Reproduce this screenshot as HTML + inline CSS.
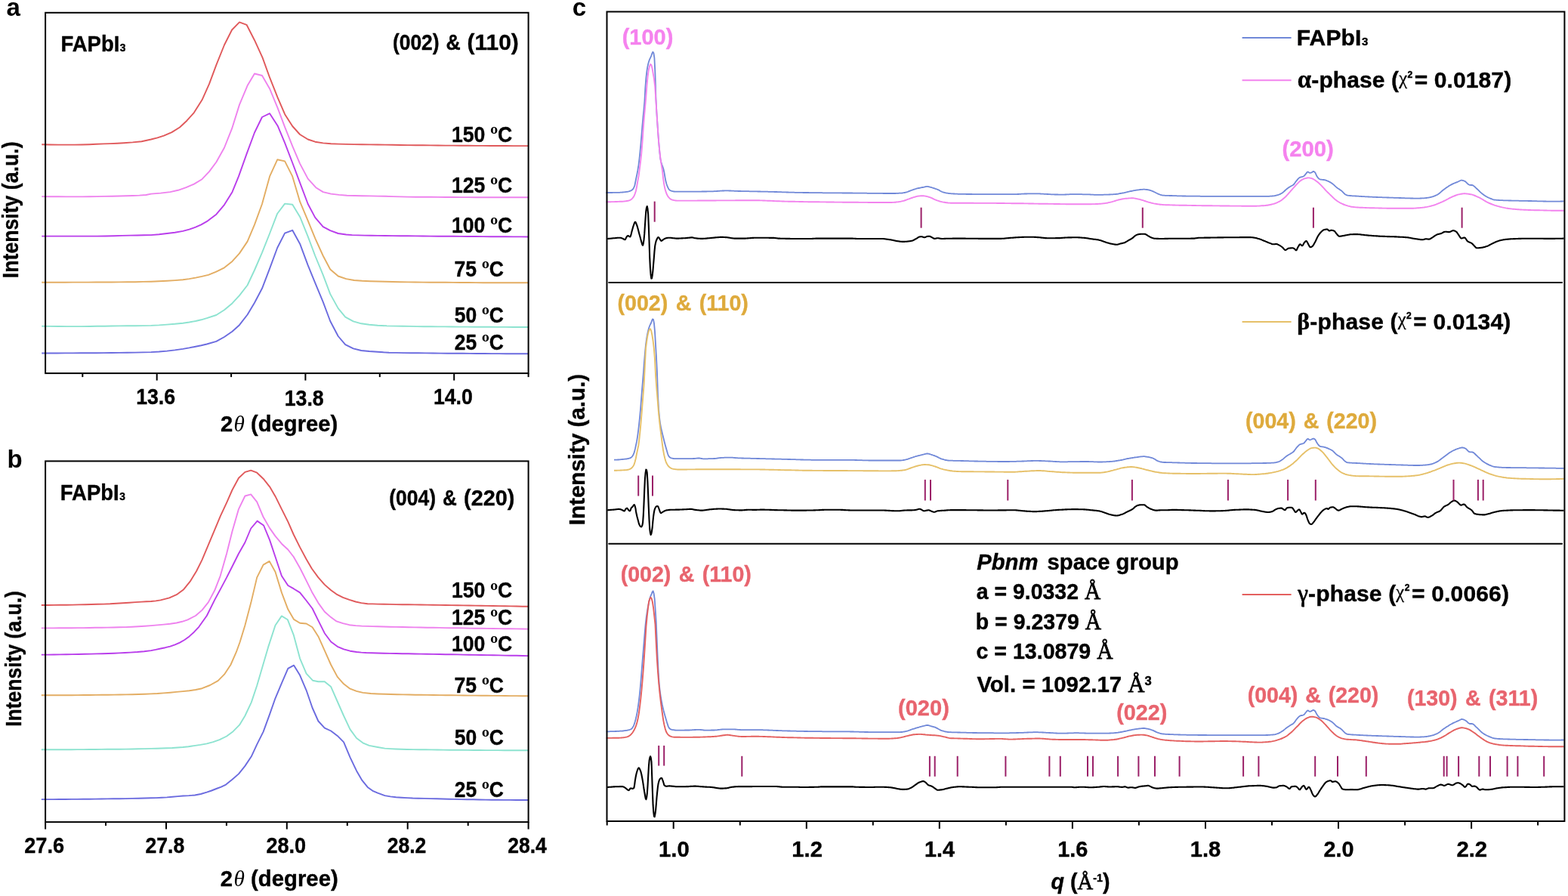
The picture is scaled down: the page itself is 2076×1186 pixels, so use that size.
<!DOCTYPE html>
<html lang="en">
<head>
<meta charset="utf-8">
<title>FAPbI3 temperature-dependent XRD and Le Bail fits</title>
<style>
html,body{margin:0;padding:0;background:#fff;}
body{width:2076px;height:1186px;overflow:hidden;}
svg{display:block;}
text{font-family:"Liberation Sans",Arial,Helvetica,sans-serif;font-weight:bold;}
</style>
</head>
<body>
<svg width="2076" height="1186" viewBox="0 0 2076 1186">
<rect x="0" y="0" width="2076" height="1186" fill="#fff"/>
<g id="panel-a">
<polyline points="55.3,191.3 66.2,191.5 77.2,191.6 88.1,191.6 99,191.6 108.6,191.5 118.2,191.2 127.8,190.8 137.4,190.4 146.2,190.1 155.1,189.7 163.9,189.2 175.7,188.4 187.5,187.2 200,184.5 208.4,182.3 216.9,179.7 227.4,175.1 238,168.5 247.4,159.7 256.9,149.1 267.5,132.3 277,111.2 286.4,85.9 297,59.5 307.1,39.5 317,29.4 326.5,32.8 337,53.2 347.6,76.4 357.1,102.7 367.6,129.1 377.1,151.2 387.2,167 397.1,178 407.7,184.5 417.2,187.7 427.7,189.4 438.2,190.2 448.2,190.6 458.3,190.9 468.7,191.1 479.1,191.2 489.6,191.4 500,191.5 510,191.6 520,191.8 530,192 540,192.1 550,192.2 560,192.3 569.9,192.4 579.9,192.5 589.9,192.6 599.9,192.6 609.8,192.7 619.8,192.8 629.8,192.9 639.8,192.9 649.7,193 659.7,193 669.7,193 679.7,193.1 689.6,193.1 699.6,193.1" fill="none" stroke="#E0595B" stroke-width="1.9" stroke-linejoin="round" stroke-linecap="butt" />
<polyline points="55.3,260.1 66.2,260.2 77.2,260.3 88.1,260.4 99,260.4 108.8,260.4 118.7,260.3 128.5,260.1 138.3,259.9 148.2,259.7 158,259.5 166.8,259.3 175.7,259 184.6,258.6 193.4,258 200,256.6 212.7,255.6 225.3,254.1 235.8,251.8 246.4,248.2 256.9,243.6 267.5,237.2 277,227.1 286.4,214.5 297,195.5 307.1,170.2 317,138.6 327.6,113.3 337,97.5 347,100 357.1,117.5 367.6,142.8 377.1,168.1 387.2,193.4 397.1,216.6 407.7,236.6 418.2,248.2 427.7,254.1 438.2,256.6 448.8,257.9 459.3,258.7 469.5,259 479.6,259.2 489.8,259.4 500,259.6 510,259.8 520,260.1 530,260.4 540,260.6 550,260.7 560,260.8 569.9,260.8 579.9,260.9 589.9,261 599.9,261 609.8,261.1 619.8,261.1 629.8,261.2 639.8,261.2 649.7,261.2 659.7,261.3 669.7,261.3 679.7,261.3 689.6,261.3 699.6,261.3" fill="none" stroke="#EE82EE" stroke-width="1.9" stroke-linejoin="round" stroke-linecap="butt" />
<polyline points="55.3,312.6 65.8,312.6 76.2,312.6 86.7,312.6 97.1,312.6 107.6,312.6 118,312.6 128.5,312.6 139.6,312.5 150.7,312.2 161.7,311.9 172.8,311.6 181.9,311.5 190.9,311.3 200,311.1 210.6,310.3 221.1,309 231.6,307.7 242.2,305.9 250.6,303.6 259,300.6 266.4,297.3 273.8,293.2 286.4,283.7 297,271.1 307.5,254.2 316,233.4 326.5,203.9 337,175.5 347,155 357.1,150.2 367.6,166.4 377.1,189.2 387.2,215.5 397.1,241.9 407.7,270 417.2,287.9 427.7,300.2 437.2,305.2 447.7,309 458.3,310.5 466.2,311.1 474.1,311.4 482.7,311.6 491.4,311.8 500,311.9 510,312 520,312.1 530,312.2 540,312.3 550,312.4 560,312.5 569.9,312.6 579.9,312.7 589.9,312.7 599.9,312.8 609.8,312.9 619.8,313 629.8,313 639.8,313.1 649.7,313.2 659.7,313.3 669.7,313.3 679.7,313.4 689.6,313.4 699.6,313.5" fill="none" stroke="#B93DEB" stroke-width="1.9" stroke-linejoin="round" stroke-linecap="butt" />
<polyline points="55.3,373.7 65.6,373.7 75.8,373.7 86.1,373.7 96.4,373.6 106.7,373.6 116.9,373.6 127.2,373.5 137.5,373.5 147.7,373.5 158,373.4 168.5,373.3 179,373.2 189.5,372.9 200,372.7 210.6,372.3 221.1,371.8 231.6,371.1 242.2,370.2 250.6,369.1 259,367.6 267.4,365.9 275.9,363.8 286.4,359.6 297,354.3 307.5,345.9 317,335.4 327.6,319.6 337,297.4 347,270 357.1,233.4 367.2,211.3 377.1,213.4 387.2,233.4 397.1,266.9 407.7,292.2 417.2,315.3 427.7,338.5 437.2,356.5 447.7,365.5 458.3,369.1 468.8,371 479.4,371.8 489.7,372.2 500,372.5 510,372.8 520,373 530,373.2 540,373.4 550,373.5 560,373.6 569.9,373.7 579.9,373.8 589.9,373.8 599.9,373.9 609.8,374 619.8,374 629.8,374.1 639.8,374.2 649.7,374.2 659.7,374.2 669.7,374.3 679.7,374.3 689.6,374.3 699.6,374.3" fill="none" stroke="#E3AD63" stroke-width="1.9" stroke-linejoin="round" stroke-linecap="butt" />
<polyline points="55.3,431.8 66.2,431.9 77.2,432 88.1,432.1 99,432.1 108.8,432.1 118.7,432 128.5,431.8 138.3,431.7 148.2,431.5 158,431.4 168.5,431.3 179,431.2 189.5,431.1 200,430.9 210.6,430.4 221.1,429.6 231.6,428.8 242.2,427.7 250.6,426.5 259,425 266.4,423.3 273.8,421.2 286.4,417 297,410.2 307.5,401.4 317,391.2 327.6,377.5 337,357.5 347,334.3 357.1,309 367.2,282.7 377.1,269.6 387.2,270.7 397.1,286.9 407.7,313.2 417.2,338.5 427.7,363.8 437.2,389.1 447.7,408.1 457.2,419.7 467.8,425.4 478.3,428.3 488.8,429.8 500,430.7 512,431.3 524,431.6 533.2,431.8 542.5,431.9 551.8,432.1 561,432.2 570.2,432.3 579.5,432.4 588.8,432.4 598,432.5 608.2,432.6 618.3,432.6 628.5,432.7 638.6,432.8 648.8,432.8 659,432.9 669.1,432.9 679.3,433 689.4,433 699.6,433" fill="none" stroke="#8DE3D0" stroke-width="1.9" stroke-linejoin="round" stroke-linecap="butt" />
<polyline points="55.3,467.5 65.6,467.5 75.8,467.5 86.1,467.4 96.4,467.4 106.7,467.3 116.9,467.3 127.2,467.2 137.5,467.1 147.7,467 158,466.9 168.5,466.8 179,466.6 189.5,466.4 200,466.1 210.6,465.5 221.1,464.6 231.6,463.4 242.2,461.9 250.6,460.4 259,458.7 266.4,457.2 273.8,455.5 286.4,451.9 297,446 307.5,438.7 317,430.2 327.6,416.5 337,400.7 347,381.8 357.1,355.4 367.2,328 377.1,308.6 387.2,304.8 397.1,322.7 407.7,351.2 417.2,374.4 427.7,399.7 437.2,425 447.7,445 457.2,456.2 467.8,461.4 478.3,464 488.8,465 500,465.7 507.5,466.3 515,466.7 524.8,466.9 534.5,467.1 544.2,467.2 554,467.3 563.7,467.4 573.4,467.5 583.1,467.6 592.8,467.7 602.5,467.7 612.2,467.8 621.9,467.9 631.7,468 641.4,468 651.1,468.1 660.8,468.1 670.5,468.2 680.2,468.2 689.9,468.2 699.6,468.2" fill="none" stroke="#6B6BDF" stroke-width="1.9" stroke-linejoin="round" stroke-linecap="butt" />
<rect x="60.1" y="16.8" width="639.5" height="477.3" fill="none" stroke="#000" stroke-width="2"/>
<line x1="207.7" y1="494.1" x2="207.7" y2="503.6" stroke="#000" stroke-width="2"/>
<line x1="404.4" y1="494.1" x2="404.4" y2="503.6" stroke="#000" stroke-width="2"/>
<line x1="601.2" y1="494.1" x2="601.2" y2="503.6" stroke="#000" stroke-width="2"/>
<line x1="109.3" y1="494.1" x2="109.3" y2="499.1" stroke="#000" stroke-width="2"/>
<line x1="306.1" y1="494.1" x2="306.1" y2="499.1" stroke="#000" stroke-width="2"/>
<line x1="502.8" y1="494.1" x2="502.8" y2="499.1" stroke="#000" stroke-width="2"/>
<line x1="699.6" y1="494.1" x2="699.6" y2="499.1" stroke="#000" stroke-width="2"/>
</g>
<g id="panel-b">
<polyline points="54.8,801 63.1,801 71.3,800.9 79.6,800.8 87.8,800.7 96.1,800.6 104.4,800.4 112.6,800.2 120.9,800 129.1,799.8 137.4,799.6 145.8,799.3 154.1,798.8 162.4,798.3 170.8,797.7 179.2,797.1 187.5,796.6 193.8,796.3 200,796 206.3,795.4 212.6,794.4 224.2,791.4 233.7,787.2 243.2,780.2 251.7,769.7 260.1,756 267.5,741.2 275.9,721.2 284.3,701.2 291.7,683.3 300.1,665.3 307.5,648.5 316,632.7 324.4,624.9 332.2,622.6 340.2,625.7 348.6,633.7 357.1,644.3 364.5,656.9 372.9,673.8 381.3,690.6 388.7,707.5 397.1,724.4 405.6,740.2 412.9,752.8 421.4,764.4 429.8,773.9 438.2,781.3 445.6,786.6 454.1,790.8 462.5,793.9 470.9,796.5 478.3,798.1 486.7,799.2 493.4,799.4 500,799.6 508.2,799.8 516.3,799.9 524.5,800.1 532.7,800.2 540.8,800.3 549,800.4 557.2,800.5 565.3,800.6 573.5,800.7 581.7,800.9 589.8,801 598,801.1 605.8,801.2 613.6,801.4 621.4,801.5 629.3,801.6 637.1,801.7 644.9,801.9 652.7,802 660.5,802.1 668.3,802.3 676.2,802.4 684,802.5 691.8,802.7 699.6,802.8" fill="none" stroke="#E0595B" stroke-width="1.9" stroke-linejoin="round" stroke-linecap="butt" />
<polyline points="54.8,831.4 62.7,831.4 70.7,831.4 78.6,831.3 86.6,831.3 94.5,831.2 102.4,831.1 110.4,831.1 118.3,831 126.2,830.8 134.2,830.7 142.1,830.6 150.1,830.5 158,830.3 166.4,830.1 174.8,829.7 183.2,829.2 191.6,828.7 200,828.1 208.4,827.4 216.9,826.6 225.3,825.7 233.7,824.5 241.1,822.8 248.5,820.3 259,815 267.5,807.6 275.9,797.1 284.3,781.3 291.7,762.3 300.1,732.8 307.5,703.3 316,673.8 324.4,656.5 332.2,654.4 340.2,664.3 348.6,684.3 357.1,699.1 364.5,709.6 372.9,719.7 381.3,727.5 388.7,737 397.1,751.8 405.6,768.6 412.9,783.4 421.4,798.1 429.8,809.7 438.2,817.1 445.6,822.4 454.1,825.1 462.5,827.2 470.9,828.1 478.8,828.6 486.7,828.9 493.4,829.1 500,829.3 508.2,829.5 516.3,829.7 524.5,829.9 532.7,830 540.8,830.2 549,830.4 557.2,830.5 565.3,830.7 573.5,830.8 581.7,830.9 589.8,831.1 598,831.2 605.8,831.3 613.6,831.4 621.4,831.6 629.3,831.7 637.1,831.8 644.9,831.9 652.7,832 660.5,832.1 668.3,832.2 676.2,832.3 684,832.4 691.8,832.5 699.6,832.6" fill="none" stroke="#EE82EE" stroke-width="1.9" stroke-linejoin="round" stroke-linecap="butt" />
<polyline points="54.8,866.6 63,866.6 71.2,866.5 79.4,866.4 87.6,866.3 95.7,866.1 103.9,866 112.1,865.8 120.3,865.6 128.5,865.4 135.9,865.2 143.3,865 150.7,864.7 158,864.4 165.4,864 172.8,863.6 181.9,863 190.9,862.2 200,861.1 206.3,859.9 212.6,858.5 218.9,857.2 225.3,855.6 231.7,853.4 238,850.6 244.3,847 250.6,842.4 256.9,836.7 263.3,829.8 273.8,815 284.3,793.9 292.8,778.1 300.1,764.4 307.5,749.7 316,732.8 324.4,718 332.2,699.5 340.6,689.6 349.1,695.5 357.1,714.9 364.5,737 372.9,762.3 381.3,775 388.7,779.2 397.1,784.4 405.6,795 413.6,805.5 421.4,821.3 429.8,838.2 438.2,849.5 446.7,855.8 455.1,859.4 463.5,861.7 472,863 478.3,863.6 484.6,864 492.3,864.3 500,864.5 508.2,864.7 516.3,864.9 524.5,865 532.7,865.2 540.8,865.3 549,865.5 557.2,865.6 565.3,865.8 573.5,865.9 581.7,866 589.8,866.2 598,866.3 605.8,866.4 613.6,866.6 621.4,866.7 629.3,866.9 637.1,867 644.9,867.1 652.7,867.3 660.5,867.4 668.3,867.6 676.2,867.7 684,867.8 691.8,868 699.6,868.1" fill="none" stroke="#B93DEB" stroke-width="1.9" stroke-linejoin="round" stroke-linecap="butt" />
<polyline points="54.8,920.3 62.8,920.3 70.8,920.3 78.8,920.3 86.9,920.2 94.9,920.2 102.9,920.1 110.9,920 118.9,920 126.9,919.9 134.9,919.8 143,919.7 151,919.6 159,919.5 167,919.4 175.2,919.2 183.5,919 191.8,918.7 200,918.4 208.4,918 216.9,917.4 225.3,916.7 233.7,915.9 242.1,915.1 250.6,914.2 259.1,913 267.5,911.2 278,907 288.6,901.1 297,892.7 305.4,880 312.8,863.2 317.6,850 324.4,827.7 332.2,798.1 340.2,764.4 348.6,747.6 356.7,742.9 364.5,757 372.9,784.4 381.3,806.6 389.1,819.9 397.1,824.7 405.6,825.5 413.6,830.2 421.4,842.4 429.8,861.1 438.2,880 446.7,895.9 455.1,905.3 463.5,911.7 472,914.8 480.4,916.9 491,918 500.2,918.5 509.5,918.8 517.5,919 525.6,919.2 533.6,919.4 541.7,919.5 549.7,919.7 557.8,919.8 565.8,919.9 573.9,920 581.9,920.1 590,920.2 598,920.3 605.8,920.4 613.6,920.5 621.4,920.6 629.3,920.6 637.1,920.7 644.9,920.8 652.7,920.9 660.5,920.9 668.3,921 676.2,921.1 684,921.1 691.8,921.2 699.6,921.2" fill="none" stroke="#E3AD63" stroke-width="1.9" stroke-linejoin="round" stroke-linecap="butt" />
<polyline points="54.8,992.3 62.7,992.3 70.7,992.3 78.6,992.3 86.6,992.2 94.5,992.2 102.4,992.1 110.4,992.1 118.3,992 126.2,992 134.2,991.9 142.1,991.8 150.1,991.8 158,991.7 166.4,991.6 174.8,991.5 183.2,991.3 191.6,991.1 200,990.9 207,990.7 214.1,990.5 221.1,990.3 228.1,990 235.2,989.5 242.2,989 249.5,988.2 256.9,987.1 265.4,985.9 273.8,984.4 282.2,982.1 290.7,979.1 300.1,974.5 308.6,968.2 317,959.7 324.4,947.5 332.8,929.6 340.2,907.5 347.6,882.2 355,856.9 364.5,827.7 372.9,815.4 380.9,820.3 388.7,840.3 397.1,871.6 405.6,891.6 414,900.7 421.4,902.2 429.8,902.2 438.2,909.1 446.7,928.5 455.1,947.5 463.5,965.4 472,977 480.4,983.3 488.8,986.9 500,989 509.5,990.6 516.9,991.1 524.2,991.5 531.6,991.8 539,992 547,992.1 555.1,992.2 563.1,992.3 571.1,992.4 579.1,992.5 587.2,992.6 595.2,992.7 603.2,992.8 611.3,992.8 619.3,992.9 627.3,993 635.4,993 643.4,993.1 651.4,993.1 659.5,993.1 667.5,993.2 675.5,993.2 683.5,993.2 691.6,993.2 699.6,993.2" fill="none" stroke="#8DE3D0" stroke-width="1.9" stroke-linejoin="round" stroke-linecap="butt" />
<polyline points="54.8,1058.1 62.7,1058.1 70.7,1058.1 78.6,1058 86.6,1058 94.5,1057.9 102.4,1057.9 110.4,1057.8 118.3,1057.7 126.2,1057.6 134.2,1057.5 142.1,1057.4 150.1,1057.3 158,1057.2 166.4,1057.1 174.8,1056.9 183.2,1056.7 191.6,1056.5 200,1056.3 207,1056.1 214.1,1055.8 221.1,1055.4 228.1,1054.8 235.2,1054.1 242.2,1053.5 250.1,1053.1 258,1052.5 265.9,1051 273.8,1048.7 280.1,1046.5 286.4,1044 292.8,1041.6 299.1,1038.6 307.5,1031.8 316,1024.4 324.4,1013.9 332.8,1001.3 340.2,985.4 348.6,968.6 357.1,945.4 364.5,924.3 372.9,904.3 381.3,884.9 389.1,880.7 397.1,893.8 405.6,913.8 413.6,937 421.4,954.5 429.8,963.7 438.2,967.5 446.7,973.9 455.1,982.3 463.5,1002.3 472,1020.2 479.4,1032.9 486.7,1041.9 494.1,1047.2 500,1049.7 509.5,1053.1 516.9,1054.4 524.3,1055.2 531.7,1055.7 539,1056.1 546.4,1056.5 553.8,1056.7 561.9,1056.9 570,1057.1 578.1,1057.3 586.2,1057.5 594.3,1057.7 602.4,1057.9 610.5,1058.1 618.6,1058.2 626.7,1058.3 634.8,1058.5 642.9,1058.6 651,1058.7 659.1,1058.8 667.2,1058.9 675.3,1058.9 683.4,1059 691.5,1059 699.6,1059" fill="none" stroke="#6B6BDF" stroke-width="1.9" stroke-linejoin="round" stroke-linecap="butt" />
<rect x="60.1" y="610.4" width="639.5" height="477.69999999999993" fill="none" stroke="#000" stroke-width="2"/>
<line x1="60.1" y1="1088.1" x2="60.1" y2="1097.6" stroke="#000" stroke-width="2"/>
<line x1="220" y1="1088.1" x2="220" y2="1097.6" stroke="#000" stroke-width="2"/>
<line x1="379.8" y1="1088.1" x2="379.8" y2="1097.6" stroke="#000" stroke-width="2"/>
<line x1="539.7" y1="1088.1" x2="539.7" y2="1097.6" stroke="#000" stroke-width="2"/>
<line x1="699.6" y1="1088.1" x2="699.6" y2="1097.6" stroke="#000" stroke-width="2"/>
<line x1="140" y1="1088.1" x2="140" y2="1093.1" stroke="#000" stroke-width="2"/>
<line x1="299.9" y1="1088.1" x2="299.9" y2="1093.1" stroke="#000" stroke-width="2"/>
<line x1="459.8" y1="1088.1" x2="459.8" y2="1093.1" stroke="#000" stroke-width="2"/>
<line x1="619.7" y1="1088.1" x2="619.7" y2="1093.1" stroke="#000" stroke-width="2"/>
</g>
<g id="panel-c">
<polyline points="802.4,255 803.4,255 804.4,255 805.4,255 806.4,255 807.4,255 808.4,255 809.4,255 810.4,255 811.4,254.9 812.4,254.9 813.4,254.9 814.4,254.9 815.4,254.9 816.4,254.9 817.4,254.8 818.4,254.8 819.4,254.8 820.4,254.8 821.4,254.7 822.4,254.7 823.4,254.6 824.4,254.5 825.4,254.4 826.4,254.3 827.4,254.2 828.4,254.1 829.4,253.9 830.4,253.8 831.4,253.6 832.4,253.4 833.4,253.1 834.4,252.7 835.4,252.3 836.4,251.7 837.4,251 838.4,249.8 839.4,247.9 840.4,245.2 841.4,240.2 842.4,235.3 843.4,230.5 844.4,225.2 845.4,218.9 846.4,211 847.4,201.7 848.4,191.2 849.4,179.2 850.4,166.9 851.4,155.9 852.4,145.8 853.4,134.1 854.4,115.9 855.4,103.1 856.4,94.4 857.4,88.2 858.4,83.7 859.4,80.4 860.4,77.9 861.4,75.8 862.4,73.5 863.4,70.6 864.4,68.7 865.4,70.2 866.4,76.6 867.4,97 868.4,130.1 869.4,148.8 870.4,163.5 871.4,178.1 872.4,190.8 873.4,201.9 874.4,210.4 875.4,214.9 876.4,218.1 877.4,220.8 878.4,223.8 879.4,228.1 880.4,234.1 881.4,239.6 882.4,243.3 883.4,246.2 884.4,248.4 885.4,250.2 886.4,251.5 887.4,252.1 888.4,252.5 889.4,252.9 890.4,253.1 891.4,253.4 892.4,253.5 893.4,253.6 894.4,253.6 895.4,253.6 896.4,253.6 897.4,253.6 898.4,253.6 899.4,253.6 900.4,253.6 901.4,253.6 902.4,253.6 903.4,253.6 904.4,253.6 905.4,253.6 906.4,253.6 907.4,253.6 908.4,253.6 909.4,253.6 910.4,253.6 911.4,253.6 912.4,253.6 913.4,253.6 914.4,253.6 915.4,253.6 916.4,253.6 917.4,253.6 918.4,253.6 919.4,253.6 920.4,253.6 921.4,253.6 922.4,253.6 923.4,253.6 924.4,253.6 925.4,253.6 926.4,253.6 927.4,253.6 928.4,253.6 929.4,253.5 930.4,253.5 931.4,253.5 932.4,253.5 933.4,253.5 934.4,253.5 935.4,253.5 936.4,253.4 937.4,253.4 938.4,253.4 939.4,253.4 940.4,253.4 941.4,253.3 942.4,253.3 943.4,253.3 944.4,253.3 945.4,253.2 946.4,253.2 947.4,253.1 948.4,253.1 949.4,253 950.4,252.9 951.4,252.9 952.4,252.8 953.4,252.7 954.4,252.7 955.4,252.6 956.4,252.5 957.4,252.5 958.4,252.5 959.4,252.4 960.4,252.4 961.4,252.4 962.4,252.4 963.4,252.4 964.4,252.4 965.4,252.5 966.4,252.5 967.4,252.5 968.4,252.6 969.4,252.6 970.4,252.7 971.4,252.7 972.4,252.8 973.4,252.8 974.4,252.8 975.4,252.9 976.4,252.9 977.4,253 978.4,253 979.4,253 980.4,253 981.4,253.1 982.4,253.1 983.4,253.1 984.4,253.1 985.4,253.1 986.4,253.2 987.4,253.2 988.4,253.2 989.4,253.2 990.4,253.2 991.4,253.2 992.4,253.3 993.4,253.3 994.4,253.3 995.4,253.3 996.4,253.3 997.4,253.3 998.4,253.4 999.4,253.4 1000.4,253.4 1001.4,253.4 1002.4,253.4 1003.4,253.5 1004.4,253.5 1005.4,253.5 1006.4,253.5 1007.4,253.6 1008.4,253.6 1009.4,253.6 1010.4,253.6 1011.4,253.6 1012.4,253.7 1013.4,253.7 1014.4,253.7 1015.4,253.7 1016.4,253.7 1017.4,253.8 1018.4,253.8 1019.4,253.8 1020.4,253.8 1021.4,253.9 1022.4,253.9 1023.4,253.9 1024.4,253.9 1025.4,254 1026.4,254 1027.4,254 1028.4,254 1029.4,254.1 1030.4,254.1 1031.4,254.1 1032.4,254.2 1033.4,254.2 1034.4,254.2 1035.4,254.3 1036.4,254.3 1037.4,254.3 1038.4,254.4 1039.4,254.4 1040.4,254.4 1041.4,254.5 1042.4,254.5 1043.4,254.5 1044.4,254.6 1045.4,254.6 1046.4,254.6 1047.4,254.6 1048.4,254.7 1049.4,254.7 1050.4,254.7 1051.4,254.7 1052.4,254.8 1053.4,254.8 1054.4,254.8 1055.4,254.8 1056.4,254.8 1057.4,254.9 1058.4,254.9 1059.4,254.9 1060.4,254.9 1061.4,254.9 1062.4,254.9 1063.4,255 1064.4,255 1065.4,255 1066.4,255 1067.4,255 1068.4,255 1069.4,255 1070.4,255 1071.4,255.1 1072.4,255.1 1073.4,255.1 1074.4,255.1 1075.4,255.1 1076.4,255.1 1077.4,255.1 1078.4,255.1 1079.4,255.2 1080.4,255.2 1081.4,255.2 1082.4,255.2 1083.4,255.2 1084.4,255.2 1085.4,255.2 1086.4,255.2 1087.4,255.2 1088.4,255.2 1089.4,255.3 1090.4,255.3 1091.4,255.3 1092.4,255.3 1093.4,255.3 1094.4,255.3 1095.4,255.3 1096.4,255.3 1097.4,255.3 1098.4,255.3 1099.4,255.3 1100.4,255.4 1101.4,255.4 1102.4,255.4 1103.4,255.4 1104.4,255.4 1105.4,255.4 1106.4,255.4 1107.4,255.4 1108.4,255.4 1109.4,255.4 1110.4,255.4 1111.4,255.4 1112.4,255.4 1113.4,255.4 1114.4,255.4 1115.4,255.5 1116.4,255.5 1117.4,255.5 1118.4,255.5 1119.4,255.5 1120.4,255.5 1121.4,255.5 1122.4,255.5 1123.4,255.5 1124.4,255.5 1125.4,255.5 1126.4,255.5 1127.4,255.5 1128.4,255.5 1129.4,255.6 1130.4,255.6 1131.4,255.6 1132.4,255.6 1133.4,255.6 1134.4,255.6 1135.4,255.6 1136.4,255.6 1137.4,255.6 1138.4,255.6 1139.4,255.6 1140.4,255.7 1141.4,255.7 1142.4,255.7 1143.4,255.7 1144.4,255.7 1145.4,255.7 1146.4,255.7 1147.4,255.7 1148.4,255.8 1149.4,255.8 1150.4,255.8 1151.4,255.8 1152.4,255.8 1153.4,255.8 1154.4,255.8 1155.4,255.8 1156.4,255.9 1157.4,255.9 1158.4,255.9 1159.4,255.9 1160.4,255.9 1161.4,255.9 1162.4,255.9 1163.4,255.9 1164.4,255.9 1165.4,255.9 1166.4,255.9 1167.4,255.9 1168.4,255.9 1169.4,256 1170.4,256 1171.4,256 1172.4,256 1173.4,256 1174.4,256 1175.4,256 1176.4,256 1177.4,256 1178.4,256 1179.4,256 1180.4,256 1181.4,256 1182.4,256 1183.4,256 1184.4,256 1185.4,256 1186.4,255.9 1187.4,255.9 1188.4,255.8 1189.4,255.8 1190.4,255.7 1191.4,255.7 1192.4,255.6 1193.4,255.6 1194.4,255.5 1195.4,255.3 1196.4,255.2 1197.4,255 1198.4,254.8 1199.4,254.5 1200.4,254.3 1201.4,254 1202.4,253.6 1203.4,253.2 1204.4,252.8 1205.4,252.4 1206.4,252 1207.4,251.6 1208.4,251.3 1209.4,250.9 1210.4,250.6 1211.4,250.3 1212.4,250 1213.4,249.7 1214.4,249.4 1215.4,249.2 1216.4,249 1217.4,248.8 1218.4,248.6 1219.4,248.4 1220.4,248.2 1221.4,248 1222.4,247.8 1223.4,247.6 1224.4,247.3 1225.4,247.1 1226.4,246.9 1227.4,246.8 1228.4,246.9 1229.4,247.1 1230.4,247.4 1231.4,247.7 1232.4,247.9 1233.4,248.2 1234.4,248.5 1235.4,248.8 1236.4,249.1 1237.4,249.4 1238.4,249.8 1239.4,250.1 1240.4,250.5 1241.4,250.9 1242.4,251.3 1243.4,251.8 1244.4,252.4 1245.4,253 1246.4,253.5 1247.4,254 1248.4,254.3 1249.4,254.6 1250.4,254.9 1251.4,255.2 1252.4,255.4 1253.4,255.6 1254.4,255.7 1255.4,255.8 1256.4,256 1257.4,256.1 1258.4,256.2 1259.4,256.3 1260.4,256.3 1261.4,256.4 1262.4,256.5 1263.4,256.5 1264.4,256.6 1265.4,256.6 1266.4,256.7 1267.4,256.7 1268.4,256.8 1269.4,256.8 1270.4,256.8 1271.4,256.8 1272.4,256.8 1273.4,256.9 1274.4,256.9 1275.4,256.9 1276.4,256.9 1277.4,256.9 1278.4,256.9 1279.4,257 1280.4,257 1281.4,257 1282.4,257 1283.4,257 1284.4,257 1285.4,257 1286.4,257 1287.4,257.1 1288.4,257.1 1289.4,257.1 1290.4,257.1 1291.4,257.1 1292.4,257.1 1293.4,257.1 1294.4,257.1 1295.4,257.1 1296.4,257.1 1297.4,257.1 1298.4,257.1 1299.4,257.1 1300.4,257.1 1301.4,257.1 1302.4,257.1 1303.4,257.1 1304.4,257.1 1305.4,257.1 1306.4,257.1 1307.4,257.1 1308.4,257.1 1309.4,257.1 1310.4,257.1 1311.4,257.1 1312.4,257.1 1313.4,257.1 1314.4,257.1 1315.4,257.1 1316.4,257.1 1317.4,257.1 1318.4,257.1 1319.4,257.1 1320.4,257.1 1321.4,257.1 1322.4,257.1 1323.4,257.1 1324.4,257.1 1325.4,257.1 1326.4,257.1 1327.4,257.1 1328.4,257.1 1329.4,257.1 1330.4,257.1 1331.4,257.1 1332.4,257.1 1333.4,257.1 1334.4,257.1 1335.4,257.1 1336.4,257.1 1337.4,257.1 1338.4,257.1 1339.4,257.1 1340.4,257.1 1341.4,257.1 1342.4,257.1 1343.4,257.1 1344.4,257.1 1345.4,257.1 1346.4,257.1 1347.4,257 1348.4,257 1349.4,256.9 1350.4,256.9 1351.4,256.8 1352.4,256.7 1353.4,256.7 1354.4,256.6 1355.4,256.6 1356.4,256.5 1357.4,256.5 1358.4,256.5 1359.4,256.5 1360.4,256.4 1361.4,256.4 1362.4,256.4 1363.4,256.4 1364.4,256.4 1365.4,256.3 1366.4,256.3 1367.4,256.3 1368.4,256.3 1369.4,256.3 1370.4,256.3 1371.4,256.3 1372.4,256.3 1373.4,256.3 1374.4,256.4 1375.4,256.4 1376.4,256.4 1377.4,256.5 1378.4,256.6 1379.4,256.6 1380.4,256.7 1381.4,256.7 1382.4,256.8 1383.4,256.8 1384.4,256.9 1385.4,256.9 1386.4,257 1387.4,257 1388.4,257.1 1389.4,257.1 1390.4,257.2 1391.4,257.3 1392.4,257.3 1393.4,257.3 1394.4,257.4 1395.4,257.4 1396.4,257.5 1397.4,257.5 1398.4,257.5 1399.4,257.5 1400.4,257.5 1401.4,257.6 1402.4,257.6 1403.4,257.6 1404.4,257.6 1405.4,257.6 1406.4,257.6 1407.4,257.6 1408.4,257.6 1409.4,257.6 1410.4,257.5 1411.4,257.5 1412.4,257.4 1413.4,257.4 1414.4,257.3 1415.4,257.3 1416.4,257.2 1417.4,257.2 1418.4,257.2 1419.4,257.2 1420.4,257.2 1421.4,257.2 1422.4,257.2 1423.4,257.2 1424.4,257.2 1425.4,257.2 1426.4,257.2 1427.4,257.2 1428.4,257.2 1429.4,257.2 1430.4,257.2 1431.4,257.2 1432.4,257.2 1433.4,257.3 1434.4,257.3 1435.4,257.3 1436.4,257.3 1437.5,257.3 1438.5,257.3 1439.5,257.3 1440.5,257.3 1441.5,257.4 1442.5,257.4 1443.5,257.5 1444.5,257.6 1445.5,257.6 1446.5,257.7 1447.5,257.7 1448.5,257.8 1449.5,257.8 1450.5,257.9 1451.5,257.9 1452.5,257.9 1453.5,257.9 1454.5,257.9 1455.5,257.9 1456.5,257.9 1457.5,257.8 1458.5,257.8 1459.5,257.8 1460.5,257.8 1461.5,257.7 1462.5,257.7 1463.5,257.7 1464.5,257.7 1465.5,257.6 1466.5,257.6 1467.5,257.6 1468.5,257.5 1469.5,257.5 1470.5,257.4 1471.5,257.4 1472.5,257.3 1473.5,257.3 1474.5,257.2 1475.5,257.2 1476.5,257.1 1477.5,257 1478.5,256.9 1479.5,256.8 1480.5,256.6 1481.5,256.4 1482.5,256.2 1483.5,256 1484.5,255.9 1485.5,255.7 1486.5,255.5 1487.5,255.3 1488.5,255.1 1489.5,254.8 1490.5,254.6 1491.5,254.4 1492.5,254.1 1493.5,253.9 1494.5,253.7 1495.5,253.4 1496.5,253.2 1497.5,253 1498.5,252.8 1499.5,252.6 1500.5,252.4 1501.5,252.2 1502.5,252.1 1503.5,251.9 1504.5,251.7 1505.5,251.6 1506.5,251.4 1507.5,251.3 1508.5,251.2 1509.5,251 1510.5,250.9 1511.5,250.8 1512.5,250.8 1513.5,250.7 1514.5,250.7 1515.5,250.7 1516.5,250.8 1517.5,250.9 1518.5,251 1519.5,251.1 1520.5,251.3 1521.5,251.5 1522.5,251.8 1523.5,252.1 1524.5,252.5 1525.5,252.9 1526.5,253.3 1527.5,253.7 1528.5,254.2 1529.5,254.7 1530.5,255.3 1531.5,255.8 1532.5,256.3 1533.5,256.7 1534.5,257.1 1535.5,257.5 1536.5,257.8 1537.5,258.2 1538.5,258.4 1539.5,258.6 1540.5,258.6 1541.5,258.7 1542.5,258.8 1543.5,258.8 1544.5,258.8 1545.5,258.9 1546.5,258.9 1547.5,258.9 1548.5,259 1549.5,259 1550.5,259 1551.5,259 1552.5,259.1 1553.5,259.1 1554.5,259.1 1555.5,259.2 1556.5,259.2 1557.5,259.2 1558.5,259.3 1559.5,259.3 1560.5,259.3 1561.5,259.4 1562.5,259.4 1563.5,259.4 1564.5,259.4 1565.5,259.5 1566.5,259.5 1567.5,259.5 1568.5,259.5 1569.5,259.5 1570.5,259.6 1571.5,259.6 1572.5,259.6 1573.5,259.6 1574.5,259.6 1575.5,259.6 1576.5,259.6 1577.5,259.6 1578.5,259.7 1579.5,259.7 1580.5,259.7 1581.5,259.7 1582.5,259.7 1583.5,259.7 1584.5,259.7 1585.5,259.7 1586.5,259.7 1587.5,259.7 1588.5,259.7 1589.5,259.8 1590.5,259.8 1591.5,259.8 1592.5,259.8 1593.5,259.8 1594.5,259.8 1595.5,259.8 1596.5,259.8 1597.5,259.8 1598.5,259.8 1599.5,259.8 1600.5,259.8 1601.5,259.8 1602.5,259.8 1603.5,259.9 1604.5,259.9 1605.5,259.9 1606.5,259.9 1607.5,259.9 1608.5,259.9 1609.5,259.9 1610.5,259.9 1611.5,259.9 1612.5,259.9 1613.5,259.9 1614.5,259.9 1615.5,259.9 1616.5,259.9 1617.5,259.9 1618.5,259.9 1619.5,259.9 1620.5,259.9 1621.5,259.9 1622.5,259.9 1623.5,259.9 1624.5,259.9 1625.5,259.9 1626.5,259.9 1627.5,259.9 1628.5,259.9 1629.5,259.9 1630.5,259.9 1631.5,259.9 1632.5,259.9 1633.5,259.9 1634.5,259.9 1635.5,259.9 1636.5,259.9 1637.5,259.9 1638.5,259.9 1639.5,259.9 1640.5,259.9 1641.5,259.9 1642.5,259.9 1643.5,259.9 1644.5,259.9 1645.5,259.9 1646.5,259.9 1647.5,259.9 1648.5,259.9 1649.5,259.9 1650.5,259.9 1651.5,259.9 1652.5,259.9 1653.5,259.9 1654.5,259.9 1655.5,259.9 1656.5,259.9 1657.5,259.9 1658.5,259.9 1659.5,259.9 1660.5,259.9 1661.5,259.9 1662.5,259.9 1663.5,259.9 1664.5,259.9 1665.5,259.9 1666.5,259.9 1667.5,259.9 1668.5,259.9 1669.5,259.9 1670.5,259.9 1671.5,259.9 1672.5,259.9 1673.5,259.9 1674.5,259.9 1675.5,259.9 1676.5,259.9 1677.5,259.9 1678.5,259.8 1679.5,259.8 1680.5,259.8 1681.5,259.7 1682.5,259.6 1683.5,259.6 1684.5,259.5 1685.5,259.4 1686.5,259.3 1687.5,259.2 1688.5,259 1689.5,258.7 1690.5,258.5 1691.5,258.2 1692.5,257.9 1693.5,257.5 1694.5,257.1 1695.5,256.6 1696.5,256 1697.5,255.4 1698.5,254.7 1699.5,253.9 1700.5,253 1701.5,252 1702.5,251.1 1703.5,250.3 1704.5,249.5 1705.5,248.8 1706.5,248.1 1707.5,247.4 1708.5,246.8 1709.5,246.2 1710.5,245.7 1711.5,245.2 1712.5,244.5 1713.5,243.5 1714.5,242.1 1715.5,240.6 1716.5,239.3 1717.5,238.1 1718.5,236.9 1719.5,235.9 1720.5,235.1 1721.5,234.7 1722.5,234.3 1723.5,234.1 1724.5,233.8 1725.5,233.5 1726.5,232.9 1727.5,231.8 1728.5,230.6 1729.5,229.4 1730.5,228.1 1731.5,227.5 1732.5,227.9 1733.5,228.7 1734.5,228.9 1735.5,228.7 1736.5,228.4 1737.5,227.8 1738.5,227 1739.5,227 1740.5,227.7 1741.5,228.8 1742.5,231.1 1743.5,233.3 1744.5,234.6 1745.5,235.8 1746.5,236.8 1747.5,237.3 1748.5,237.6 1749.5,237.7 1750.5,237.8 1751.5,237.9 1752.5,238 1753.5,238.2 1754.5,238.4 1755.5,238.7 1756.5,239.1 1757.5,239.5 1758.5,239.9 1759.5,240.3 1760.5,240.9 1761.5,241.4 1762.5,242 1763.5,242.7 1764.5,243.4 1765.5,244.3 1766.5,245.2 1767.5,246.2 1768.5,247.1 1769.5,247.9 1770.5,248.7 1771.5,249.4 1772.5,250 1773.5,250.7 1774.5,251.4 1775.5,252.1 1776.5,252.9 1777.5,253.9 1778.5,254.9 1779.5,256 1780.5,256.9 1781.5,257.5 1782.5,258.1 1783.5,258.5 1784.5,258.7 1785.5,258.8 1786.5,258.9 1787.5,259 1788.5,259.1 1789.5,259.2 1790.5,259.3 1791.5,259.3 1792.5,259.4 1793.5,259.4 1794.5,259.5 1795.5,259.5 1796.5,259.6 1797.5,259.7 1798.5,259.7 1799.5,259.8 1800.5,259.9 1801.5,259.9 1802.5,260 1803.5,260.1 1804.5,260.1 1805.5,260.2 1806.5,260.2 1807.5,260.3 1808.5,260.3 1809.5,260.4 1810.5,260.4 1811.5,260.5 1812.5,260.5 1813.5,260.6 1814.5,260.6 1815.5,260.7 1816.5,260.7 1817.5,260.8 1818.5,260.8 1819.5,260.9 1820.5,260.9 1821.5,260.9 1822.5,261 1823.5,261 1824.5,261.1 1825.5,261.1 1826.5,261.1 1827.5,261.2 1828.5,261.2 1829.5,261.2 1830.5,261.3 1831.5,261.3 1832.5,261.3 1833.5,261.4 1834.5,261.4 1835.5,261.4 1836.5,261.5 1837.5,261.5 1838.5,261.5 1839.5,261.6 1840.5,261.6 1841.5,261.6 1842.5,261.7 1843.5,261.7 1844.5,261.7 1845.5,261.8 1846.5,261.8 1847.5,261.8 1848.5,261.9 1849.5,261.9 1850.5,261.9 1851.5,261.9 1852.5,262 1853.5,262 1854.5,262 1855.5,262.1 1856.5,262.1 1857.5,262.1 1858.5,262.2 1859.5,262.2 1860.5,262.3 1861.5,262.3 1862.5,262.3 1863.5,262.3 1864.5,262.4 1865.5,262.4 1866.5,262.4 1867.5,262.5 1868.5,262.5 1869.5,262.5 1870.5,262.5 1871.5,262.6 1872.5,262.6 1873.5,262.6 1874.5,262.6 1875.5,262.6 1876.5,262.6 1877.5,262.6 1878.5,262.6 1879.5,262.6 1880.5,262.5 1881.5,262.5 1882.5,262.4 1883.5,262.4 1884.5,262.3 1885.5,262.3 1886.5,262.2 1887.5,262.1 1888.5,262 1889.5,261.9 1890.5,261.7 1891.5,261.6 1892.5,261.4 1893.5,261.2 1894.5,261 1895.5,260.7 1896.5,260.4 1897.5,260.1 1898.5,259.7 1899.5,259.3 1900.5,258.9 1901.5,258.4 1902.5,258 1903.5,257.4 1904.5,256.7 1905.5,256 1906.5,255.2 1907.5,254.3 1908.5,253.4 1909.5,252.5 1910.5,251.7 1911.5,250.9 1912.5,250.2 1913.5,249.5 1914.5,248.8 1915.5,248.1 1916.5,247.4 1917.5,246.8 1918.5,246.1 1919.5,245.5 1920.5,244.9 1921.5,244.4 1922.5,243.9 1923.5,243.4 1924.5,242.9 1925.5,242.5 1926.5,242.1 1927.5,241.7 1928.5,241.3 1929.5,240.9 1930.5,240.5 1931.5,240 1932.5,239.5 1933.5,239 1934.5,238.7 1935.5,238.7 1936.5,238.9 1937.5,239.2 1938.5,239.5 1939.5,239.9 1940.5,240.6 1941.5,241.6 1942.5,242.6 1943.5,243.5 1944.5,244.3 1945.5,244.8 1946.5,244.9 1947.5,245 1948.5,245 1949.5,245.2 1950.5,245.6 1951.5,246.4 1952.5,247.2 1953.5,248.2 1954.5,249.2 1955.5,250 1956.5,250.9 1957.5,251.9 1958.5,252.9 1959.5,253.9 1960.5,254.8 1961.5,255.7 1962.5,256.6 1963.5,257.3 1964.5,258 1965.5,258.7 1966.5,259.3 1967.5,260 1968.5,260.5 1969.5,261.1 1970.5,261.5 1971.5,262 1972.5,262.4 1973.5,262.8 1974.5,263.2 1975.5,263.6 1976.5,264 1977.5,264.3 1978.5,264.5 1979.5,264.6 1980.5,264.7 1981.5,264.8 1982.5,264.9 1983.5,264.9 1984.5,265 1985.5,265.1 1986.5,265.1 1987.5,265.2 1988.5,265.2 1989.5,265.2 1990.5,265.3 1991.5,265.3 1992.5,265.3 1993.5,265.4 1994.5,265.4 1995.5,265.4 1996.5,265.4 1997.5,265.5 1998.5,265.5 1999.5,265.5 2000.5,265.5 2001.5,265.6 2002.5,265.6 2003.5,265.6 2004.5,265.6 2005.5,265.6 2006.5,265.7 2007.5,265.7 2008.5,265.7 2009.5,265.7 2010.5,265.7 2011.5,265.8 2012.5,265.8 2013.5,265.8 2014.5,265.8 2015.5,265.8 2016.5,265.8 2017.5,265.9 2018.5,265.9 2019.5,265.9 2020.5,265.9 2021.5,265.9 2022.5,265.9 2023.5,266 2024.5,266 2025.5,266 2026.5,266 2027.5,266 2028.5,266.1 2029.5,266.1 2030.5,266.1 2031.5,266.1 2032.5,266.2 2033.5,266.2 2034.5,266.2 2035.5,266.3 2036.5,266.3 2037.5,266.3 2038.5,266.3 2039.5,266.4 2040.5,266.4 2041.5,266.4 2042.5,266.4 2043.5,266.5 2044.5,266.5 2045.5,266.5 2046.5,266.5 2047.5,266.6 2048.5,266.6 2049.5,266.6 2050.5,266.6 2051.5,266.6 2052.5,266.7 2053.5,266.7 2054.5,266.7 2055.5,266.7 2056.5,266.7 2057.5,266.7 2058.5,266.7 2059.5,266.7 2060.5,266.7 2061.5,266.7 2062.5,266.7 2063.5,266.6 2064.5,266.6 2065.5,266.6 2066.5,266.5 2067.5,266.5 2068.5,266.5 2069.5,266.4 2070.5,266.4" fill="none" stroke="#7088D8" stroke-width="1.8" stroke-linejoin="round" stroke-linecap="butt" />
<polyline points="802.4,267.2 803.6,267.2 804.8,267.2 806,267.2 807.2,267.2 808.4,267.2 809.6,267.1 810.8,267.1 812,267.1 813.2,267.1 814.4,267 815.6,267 816.8,267 818,266.9 819.2,266.9 820.4,266.8 821.6,266.8 822.8,266.7 824,266.7 825.2,266.6 826.4,266.5 827.6,266.4 828.8,266.2 830,266 831.2,265.8 832.4,265.5 833.6,265.1 834.8,264.6 836,263.7 837.2,262.6 838.4,261.2 839.6,259.2 840.8,256.3 842,252.5 843.2,246.2 844.4,239.4 845.6,232.9 846.8,223.9 848,214.3 849.2,203.6 850.4,189.3 851.6,171.2 852.8,155.9 854,143 855.2,129.5 856.4,113.2 857.6,101 858.8,92.6 860,87.7 861.2,85 862.4,85.9 863.6,90.7 864.8,97.9 866,104.6 867.2,114.6 868.4,132.8 869.6,151.7 870.8,170 872,186.5 873.3,199.8 874.5,210.5 875.7,218 876.9,225 878.1,236.3 879.3,244.6 880.5,250.2 881.7,254.2 882.9,257.3 884.1,259.6 885.3,261.1 886.5,262.4 887.7,263.4 888.9,264.1 890.1,264.5 891.3,264.8 892.5,265.1 893.7,265.4 894.9,265.5 896.1,265.6 897.3,265.6 898.5,265.6 899.7,265.6 900.9,265.6 902.1,265.6 903.3,265.6 904.5,265.6 905.7,265.6 906.9,265.6 908.1,265.6 909.3,265.6 910.5,265.6 911.7,265.6 912.9,265.6 914.1,265.6 915.3,265.6 916.5,265.6 917.7,265.6 918.9,265.6 920.1,265.6 921.3,265.6 922.5,265.6 923.7,265.5 924.9,265.5 926.1,265.5 927.3,265.5 928.5,265.5 929.7,265.5 930.9,265.5 932.1,265.5 933.3,265.5 934.5,265.5 935.7,265.5 936.9,265.5 938.1,265.5 939.3,265.5 940.5,265.5 941.7,265.5 942.9,265.5 944.1,265.5 945.3,265.5 946.5,265.5 947.7,265.5 948.9,265.4 950.1,265.4 951.3,265.4 952.5,265.4 953.7,265.4 954.9,265.4 956.1,265.4 957.3,265.4 958.5,265.4 959.7,265.4 960.9,265.4 962.1,265.4 963.3,265.4 964.5,265.4 965.7,265.4 966.9,265.4 968.1,265.4 969.3,265.4 970.5,265.4 971.7,265.4 972.9,265.4 974.1,265.3 975.3,265.3 976.5,265.3 977.7,265.3 978.9,265.3 980.1,265.3 981.3,265.3 982.5,265.3 983.7,265.3 984.9,265.3 986.1,265.3 987.3,265.3 988.5,265.3 989.7,265.3 990.9,265.3 992.1,265.3 993.3,265.3 994.5,265.3 995.7,265.3 996.9,265.3 998.1,265.3 999.3,265.3 1000.5,265.3 1001.7,265.3 1002.9,265.3 1004.1,265.3 1005.3,265.3 1006.5,265.4 1007.7,265.4 1008.9,265.4 1010.1,265.5 1011.3,265.5 1012.5,265.5 1013.8,265.6 1015,265.6 1016.2,265.7 1017.4,265.7 1018.6,265.8 1019.8,265.8 1021,265.9 1022.2,265.9 1023.4,266 1024.6,266 1025.8,266.1 1027,266.1 1028.2,266.2 1029.4,266.2 1030.6,266.3 1031.8,266.3 1033,266.4 1034.2,266.4 1035.4,266.5 1036.6,266.5 1037.8,266.5 1039,266.6 1040.2,266.6 1041.4,266.6 1042.6,266.6 1043.8,266.7 1045,266.7 1046.2,266.7 1047.4,266.7 1048.6,266.8 1049.8,266.8 1051,266.8 1052.2,266.8 1053.4,266.9 1054.6,266.9 1055.8,266.9 1057,266.9 1058.2,267 1059.4,267 1060.6,267 1061.8,267 1063,267 1064.2,267.1 1065.4,267.1 1066.6,267.1 1067.8,267.1 1069,267.1 1070.2,267.2 1071.4,267.2 1072.6,267.2 1073.8,267.2 1075,267.2 1076.2,267.2 1077.4,267.3 1078.6,267.3 1079.8,267.3 1081,267.3 1082.2,267.3 1083.4,267.3 1084.6,267.3 1085.8,267.4 1087,267.4 1088.2,267.4 1089.4,267.4 1090.6,267.4 1091.8,267.4 1093,267.4 1094.2,267.5 1095.4,267.5 1096.6,267.5 1097.8,267.5 1099,267.5 1100.2,267.5 1101.4,267.5 1102.6,267.5 1103.8,267.5 1105,267.6 1106.2,267.6 1107.4,267.6 1108.6,267.6 1109.8,267.6 1111,267.6 1112.2,267.6 1113.4,267.6 1114.6,267.6 1115.8,267.7 1117,267.7 1118.2,267.7 1119.4,267.7 1120.6,267.7 1121.8,267.7 1123,267.7 1124.2,267.7 1125.4,267.7 1126.6,267.7 1127.8,267.8 1129,267.8 1130.2,267.8 1131.4,267.8 1132.6,267.8 1133.8,267.8 1135,267.8 1136.2,267.8 1137.4,267.9 1138.6,267.9 1139.8,267.9 1141,267.9 1142.2,267.9 1143.4,267.9 1144.6,267.9 1145.8,267.9 1147,267.9 1148.2,267.9 1149.4,268 1150.6,268 1151.8,268 1153,268 1154.2,268 1155.5,268 1156.7,268 1157.9,268 1159.1,268 1160.3,268 1161.5,268 1162.7,268 1163.9,268 1165.1,268 1166.3,268 1167.5,268 1168.7,268 1169.9,268 1171.1,268 1172.3,268 1173.5,268 1174.7,268 1175.9,268 1177.1,268 1178.3,268 1179.5,268 1180.7,268 1181.9,267.9 1183.1,267.9 1184.3,267.8 1185.5,267.7 1186.7,267.5 1187.9,267.4 1189.1,267.3 1190.3,267.1 1191.5,266.9 1192.7,266.7 1193.9,266.4 1195.1,266.1 1196.3,265.8 1197.5,265.5 1198.7,265 1199.9,264.6 1201.1,264.1 1202.3,263.7 1203.5,263.3 1204.7,262.8 1205.9,262.4 1207.1,262 1208.3,261.6 1209.5,261.2 1210.7,260.8 1211.9,260.5 1213.1,260.1 1214.3,259.8 1215.5,259.6 1216.7,259.5 1217.9,259.4 1219.1,259.3 1220.3,259.2 1221.5,259.2 1222.7,259.3 1223.9,259.4 1225.1,259.6 1226.3,259.8 1227.5,260.1 1228.7,260.4 1229.9,260.8 1231.1,261.2 1232.3,261.6 1233.5,262.1 1234.7,262.7 1235.9,263.3 1237.1,263.9 1238.3,264.4 1239.5,264.8 1240.7,265.3 1241.9,265.7 1243.1,266.1 1244.3,266.5 1245.5,266.8 1246.7,267.1 1247.9,267.4 1249.1,267.6 1250.3,267.8 1251.5,268 1252.7,268.2 1253.9,268.3 1255.1,268.5 1256.3,268.6 1257.5,268.6 1258.7,268.7 1259.9,268.7 1261.1,268.7 1262.3,268.7 1263.5,268.8 1264.7,268.8 1265.9,268.8 1267.1,268.8 1268.3,268.8 1269.5,268.8 1270.7,268.8 1271.9,268.8 1273.1,268.8 1274.3,268.8 1275.5,268.8 1276.7,268.8 1277.9,268.8 1279.1,268.8 1280.3,268.8 1281.5,268.8 1282.7,268.8 1283.9,268.8 1285.1,268.8 1286.3,268.8 1287.5,268.8 1288.7,268.8 1289.9,268.9 1291.1,268.9 1292.3,268.9 1293.5,268.9 1294.7,268.9 1296,268.9 1297.2,268.9 1298.4,268.9 1299.6,268.9 1300.8,268.9 1302,268.9 1303.2,268.9 1304.4,268.9 1305.6,268.9 1306.8,268.9 1308,268.9 1309.2,268.9 1310.4,268.9 1311.6,268.9 1312.8,268.9 1314,268.9 1315.2,268.9 1316.4,268.9 1317.6,268.9 1318.8,268.9 1320,269 1321.2,269 1322.4,269 1323.6,269 1324.8,269 1326,269 1327.2,269 1328.4,269 1329.6,269 1330.8,269.1 1332,269.1 1333.2,269.1 1334.4,269.1 1335.6,269.1 1336.8,269.1 1338,269.1 1339.2,269.2 1340.4,269.2 1341.6,269.2 1342.8,269.2 1344,269.2 1345.2,269.2 1346.4,269.2 1347.6,269.3 1348.8,269.3 1350,269.3 1351.2,269.3 1352.4,269.3 1353.6,269.3 1354.8,269.3 1356,269.4 1357.2,269.4 1358.4,269.4 1359.6,269.4 1360.8,269.4 1362,269.5 1363.2,269.5 1364.4,269.5 1365.6,269.5 1366.8,269.5 1368,269.5 1369.2,269.6 1370.4,269.6 1371.6,269.6 1372.8,269.6 1374,269.6 1375.2,269.7 1376.4,269.7 1377.6,269.7 1378.8,269.7 1380,269.7 1381.2,269.8 1382.4,269.8 1383.6,269.8 1384.8,269.8 1386,269.8 1387.2,269.8 1388.4,269.9 1389.6,269.9 1390.8,269.9 1392,269.9 1393.2,269.9 1394.4,269.9 1395.6,270 1396.8,270 1398,270 1399.2,270 1400.4,270 1401.6,270 1402.8,270 1404,270.1 1405.2,270.1 1406.4,270.1 1407.6,270.1 1408.8,270.1 1410,270.1 1411.2,270.2 1412.4,270.2 1413.6,270.2 1414.8,270.2 1416,270.2 1417.2,270.2 1418.4,270.2 1419.6,270.2 1420.8,270.3 1422,270.3 1423.2,270.3 1424.4,270.3 1425.6,270.3 1426.8,270.3 1428,270.3 1429.2,270.3 1430.4,270.3 1431.6,270.3 1432.8,270.3 1434,270.3 1435.2,270.3 1436.4,270.3 1437.7,270.3 1438.9,270.3 1440.1,270.2 1441.3,270.2 1442.5,270.2 1443.7,270.2 1444.9,270.2 1446.1,270.1 1447.3,270.1 1448.5,270.1 1449.7,270.1 1450.9,270 1452.1,270 1453.3,270 1454.5,269.9 1455.7,269.8 1456.9,269.7 1458.1,269.6 1459.3,269.5 1460.5,269.4 1461.7,269.2 1462.9,269.1 1464.1,268.9 1465.3,268.7 1466.5,268.5 1467.7,268.2 1468.9,267.9 1470.1,267.7 1471.3,267.4 1472.5,267.1 1473.7,266.7 1474.9,266.4 1476.1,266 1477.3,265.6 1478.5,265.2 1479.7,264.9 1480.9,264.5 1482.1,264.2 1483.3,264 1484.5,263.7 1485.7,263.5 1486.9,263.3 1488.1,263.1 1489.3,262.9 1490.5,262.8 1491.7,262.7 1492.9,262.6 1494.1,262.5 1495.3,262.4 1496.5,262.4 1497.7,262.3 1498.9,262.3 1500.1,262.3 1501.3,262.4 1502.5,262.6 1503.7,262.8 1504.9,263.1 1506.1,263.3 1507.3,263.6 1508.5,263.8 1509.7,264.1 1510.9,264.5 1512.1,264.8 1513.3,265.2 1514.5,265.6 1515.7,266 1516.9,266.4 1518.1,266.9 1519.3,267.2 1520.5,267.6 1521.7,267.9 1522.9,268.2 1524.1,268.6 1525.3,268.8 1526.5,269.1 1527.7,269.4 1528.9,269.6 1530.1,269.8 1531.3,270 1532.5,270.2 1533.7,270.4 1534.9,270.5 1536.1,270.7 1537.3,270.8 1538.5,270.9 1539.7,271 1540.9,271.1 1542.1,271.1 1543.3,271.2 1544.5,271.2 1545.7,271.3 1546.9,271.3 1548.1,271.3 1549.3,271.4 1550.5,271.4 1551.7,271.4 1552.9,271.5 1554.1,271.5 1555.3,271.5 1556.5,271.6 1557.7,271.6 1558.9,271.6 1560.1,271.6 1561.3,271.7 1562.5,271.7 1563.7,271.7 1564.9,271.7 1566.1,271.8 1567.3,271.8 1568.5,271.8 1569.7,271.8 1570.9,271.8 1572.1,271.9 1573.3,271.9 1574.5,271.9 1575.7,271.9 1576.9,271.9 1578.2,272 1579.4,272 1580.6,272 1581.8,272 1583,272 1584.2,272.1 1585.4,272.1 1586.6,272.1 1587.8,272.1 1589,272.1 1590.2,272.1 1591.4,272.2 1592.6,272.2 1593.8,272.2 1595,272.2 1596.2,272.2 1597.4,272.2 1598.6,272.3 1599.8,272.3 1601,272.3 1602.2,272.3 1603.4,272.3 1604.6,272.3 1605.8,272.4 1607,272.4 1608.2,272.4 1609.4,272.4 1610.6,272.4 1611.8,272.4 1613,272.4 1614.2,272.4 1615.4,272.5 1616.6,272.5 1617.8,272.5 1619,272.5 1620.2,272.5 1621.4,272.5 1622.6,272.5 1623.8,272.5 1625,272.5 1626.2,272.5 1627.4,272.5 1628.6,272.6 1629.8,272.6 1631,272.6 1632.2,272.6 1633.4,272.6 1634.6,272.6 1635.8,272.6 1637,272.6 1638.2,272.6 1639.4,272.6 1640.6,272.6 1641.8,272.6 1643,272.6 1644.2,272.7 1645.4,272.7 1646.6,272.7 1647.8,272.7 1649,272.7 1650.2,272.7 1651.4,272.7 1652.6,272.7 1653.8,272.7 1655,272.7 1656.2,272.7 1657.4,272.7 1658.6,272.7 1659.8,272.7 1661,272.7 1662.2,272.7 1663.4,272.7 1664.6,272.6 1665.8,272.6 1667,272.6 1668.2,272.5 1669.4,272.4 1670.6,272.3 1671.8,272.2 1673,272.2 1674.2,272.1 1675.4,272 1676.6,271.8 1677.8,271.7 1679,271.5 1680.2,271.3 1681.4,271 1682.6,270.8 1683.8,270.5 1685,270.2 1686.2,269.9 1687.4,269.5 1688.6,269.1 1689.8,268.6 1691,268.1 1692.2,267.5 1693.4,266.9 1694.6,266.3 1695.8,265.6 1697,264.7 1698.2,263.8 1699.4,262.8 1700.6,261.8 1701.8,260.7 1703,259.5 1704.2,258.2 1705.4,256.8 1706.6,255.4 1707.8,254.1 1709,252.7 1710.2,251.3 1711.4,250 1712.6,248.6 1713.8,247.3 1715,246 1716.2,244.7 1717.4,243.4 1718.7,242.1 1719.9,240.9 1721.1,239.8 1722.3,238.9 1723.5,238.1 1724.7,237.5 1725.9,236.9 1727.1,236.4 1728.3,236.1 1729.5,235.8 1730.7,235.5 1731.9,235.4 1733.1,235.4 1734.3,235.6 1735.5,235.9 1736.7,236.2 1737.9,236.6 1739.1,237.3 1740.3,238 1741.5,238.8 1742.7,239.7 1743.9,240.6 1745.1,241.6 1746.3,242.6 1747.5,243.7 1748.7,244.9 1749.9,246.1 1751.1,247.3 1752.3,248.6 1753.5,250 1754.7,251.3 1755.9,252.6 1757.1,253.8 1758.3,255 1759.5,256.2 1760.7,257.4 1761.9,258.5 1763.1,259.7 1764.3,260.8 1765.5,262 1766.7,263.1 1767.9,264.2 1769.1,265.1 1770.3,266 1771.5,266.8 1772.7,267.5 1773.9,268.2 1775.1,268.9 1776.3,269.4 1777.5,270 1778.7,270.5 1779.9,271 1781.1,271.4 1782.3,271.8 1783.5,272.2 1784.7,272.6 1785.9,272.9 1787.1,273.2 1788.3,273.5 1789.5,273.7 1790.7,273.9 1791.9,274 1793.1,274.1 1794.3,274.3 1795.5,274.4 1796.7,274.5 1797.9,274.5 1799.1,274.6 1800.3,274.7 1801.5,274.7 1802.7,274.8 1803.9,274.8 1805.1,274.9 1806.3,274.9 1807.5,275 1808.7,275 1809.9,275.1 1811.1,275.1 1812.3,275.1 1813.5,275.2 1814.7,275.2 1815.9,275.2 1817.1,275.3 1818.3,275.3 1819.5,275.3 1820.7,275.4 1821.9,275.4 1823.1,275.4 1824.3,275.4 1825.5,275.5 1826.7,275.5 1827.9,275.5 1829.1,275.5 1830.3,275.6 1831.5,275.6 1832.7,275.6 1833.9,275.6 1835.1,275.6 1836.3,275.7 1837.5,275.7 1838.7,275.7 1839.9,275.7 1841.1,275.7 1842.3,275.8 1843.5,275.8 1844.7,275.8 1845.9,275.8 1847.1,275.8 1848.3,275.8 1849.5,275.8 1850.7,275.8 1851.9,275.8 1853.1,275.8 1854.3,275.8 1855.5,275.8 1856.7,275.8 1857.9,275.8 1859.1,275.8 1860.4,275.8 1861.6,275.8 1862.8,275.8 1864,275.8 1865.2,275.7 1866.4,275.7 1867.6,275.7 1868.8,275.7 1870,275.7 1871.2,275.7 1872.4,275.6 1873.6,275.6 1874.8,275.5 1876,275.4 1877.2,275.3 1878.4,275.2 1879.6,275.1 1880.8,275 1882,274.9 1883.2,274.8 1884.4,274.6 1885.6,274.5 1886.8,274.3 1888,274.1 1889.2,273.9 1890.4,273.6 1891.6,273.4 1892.8,273.1 1894,272.8 1895.2,272.5 1896.4,272.2 1897.6,271.9 1898.8,271.5 1900,271.1 1901.2,270.7 1902.4,270.2 1903.6,269.7 1904.8,269.2 1906,268.7 1907.2,268.1 1908.4,267.6 1909.6,267.1 1910.8,266.5 1912,266 1913.2,265.4 1914.4,264.8 1915.6,264.1 1916.8,263.5 1918,262.8 1919.2,262.2 1920.4,261.6 1921.6,261 1922.8,260.5 1924,259.9 1925.2,259.5 1926.4,259 1927.6,258.5 1928.8,258.1 1930,257.7 1931.2,257.4 1932.4,257.2 1933.6,256.9 1934.8,256.7 1936,256.5 1937.2,256.4 1938.4,256.3 1939.6,256.3 1940.8,256.4 1942,256.5 1943.2,256.6 1944.4,256.8 1945.6,257 1946.8,257.2 1948,257.4 1949.2,257.7 1950.4,258.1 1951.6,258.5 1952.8,259 1954,259.5 1955.2,260.1 1956.4,260.6 1957.6,261.2 1958.8,261.7 1960,262.3 1961.2,263 1962.4,263.7 1963.6,264.4 1964.8,265.2 1966,265.9 1967.2,266.6 1968.4,267.3 1969.6,267.9 1970.8,268.5 1972,269 1973.2,269.5 1974.4,270 1975.6,270.5 1976.8,270.9 1978,271.3 1979.2,271.8 1980.4,272.1 1981.6,272.5 1982.8,272.9 1984,273.2 1985.2,273.5 1986.4,273.8 1987.6,274.1 1988.8,274.4 1990,274.6 1991.2,274.9 1992.4,275.1 1993.6,275.4 1994.8,275.6 1996,275.8 1997.2,276 1998.4,276.1 1999.6,276.3 2000.9,276.4 2002.1,276.6 2003.3,276.7 2004.5,276.8 2005.7,276.9 2006.9,277 2008.1,277.1 2009.3,277.2 2010.5,277.3 2011.7,277.4 2012.9,277.5 2014.1,277.5 2015.3,277.6 2016.5,277.6 2017.7,277.7 2018.9,277.8 2020.1,277.8 2021.3,277.9 2022.5,277.9 2023.7,278 2024.9,278 2026.1,278 2027.3,278.1 2028.5,278.1 2029.7,278.1 2030.9,278.2 2032.1,278.2 2033.3,278.2 2034.5,278.3 2035.7,278.3 2036.9,278.3 2038.1,278.3 2039.3,278.4 2040.5,278.4 2041.7,278.4 2042.9,278.4 2044.1,278.5 2045.3,278.5 2046.5,278.5 2047.7,278.5 2048.9,278.6 2050.1,278.6 2051.3,278.6 2052.5,278.6 2053.7,278.7 2054.9,278.7 2056.1,278.7 2057.3,278.7 2058.5,278.7 2059.7,278.7 2060.9,278.7 2062.1,278.8 2063.3,278.8 2064.5,278.8 2065.7,278.8 2066.9,278.8 2068.1,278.8 2069.3,278.8 2070.5,278.8" fill="none" stroke="#F283EE" stroke-width="1.9" stroke-linejoin="round" stroke-linecap="butt" />
<polyline points="804.2,316.1 804.9,316 805.6,315.9 806.3,315.9 807,315.8 807.7,315.7 808.4,315.7 809.1,315.6 809.8,315.5 810.5,315.5 811.2,315.4 811.9,315.3 812.6,315.3 813.3,315.2 814,315.2 814.7,315.1 815.4,315 816.1,315 816.8,314.9 817.5,314.8 818.2,314.8 818.9,314.8 819.6,314.7 820.3,314.7 821,314.7 821.7,314.8 822.4,315 823.1,315.2 823.8,315.5 824.5,315.7 825.2,316.1 825.9,316.6 826.6,317.1 827.3,317.3 828,316.9 828.7,315.4 829.4,313.9 830.1,313 830.8,312.2 831.5,312 832.2,312.3 832.9,312.8 833.6,313.2 834.3,313.4 835,312.3 835.7,309.7 836.4,306.8 837.1,304.3 837.8,301.7 838.5,299.3 839.2,297.3 839.9,295.4 840.6,294 841.3,293.8 842,295 842.7,296.8 843.4,298.6 844.1,300.9 844.8,303.5 845.5,306.2 846.2,308.9 846.9,311.5 847.6,314.1 848.3,316.7 849,319.1 849.7,321.6 850.4,324 851.1,324.8 851.8,322.2 852.5,317.4 853.2,309.9 853.9,299 854.6,288.8 855.3,279.4 856,275 856.7,273.1 857.4,275.9 858.1,282.6 858.8,298.2 859.5,318.4 860.2,340.3 860.9,354.7 861.6,363.5 862.3,368.6 863,368.5 863.7,364.6 864.4,358.6 865.1,350 865.8,341.6 866.5,332.7 867.2,325.6 867.9,321.9 868.6,319.2 869.3,317.5 870,316 870.7,314.8 871.4,314.1 872.1,314.2 872.8,315.1 873.5,316.3 874.2,317.3 874.9,318.4 875.6,318.9 876.3,318.6 877,318.1 877.7,317.4 878.4,317 879.1,316.5 879.8,316.1 880.5,315.7 881.2,315.5 881.9,315.3 882.6,315.1 883.3,315 884,314.8 884.7,314.7 885.4,314.7 886.1,314.7 886.8,314.7 887.5,314.8 888.2,314.8 888.9,314.9 889.6,315 890.3,315.1 891,315.2 891.7,315.3 892.4,315.3 893.1,315.4 893.8,315.5 894.5,315.5 895.2,315.6 895.9,315.6 896.6,315.6 897.3,315.6 898,315.6 898.7,315.6 899.4,315.5 900.1,315.5 900.8,315.5 901.5,315.5 902.2,315.4 902.9,315.4 903.6,315.4 904.3,315.3 905,315.3 905.7,315.2 906.4,315.2 907.1,315.2 907.8,315.1 908.5,315.1 909.2,315 909.9,314.9 910.6,314.9 911.3,314.8 912,314.7 912.7,314.6 913.4,314.6 914.1,314.5 914.8,314.4 915.5,314.4 916.2,314.4 916.9,314.4 917.6,314.6 918.3,314.8 919,315 919.7,315.2 920.4,315.3 921.1,315.3 921.8,315.4 922.5,315.5 923.2,315.6 923.9,315.6 924.6,315.7 925.3,315.7 926,315.8 926.7,315.8 927.4,315.9 928.1,315.9 928.8,315.9 929.5,315.9 930.2,315.9 930.9,315.9 931.6,315.8 932.3,315.8 933,315.8 933.7,315.7 934.4,315.6 935.1,315.6 935.8,315.5 936.5,315.4 937.2,315.4 937.9,315.3 938.6,315.2 939.3,315.2 940,315.1 940.7,315 941.4,315 942.1,314.9 942.8,314.9 943.5,314.8 944.2,314.7 944.9,314.6 945.6,314.6 946.3,314.5 947,314.4 947.7,314.4 948.4,314.3 949.1,314.2 949.8,314.2 950.5,314.1 951.2,314.1 951.9,314 952.6,314 953.3,313.9 954,313.9 954.7,313.9 955.4,313.9 956.1,313.9 956.8,313.9 957.5,313.9 958.2,314 958.9,314 959.6,314 960.3,314.1 961,314.1 961.7,314.1 962.4,314.2 963.1,314.3 963.8,314.4 964.5,314.5 965.2,314.6 965.9,314.7 966.6,314.8 967.3,315 968,315.1 968.7,315.2 969.4,315.3 970.1,315.4 970.8,315.5 971.5,315.5 972.2,315.6 972.9,315.6 973.6,315.6 974.3,315.6 975,315.6 975.7,315.6 976.4,315.6 977.1,315.6 977.8,315.6 978.5,315.6 979.2,315.6 979.9,315.6 980.6,315.6 981.3,315.6 982,315.6 982.7,315.6 983.4,315.6 984.1,315.6 984.8,315.6 985.5,315.6 986.2,315.6 986.9,315.6 987.6,315.5 988.3,315.5 989,315.5 989.7,315.4 990.4,315.4 991.1,315.3 991.8,315.2 992.5,315.2 993.2,315.1 993.9,315.1 994.6,315 995.3,315 996,314.9 996.7,314.9 997.4,314.9 998.1,314.8 998.8,314.8 999.5,314.8 1000.2,314.8 1000.9,314.8 1001.6,314.8 1002.3,314.8 1003,314.8 1003.7,314.8 1004.4,314.8 1005.1,314.8 1005.8,314.8 1006.5,314.8 1007.2,314.8 1007.9,314.8 1008.6,314.8 1009.3,314.8 1010,314.8 1010.7,314.8 1011.4,314.8 1012.1,314.8 1012.8,314.8 1013.5,314.8 1014.2,314.8 1014.9,314.8 1015.6,314.8 1016.3,314.8 1017,314.8 1017.7,314.8 1018.4,314.9 1019.1,314.9 1019.8,314.9 1020.5,314.9 1021.2,314.9 1021.9,314.9 1022.6,314.9 1023.3,314.9 1024,314.9 1024.7,314.9 1025.4,315 1026.1,315 1026.8,315.1 1027.5,315.2 1028.2,315.3 1028.9,315.4 1029.6,315.5 1030.3,315.6 1031,315.6 1031.7,315.6 1032.4,315.6 1033.1,315.7 1033.8,315.7 1034.5,315.7 1035.2,315.7 1035.9,315.8 1036.6,315.8 1037.3,315.8 1038,315.8 1038.7,315.8 1039.4,315.8 1040.1,315.9 1040.8,315.9 1041.5,315.9 1042.2,315.9 1042.9,315.9 1043.6,315.9 1044.3,315.9 1045,315.9 1045.7,315.9 1046.4,316 1047.1,316 1047.8,316 1048.5,316 1049.2,316 1049.9,316 1050.6,316 1051.3,316 1052,316 1052.7,316 1053.4,316 1054.1,316 1054.8,316 1055.5,316 1056.2,316 1056.9,316 1057.6,316 1058.3,316 1059,316 1059.7,316 1060.4,316 1061.1,316 1061.8,316 1062.5,316 1063.2,316 1063.9,316 1064.6,316 1065.3,316 1066,316 1066.7,316 1067.4,316 1068.1,316 1068.8,316 1069.5,316 1070.2,316 1070.9,316 1071.6,316 1072.3,316 1073,316 1073.7,316 1074.4,316 1075.1,316 1075.8,315.9 1076.5,315.9 1077.2,315.8 1077.9,315.8 1078.6,315.7 1079.3,315.7 1080,315.6 1080.7,315.6 1081.4,315.6 1082.1,315.6 1082.8,315.6 1083.5,315.6 1084.2,315.6 1084.9,315.6 1085.6,315.6 1086.3,315.6 1087,315.6 1087.7,315.6 1088.4,315.6 1089.1,315.6 1089.8,315.6 1090.5,315.6 1091.2,315.6 1091.9,315.6 1092.6,315.6 1093.3,315.6 1094,315.6 1094.7,315.6 1095.4,315.6 1096.1,315.6 1096.8,315.6 1097.5,315.6 1098.2,315.6 1098.9,315.6 1099.6,315.6 1100.3,315.6 1101,315.6 1101.7,315.6 1102.4,315.6 1103.1,315.6 1103.8,315.6 1104.5,315.6 1105.2,315.6 1105.9,315.6 1106.6,315.6 1107.3,315.6 1108,315.6 1108.7,315.6 1109.4,315.6 1110.1,315.6 1110.8,315.6 1111.5,315.6 1112.2,315.6 1112.9,315.6 1113.6,315.6 1114.3,315.6 1115,315.6 1115.7,315.6 1116.4,315.6 1117.1,315.6 1117.8,315.6 1118.5,315.6 1119.2,315.6 1119.9,315.6 1120.6,315.6 1121.3,315.6 1122,315.6 1122.7,315.6 1123.4,315.6 1124.1,315.6 1124.8,315.6 1125.5,315.6 1126.2,315.6 1126.9,315.6 1127.6,315.6 1128.3,315.6 1129,315.6 1129.7,315.7 1130.4,315.7 1131.1,315.8 1131.8,315.8 1132.5,315.9 1133.2,315.9 1133.9,316 1134.6,316 1135.3,316 1136,316 1136.7,316 1137.4,316 1138.1,316 1138.8,316 1139.5,316 1140.2,316 1140.9,316 1141.6,316 1142.3,316 1143,316 1143.7,316 1144.4,316 1145.1,316 1145.8,316 1146.5,316 1147.2,316 1147.9,316 1148.6,316 1149.3,316 1150,316 1150.7,316 1151.4,316 1152.1,316 1152.8,316 1153.5,316 1154.2,316 1154.9,316 1155.6,316 1156.3,316 1157,316 1157.7,316 1158.4,316 1159.1,316 1159.8,316 1160.5,316 1161.2,316 1161.9,316 1162.6,316 1163.3,316 1164,316 1164.7,316 1165.4,316 1166.1,316 1166.8,316 1167.5,316 1168.2,316 1168.9,316 1169.6,316 1170.3,316.1 1171,316.2 1171.7,316.2 1172.4,316.4 1173.1,316.5 1173.8,316.6 1174.5,316.7 1175.2,316.8 1175.9,316.9 1176.6,317 1177.3,317.1 1178,317.2 1178.7,317.3 1179.4,317.4 1180.1,317.5 1180.8,317.7 1181.5,317.8 1182.2,317.9 1182.9,318.1 1183.6,318.2 1184.3,318.4 1185,318.5 1185.7,318.7 1186.4,318.9 1187.1,319 1187.8,319.1 1188.5,319.3 1189.2,319.3 1189.9,319.4 1190.6,319.5 1191.3,319.6 1192,319.7 1192.7,319.8 1193.4,319.8 1194.1,319.9 1194.8,319.9 1195.5,319.9 1196.2,319.9 1196.9,319.9 1197.6,319.9 1198.3,319.8 1199,319.8 1199.7,319.7 1200.4,319.7 1201.1,319.6 1201.8,319.5 1202.5,319.5 1203.2,319.4 1203.9,319.3 1204.6,319.2 1205.3,319.1 1206,319 1206.7,318.8 1207.4,318.7 1208.1,318.5 1208.8,318.2 1209.5,317.9 1210.2,317.5 1210.9,317.2 1211.6,316.7 1212.3,316.3 1213,316 1213.7,315.6 1214.4,315.1 1215.1,314.6 1215.8,314.2 1216.5,313.8 1217.2,313.6 1217.9,313.4 1218.6,313.3 1219.3,313.2 1220,313.2 1220.7,313.3 1221.4,313.5 1222.1,313.8 1222.8,314.1 1223.5,314.3 1224.2,314.3 1224.9,314.1 1225.6,313.8 1226.3,313.4 1227,313.1 1227.7,312.9 1228.4,312.9 1229.1,312.8 1229.8,312.8 1230.5,312.8 1231.2,312.9 1231.9,313.2 1232.6,313.5 1233.3,313.9 1234,314.3 1234.7,314.7 1235.4,315.2 1236.1,315.5 1236.8,315.8 1237.5,315.9 1238.2,315.8 1238.9,315.7 1239.6,315.5 1240.3,315.3 1241,315.2 1241.7,315.2 1242.4,315.3 1243.1,315.4 1243.8,315.5 1244.5,315.7 1245.2,315.8 1245.9,315.9 1246.6,316 1247.3,316 1248,316 1248.7,316 1249.4,316 1250.1,315.9 1250.8,315.9 1251.5,315.9 1252.2,315.8 1252.9,315.8 1253.6,315.8 1254.3,315.7 1255,315.7 1255.7,315.7 1256.4,315.7 1257.1,315.7 1257.8,315.7 1258.5,315.7 1259.2,315.7 1259.9,315.7 1260.6,315.7 1261.3,315.6 1262,315.6 1262.7,315.6 1263.4,315.6 1264.1,315.6 1264.8,315.6 1265.5,315.6 1266.2,315.6 1266.9,315.6 1267.6,315.6 1268.3,315.6 1269,315.6 1269.7,315.6 1270.4,315.6 1271.1,315.6 1271.8,315.6 1272.5,315.6 1273.2,315.6 1273.9,315.6 1274.6,315.6 1275.3,315.6 1276,315.6 1276.7,315.6 1277.4,315.6 1278.1,315.6 1278.8,315.7 1279.5,315.7 1280.2,315.7 1280.9,315.7 1281.6,315.7 1282.3,315.7 1283,315.7 1283.7,315.7 1284.4,315.7 1285.1,315.7 1285.8,315.7 1286.5,315.7 1287.2,315.8 1287.9,315.8 1288.6,315.8 1289.3,315.8 1290,315.8 1290.7,315.8 1291.4,315.8 1292.1,315.8 1292.8,315.8 1293.5,315.8 1294.2,315.8 1294.9,315.8 1295.6,315.9 1296.3,315.9 1297,315.9 1297.7,315.9 1298.4,315.9 1299.1,315.9 1299.8,315.9 1300.5,315.9 1301.2,315.9 1301.9,315.9 1302.6,315.9 1303.3,315.9 1304,315.9 1304.7,315.9 1305.4,315.9 1306.1,315.9 1306.8,315.9 1307.5,315.9 1308.2,315.9 1308.9,315.9 1309.6,315.9 1310.3,315.9 1311,315.9 1311.7,315.9 1312.4,315.9 1313.1,315.9 1313.8,315.9 1314.5,315.9 1315.2,315.9 1315.9,315.9 1316.6,315.9 1317.3,315.9 1318,315.9 1318.7,315.9 1319.4,315.9 1320.1,315.9 1320.8,315.9 1321.5,315.9 1322.2,315.9 1322.9,315.9 1323.6,315.9 1324.3,315.9 1325,315.9 1325.7,315.9 1326.4,315.8 1327.1,315.8 1327.8,315.8 1328.5,315.7 1329.2,315.7 1329.9,315.6 1330.6,315.5 1331.3,315.5 1332,315.4 1332.7,315.3 1333.4,315.3 1334.1,315.2 1334.8,315.1 1335.5,315.1 1336.2,315 1336.9,314.9 1337.6,314.9 1338.3,314.8 1339,314.8 1339.7,314.7 1340.4,314.7 1341.1,314.6 1341.8,314.6 1342.5,314.5 1343.2,314.5 1343.9,314.4 1344.6,314.4 1345.3,314.3 1346,314.3 1346.7,314.2 1347.4,314.2 1348.1,314.1 1348.8,314.1 1349.5,314.1 1350.2,314 1350.9,314 1351.6,314 1352.3,314 1353,313.9 1353.7,313.9 1354.4,313.9 1355.1,313.9 1355.8,313.8 1356.5,313.8 1357.2,313.8 1357.9,313.8 1358.6,313.8 1359.3,313.8 1360,313.7 1360.7,313.7 1361.4,313.7 1362.1,313.7 1362.8,313.7 1363.5,313.7 1364.2,313.7 1364.9,313.7 1365.6,313.7 1366.3,313.7 1367,313.7 1367.7,313.8 1368.4,313.8 1369.1,313.8 1369.8,313.9 1370.5,313.9 1371.2,313.9 1371.9,314 1372.6,314 1373.3,314.1 1374,314.1 1374.7,314.1 1375.4,314.2 1376.1,314.3 1376.8,314.3 1377.5,314.4 1378.2,314.5 1378.9,314.6 1379.6,314.6 1380.3,314.7 1381,314.8 1381.7,314.9 1382.4,314.9 1383.1,315 1383.8,315.1 1384.5,315.1 1385.2,315.1 1385.9,315.2 1386.6,315.2 1387.3,315.2 1388,315.2 1388.7,315.2 1389.4,315.2 1390.1,315.2 1390.8,315.2 1391.5,315.2 1392.2,315.2 1392.9,315.2 1393.6,315.2 1394.3,315.2 1395,315.2 1395.7,315.2 1396.4,315.2 1397.1,315.2 1397.8,315.1 1398.5,315.1 1399.2,315.1 1399.9,315.1 1400.6,315.1 1401.3,315.1 1402,315.1 1402.7,315.1 1403.4,315.1 1404.1,315 1404.8,315 1405.5,314.9 1406.2,314.9 1406.9,314.8 1407.6,314.8 1408.3,314.7 1409,314.6 1409.7,314.6 1410.4,314.5 1411.1,314.5 1411.8,314.5 1412.5,314.5 1413.2,314.5 1413.9,314.4 1414.6,314.4 1415.3,314.4 1416,314.4 1416.7,314.4 1417.4,314.4 1418.1,314.4 1418.8,314.4 1419.5,314.3 1420.2,314.3 1420.9,314.3 1421.6,314.3 1422.3,314.3 1423,314.3 1423.7,314.3 1424.4,314.3 1425.1,314.3 1425.8,314.3 1426.5,314.3 1427.2,314.3 1427.9,314.4 1428.6,314.4 1429.3,314.4 1430,314.5 1430.7,314.5 1431.4,314.5 1432.1,314.6 1432.8,314.7 1433.5,314.7 1434.2,314.8 1434.9,314.8 1435.6,314.9 1436.3,314.9 1437,315 1437.7,315.1 1438.4,315.2 1439.1,315.3 1439.8,315.4 1440.5,315.5 1441.2,315.6 1441.9,315.7 1442.6,315.9 1443.3,316 1444,316.1 1444.7,316.2 1445.4,316.3 1446.1,316.4 1446.8,316.5 1447.5,316.6 1448.2,316.7 1448.9,316.8 1449.6,316.8 1450.3,316.9 1451,317 1451.7,317.1 1452.4,317.2 1453.1,317.3 1453.8,317.4 1454.5,317.5 1455.2,317.7 1455.9,317.9 1456.6,318.1 1457.3,318.3 1458,318.5 1458.7,318.8 1459.4,319 1460.1,319.3 1460.8,319.6 1461.5,319.8 1462.2,320.1 1462.9,320.3 1463.6,320.5 1464.3,320.7 1465,321 1465.7,321.2 1466.4,321.4 1467.1,321.6 1467.8,321.8 1468.5,322 1469.2,322.2 1469.9,322.4 1470.6,322.5 1471.3,322.7 1472,322.8 1472.7,322.9 1473.4,323.1 1474.1,323.2 1474.8,323.3 1475.5,323.5 1476.2,323.6 1476.9,323.6 1477.6,323.7 1478.3,323.7 1479,323.7 1479.7,323.6 1480.4,323.4 1481.1,323.2 1481.8,323 1482.5,322.8 1483.2,322.6 1483.9,322.4 1484.6,322.3 1485.3,322.1 1486,322 1486.7,321.8 1487.4,321.6 1488.1,321.4 1488.8,321.2 1489.5,320.9 1490.2,320.5 1490.9,320.1 1491.6,319.7 1492.3,319.3 1493,318.8 1493.7,318.4 1494.4,318 1495.1,317.6 1495.8,317.3 1496.5,316.9 1497.2,316.5 1497.9,316.1 1498.6,315.7 1499.3,315.2 1500,314.7 1500.7,314 1501.4,313.3 1502.1,312.7 1502.8,312.1 1503.5,311.7 1504.2,311.3 1504.9,310.9 1505.6,310.6 1506.3,310.4 1507,310.2 1507.7,310.1 1508.4,310 1509.1,309.9 1509.8,309.9 1510.5,309.8 1511.2,309.8 1511.9,309.8 1512.6,309.8 1513.3,309.8 1514,309.8 1514.7,309.8 1515.4,309.8 1516.1,309.9 1516.8,310.1 1517.5,310.5 1518.2,311 1518.9,311.4 1519.6,311.9 1520.3,312.3 1521,312.7 1521.7,313.1 1522.4,313.5 1523.1,313.9 1523.8,314.2 1524.5,314.5 1525.2,314.7 1525.9,315 1526.6,315.2 1527.3,315.4 1528,315.6 1528.7,315.7 1529.4,315.7 1530.1,315.8 1530.8,315.8 1531.5,315.9 1532.2,315.9 1532.9,315.9 1533.6,315.9 1534.3,316 1535,316 1535.7,316 1536.4,316 1537.1,316 1537.8,316 1538.5,316 1539.2,316 1539.9,316 1540.6,316 1541.3,316 1542,315.9 1542.7,315.9 1543.4,315.9 1544.1,315.9 1544.8,315.9 1545.5,315.9 1546.2,315.9 1546.9,315.8 1547.6,315.8 1548.3,315.8 1549,315.8 1549.7,315.8 1550.4,315.8 1551.1,315.8 1551.8,315.8 1552.5,315.8 1553.2,315.8 1553.9,315.8 1554.6,315.8 1555.3,315.8 1556,315.8 1556.7,315.8 1557.4,315.7 1558.1,315.7 1558.8,315.7 1559.5,315.7 1560.2,315.7 1560.9,315.7 1561.6,315.7 1562.3,315.7 1563,315.7 1563.7,315.7 1564.4,315.7 1565.1,315.7 1565.8,315.7 1566.5,315.7 1567.2,315.7 1567.9,315.7 1568.6,315.7 1569.3,315.7 1570,315.7 1570.7,315.7 1571.4,315.7 1572.1,315.7 1572.8,315.7 1573.5,315.7 1574.2,315.7 1574.9,315.7 1575.6,315.7 1576.3,315.7 1577,315.6 1577.7,315.6 1578.4,315.6 1579.1,315.6 1579.8,315.6 1580.5,315.6 1581.2,315.6 1581.9,315.5 1582.6,315.4 1583.3,315.3 1584,315.2 1584.7,315.1 1585.4,315 1586.1,314.9 1586.8,314.8 1587.5,314.8 1588.2,314.8 1588.9,314.8 1589.6,314.7 1590.3,314.7 1591,314.7 1591.7,314.7 1592.4,314.7 1593.1,314.7 1593.8,314.7 1594.5,314.6 1595.2,314.6 1595.9,314.6 1596.6,314.6 1597.3,314.6 1598,314.6 1598.7,314.6 1599.4,314.6 1600.1,314.6 1600.8,314.6 1601.5,314.6 1602.2,314.6 1602.9,314.5 1603.6,314.5 1604.3,314.5 1605,314.5 1605.7,314.5 1606.4,314.5 1607.1,314.5 1607.8,314.5 1608.5,314.5 1609.2,314.5 1609.9,314.5 1610.6,314.5 1611.3,314.5 1612,314.4 1612.7,314.4 1613.4,314.4 1614.1,314.4 1614.8,314.4 1615.5,314.4 1616.2,314.4 1616.9,314.4 1617.6,314.4 1618.3,314.4 1619,314.4 1619.7,314.4 1620.4,314.3 1621.1,314.3 1621.8,314.3 1622.5,314.3 1623.2,314.3 1623.9,314.3 1624.6,314.3 1625.3,314.3 1626,314.3 1626.7,314.3 1627.4,314.3 1628.1,314.3 1628.8,314.3 1629.5,314.2 1630.2,314.2 1630.9,314.2 1631.6,314.2 1632.3,314.2 1633,314.2 1633.7,314.2 1634.4,314.2 1635.1,314.2 1635.8,314.2 1636.5,314.2 1637.2,314.2 1637.9,314.2 1638.6,314.2 1639.3,314.2 1640,314.2 1640.7,314.2 1641.4,314.1 1642.1,314.1 1642.8,314.1 1643.5,314.1 1644.2,314.1 1644.9,314.1 1645.6,314.1 1646.3,314.1 1647,314.1 1647.7,314.1 1648.4,314.1 1649.1,314.1 1649.8,314.1 1650.5,314.1 1651.2,314.1 1651.9,314.1 1652.6,314.1 1653.3,314.1 1654,314.1 1654.7,314.1 1655.4,314.1 1656.1,314.1 1656.8,314.2 1657.5,314.3 1658.2,314.3 1658.9,314.4 1659.6,314.5 1660.3,314.6 1661,314.7 1661.7,314.8 1662.4,315 1663.1,315.1 1663.8,315.3 1664.5,315.5 1665.2,315.7 1665.9,315.9 1666.6,316.1 1667.3,316.3 1668,316.6 1668.7,316.8 1669.4,317.1 1670.1,317.3 1670.8,317.6 1671.5,317.9 1672.2,318.2 1672.9,318.5 1673.6,318.8 1674.3,319.1 1675,319.3 1675.7,319.6 1676.4,319.9 1677.1,320.2 1677.8,320.5 1678.5,320.8 1679.2,321.1 1679.9,321.4 1680.6,321.6 1681.3,321.9 1682,322.1 1682.7,322.4 1683.4,322.7 1684.1,323 1684.8,323.2 1685.5,323.3 1686.2,323.3 1686.9,323.2 1687.6,323.2 1688.3,323.1 1689,323 1689.7,323 1690.4,323.1 1691.1,323.3 1691.8,323.6 1692.5,323.9 1693.2,324.3 1693.9,324.7 1694.6,325 1695.3,325.5 1696,326 1696.7,326.5 1697.4,327 1698.1,327.6 1698.8,328.3 1699.5,329.1 1700.2,329.9 1700.9,330.6 1701.6,331 1702.3,330.9 1703,330.6 1703.7,330.1 1704.4,329.5 1705.1,329 1705.8,328.7 1706.5,328.6 1707.2,328.5 1707.9,328.5 1708.6,328.4 1709.3,328.4 1710,328.3 1710.7,328.3 1711.4,328.3 1712.1,328.4 1712.8,328.7 1713.5,329.1 1714.2,329.6 1714.9,330.4 1715.6,331.2 1716.3,331.3 1717,330.3 1717.7,328.7 1718.4,327.2 1719.1,326.1 1719.8,324.9 1720.5,323.9 1721.2,323.3 1721.9,323.5 1722.6,324.1 1723.3,324.9 1724,325.3 1724.7,324.9 1725.4,323.8 1726.1,322.4 1726.8,321.3 1727.5,320.5 1728.2,319.7 1728.9,319.2 1729.6,319 1730.3,319.7 1731,320.9 1731.7,322.4 1732.4,323.6 1733.1,325 1733.8,326.3 1734.5,327.1 1735.2,327.3 1735.9,327.1 1736.6,326.7 1737.3,326.2 1738,325.6 1738.7,324.7 1739.4,323.6 1740.1,322.3 1740.8,321 1741.5,319.7 1742.2,318.2 1742.9,316.7 1743.6,315.2 1744.3,313.7 1745,312.5 1745.7,311.4 1746.4,310.4 1747.1,309.4 1747.8,308.5 1748.5,307.7 1749.2,307 1749.9,306.3 1750.6,305.7 1751.3,305.1 1752,304.6 1752.7,304.2 1753.4,304 1754.1,303.9 1754.8,303.7 1755.5,303.6 1756.2,303.5 1756.9,303.5 1757.6,303.6 1758.3,304.2 1759,305 1759.7,305.5 1760.4,305.4 1761.1,305.2 1761.8,304.9 1762.5,304.8 1763.2,304.8 1763.9,304.9 1764.6,305.1 1765.3,305.3 1766,305.6 1766.7,305.8 1767.4,306.5 1768.1,307.5 1768.8,308.5 1769.5,309.3 1770.2,310.2 1770.9,311 1771.6,311.8 1772.3,312.4 1773,312.8 1773.7,312.8 1774.4,312.7 1775.1,312.6 1775.8,312.5 1776.5,312.4 1777.2,312.2 1777.9,312.1 1778.6,312 1779.3,311.9 1780,311.7 1780.7,311.6 1781.4,311.5 1782.1,311.3 1782.8,311.2 1783.5,311.1 1784.2,310.9 1784.9,310.8 1785.6,310.7 1786.3,310.6 1787,310.4 1787.7,310.3 1788.4,310.3 1789.1,310.2 1789.8,310.2 1790.5,310.2 1791.2,310.2 1791.9,310.1 1792.6,310.1 1793.3,310.1 1794,310.1 1794.7,310.1 1795.4,310.1 1796.1,310.1 1796.8,310.1 1797.5,310.1 1798.2,310.2 1798.9,310.2 1799.6,310.3 1800.3,310.3 1801,310.4 1801.7,310.5 1802.4,310.6 1803.1,310.7 1803.8,310.7 1804.5,310.8 1805.2,310.9 1805.9,311 1806.6,311.1 1807.3,311.2 1808,311.3 1808.7,311.3 1809.4,311.4 1810.1,311.4 1810.8,311.5 1811.5,311.6 1812.2,311.6 1812.9,311.7 1813.6,311.7 1814.3,311.8 1815,311.8 1815.7,311.9 1816.4,312 1817.1,312 1817.8,312.1 1818.5,312.1 1819.2,312.2 1819.9,312.2 1820.6,312.3 1821.3,312.3 1822,312.4 1822.7,312.4 1823.4,312.4 1824.1,312.5 1824.8,312.5 1825.5,312.6 1826.2,312.6 1826.9,312.7 1827.6,312.7 1828.3,312.7 1829,312.8 1829.7,312.8 1830.4,312.8 1831.1,312.9 1831.8,312.9 1832.5,312.9 1833.2,312.9 1833.9,313 1834.6,313 1835.3,313 1836,313 1836.7,313.1 1837.4,313.1 1838.1,313.1 1838.8,313.1 1839.5,313.1 1840.2,313.2 1840.9,313.2 1841.6,313.2 1842.3,313.2 1843,313.2 1843.7,313.3 1844.4,313.3 1845.1,313.3 1845.8,313.3 1846.5,313.4 1847.2,313.4 1847.9,313.4 1848.6,313.4 1849.3,313.5 1850,313.5 1850.7,313.5 1851.4,313.6 1852.1,313.6 1852.8,313.6 1853.5,313.7 1854.2,313.7 1854.9,313.7 1855.6,313.8 1856.3,313.8 1857,313.8 1857.7,313.9 1858.4,313.9 1859.1,314 1859.8,314 1860.5,314.1 1861.2,314.1 1861.9,314.2 1862.6,314.2 1863.3,314.3 1864,314.4 1864.7,314.4 1865.4,314.6 1866.1,314.7 1866.8,314.8 1867.5,314.9 1868.2,315.1 1868.9,315.2 1869.6,315.4 1870.3,315.5 1871,315.7 1871.7,315.8 1872.4,315.9 1873.1,316 1873.8,316.1 1874.5,316.2 1875.2,316.3 1875.9,316.4 1876.6,316.5 1877.3,316.6 1878,316.7 1878.7,316.8 1879.4,316.9 1880.1,317 1880.8,317.1 1881.5,317.1 1882.2,317.2 1882.9,317.2 1883.6,317.2 1884.3,317.1 1885,317 1885.7,316.8 1886.4,316.5 1887.1,316.4 1887.8,316.3 1888.5,316.3 1889.2,316.4 1889.9,316.5 1890.6,316.5 1891.3,316.6 1892,316.6 1892.7,316.5 1893.4,316.2 1894.1,315.9 1894.8,315.4 1895.5,315 1896.2,314.5 1896.9,314.1 1897.6,313.7 1898.3,313.2 1899,312.7 1899.7,312.2 1900.4,311.7 1901.1,311.3 1901.8,310.9 1902.5,310.5 1903.2,310.3 1903.9,310.1 1904.6,309.9 1905.3,309.8 1906,309.6 1906.7,309.4 1907.4,309.3 1908.1,309 1908.8,308.7 1909.5,308.3 1910.2,307.9 1910.9,307.5 1911.6,307.1 1912.3,306.9 1913,306.7 1913.7,306.7 1914.4,306.7 1915.1,306.8 1915.8,306.9 1916.5,307 1917.2,307 1917.9,307.1 1918.6,307.1 1919.3,307 1920,306.8 1920.7,306.5 1921.4,306.1 1922.1,305.7 1922.8,305.4 1923.5,305.2 1924.2,305.1 1924.9,305.2 1925.6,305.4 1926.3,305.7 1927,306.1 1927.7,306.5 1928.4,307 1929.1,307.8 1929.8,308.8 1930.5,309.9 1931.2,310.9 1931.9,312 1932.6,313.2 1933.3,314.2 1934,315.1 1934.7,315.5 1935.4,315.5 1936.1,315.3 1936.8,315.1 1937.5,314.8 1938.2,314.6 1938.9,314.5 1939.6,314.7 1940.3,315.5 1941,316.5 1941.7,317.7 1942.4,318.7 1943.1,319.4 1943.8,319.8 1944.5,320.2 1945.2,320.5 1945.9,320.8 1946.6,321.1 1947.3,321.4 1948,321.7 1948.7,322.2 1949.4,322.8 1950.1,323.5 1950.8,324.3 1951.5,325 1952.2,325.7 1952.9,326.4 1953.6,327.2 1954.3,327.9 1955,328.3 1955.7,328.3 1956.4,328.3 1957.1,328.2 1957.8,328.2 1958.5,328.1 1959.2,328 1959.9,328 1960.6,327.9 1961.3,327.8 1962,327.7 1962.7,327.6 1963.4,327.5 1964.1,327.3 1964.8,327.1 1965.5,327 1966.2,326.8 1966.9,326.5 1967.6,326.3 1968.3,326.1 1969,325.9 1969.7,325.6 1970.4,325.2 1971.1,324.9 1971.8,324.5 1972.5,324.1 1973.2,323.7 1973.9,323.4 1974.6,323 1975.3,322.6 1976,322.3 1976.7,322 1977.4,321.6 1978.1,321.3 1978.8,321 1979.5,320.6 1980.2,320.3 1980.9,320 1981.6,319.7 1982.3,319.4 1983,319.2 1983.7,318.9 1984.4,318.7 1985.1,318.5 1985.8,318.3 1986.5,318.2 1987.2,318 1987.9,317.8 1988.6,317.7 1989.3,317.6 1990,317.4 1990.7,317.3 1991.4,317.2 1992.1,317.1 1992.8,317 1993.5,316.9 1994.2,316.8 1994.9,316.7 1995.6,316.7 1996.3,316.6 1997,316.6 1997.7,316.5 1998.4,316.5 1999.1,316.4 1999.8,316.4 2000.5,316.3 2001.2,316.3 2001.9,316.2 2002.6,316.2 2003.3,316.2 2004,316.1 2004.7,316.1 2005.4,316.1 2006.1,316.1 2006.8,316 2007.5,316 2008.2,316 2008.9,316 2009.6,316 2010.3,315.9 2011,315.9 2011.7,315.9 2012.4,315.9 2013.1,315.9 2013.8,315.9 2014.5,315.8 2015.2,315.8 2015.9,315.8 2016.6,315.8 2017.3,315.8 2018,315.8 2018.7,315.8 2019.4,315.7 2020.1,315.7 2020.8,315.7 2021.5,315.7 2022.2,315.7 2022.9,315.7 2023.6,315.7 2024.3,315.7 2025,315.7 2025.7,315.7 2026.4,315.7 2027.1,315.7 2027.8,315.7 2028.5,315.7 2029.2,315.7 2029.9,315.7 2030.6,315.7 2031.3,315.7 2032,315.7 2032.7,315.7 2033.4,315.7 2034.1,315.7 2034.8,315.8 2035.5,315.8 2036.2,315.8 2036.9,315.8 2037.6,315.8 2038.3,315.8 2039,315.8 2039.7,315.8 2040.4,315.8 2041.1,315.8 2041.8,315.8 2042.5,315.8 2043.2,315.8 2043.9,315.9 2044.6,315.9 2045.3,315.9 2046,315.9 2046.7,315.9 2047.4,315.9 2048.1,315.9 2048.8,315.9 2049.5,315.9 2050.2,315.9 2050.9,315.9 2051.6,315.9 2052.3,315.9 2053,315.9 2053.7,315.9 2054.4,315.9 2055.1,315.9 2055.8,315.9 2056.5,315.9 2057.2,315.9 2057.9,315.9 2058.6,315.9 2059.3,315.8 2060,315.8 2060.7,315.8 2061.4,315.8 2062.1,315.8 2062.8,315.8 2063.5,315.8 2064.2,315.8 2064.9,315.7 2065.6,315.7 2066.3,315.7 2067,315.7 2067.7,315.7 2068.4,315.7 2069.1,315.6 2069.8,315.6 2070.5,315.6" fill="none" stroke="#000" stroke-width="2.1" stroke-linejoin="round" stroke-linecap="butt" />
<line x1="866.7" y1="266.6" x2="866.7" y2="293.7" stroke="#9B2068" stroke-width="2"/>
<line x1="1219.6" y1="274.7" x2="1219.6" y2="301.7" stroke="#9B2068" stroke-width="2"/>
<line x1="1512.8" y1="274.7" x2="1512.8" y2="301.7" stroke="#9B2068" stroke-width="2"/>
<line x1="1738.9" y1="274.7" x2="1738.9" y2="301.7" stroke="#9B2068" stroke-width="2"/>
<line x1="1935.6" y1="274.7" x2="1935.6" y2="301.7" stroke="#9B2068" stroke-width="2"/>
<polyline points="813,608.7 814,608.7 815,608.7 816,608.6 817,608.6 818,608.5 819,608.5 820,608.4 821,608.3 822,608.2 823,608.1 824,608 825,607.9 826,607.8 827,607.7 828,607.6 829,607.5 830,607.4 831,607.2 832,607 833,606.7 834,606.4 835,605.9 836,605.2 837,604.3 838,602.8 839,600.7 840,597.9 841,593.9 842,589.3 843,584.4 844,578.3 845,570.8 846,562.3 847,552.8 848,542 849,529.2 850,516.5 851,504.6 852,492.4 853,478.4 854,466.5 855,456.2 856,448.8 857,443 858,438.2 859,434.5 860,431.7 861,429.5 862,427.5 863,424.7 864,422.4 865,422.8 866,427.9 867,438.8 868,456 869,473.2 870,493.2 871,523 872,540.8 873,552 874,559.8 875,565.6 876,570 877,574.1 878,578.3 879,582.3 880,586.2 881,589.9 882,593.6 883,597 884,600.5 885,603.2 886,604.5 887,605.5 888,606.1 889,606.4 890,606.6 891,606.8 892,607 893,607.1 894,607.1 895,607.1 896,607.1 897,607.1 898,607.1 899,607.1 900,607.1 901,607.1 902,607.1 903,607.1 904,607.1 905,607.1 906,607.1 907,607.1 908,607.1 909,607.1 910,607.1 911,607.1 912,607.1 913,607.1 914,607.1 915,607.1 916,607.1 917,607.1 918,607 919,607 920,606.9 921,606.8 922,606.7 923,606.6 924,606.5 925,606.5 926,606.5 927,606.6 928,606.8 929,607 930,607.2 931,607.3 932,607.3 933,607.3 934,607.3 935,607.3 936,607.3 937,607.3 938,607.2 939.1,607.2 940.1,607.2 941.1,607.2 942.1,607.1 943.1,607.1 944.1,607.1 945.1,607 946.1,607 947.1,606.9 948.1,606.8 949.1,606.6 950.1,606.5 951.1,606.4 952.1,606.2 953.1,606.1 954.1,606 955.1,605.9 956.1,605.8 957.1,605.8 958.1,605.8 959.1,605.7 960.1,605.7 961.1,605.7 962.1,605.7 963.1,605.6 964.1,605.6 965.1,605.6 966.1,605.6 967.1,605.6 968.1,605.6 969.1,605.7 970.1,605.7 971.1,605.8 972.1,605.9 973.1,606 974.1,606.1 975.1,606.2 976.1,606.2 977.1,606.3 978.1,606.3 979.1,606.4 980.1,606.4 981.1,606.4 982.1,606.5 983.1,606.5 984.1,606.5 985.1,606.6 986.1,606.6 987.1,606.6 988.1,606.6 989.1,606.7 990.1,606.7 991.1,606.7 992.1,606.7 993.1,606.7 994.1,606.8 995.1,606.8 996.1,606.8 997.1,606.8 998.1,606.9 999.1,606.9 1000.1,606.9 1001.1,606.9 1002.1,607 1003.1,607 1004.1,607 1005.1,607 1006.1,607.1 1007.1,607.1 1008.1,607.1 1009.1,607.1 1010.1,607.2 1011.1,607.2 1012.1,607.2 1013.1,607.2 1014.1,607.3 1015.1,607.3 1016.1,607.3 1017.1,607.3 1018.1,607.4 1019.1,607.4 1020.1,607.4 1021.1,607.4 1022.1,607.5 1023.1,607.5 1024.1,607.5 1025.1,607.5 1026.1,607.6 1027.1,607.6 1028.1,607.6 1029.1,607.6 1030.1,607.7 1031.1,607.7 1032.1,607.7 1033.1,607.7 1034.1,607.7 1035.1,607.8 1036.1,607.8 1037.1,607.8 1038.1,607.8 1039.1,607.9 1040.1,607.9 1041.1,607.9 1042.1,607.9 1043.1,608 1044.1,608 1045.1,608 1046.1,608 1047.1,608.1 1048.1,608.1 1049.1,608.1 1050.1,608.2 1051.1,608.2 1052.1,608.2 1053.1,608.2 1054.1,608.3 1055.1,608.3 1056.1,608.3 1057.1,608.4 1058.1,608.4 1059.1,608.4 1060.1,608.5 1061.1,608.5 1062.1,608.5 1063.1,608.5 1064.1,608.6 1065.1,608.6 1066.1,608.6 1067.1,608.6 1068.1,608.7 1069.1,608.7 1070.1,608.7 1071.1,608.7 1072.1,608.7 1073.1,608.7 1074.1,608.8 1075.1,608.8 1076.1,608.8 1077.1,608.8 1078.1,608.8 1079.1,608.8 1080.1,608.8 1081.1,608.8 1082.1,608.8 1083.1,608.8 1084.1,608.8 1085.1,608.8 1086.1,608.8 1087.1,608.8 1088.1,608.8 1089.1,608.8 1090.1,608.8 1091.1,608.8 1092.1,608.8 1093.1,608.8 1094.1,608.8 1095.1,608.8 1096.1,608.8 1097.1,608.8 1098.1,608.8 1099.1,608.8 1100.1,608.8 1101.1,608.8 1102.1,608.8 1103.1,608.8 1104.1,608.8 1105.1,608.8 1106.1,608.8 1107.1,608.8 1108.1,608.8 1109.1,608.8 1110.1,608.8 1111.1,608.8 1112.1,608.8 1113.1,608.8 1114.1,608.8 1115.1,608.8 1116.1,608.8 1117.1,608.8 1118.1,608.8 1119.1,608.8 1120.1,608.8 1121.1,608.8 1122.1,608.8 1123.1,608.8 1124.1,608.8 1125.1,608.8 1126.1,608.8 1127.1,608.9 1128.1,608.9 1129.1,608.9 1130.1,608.9 1131.1,608.9 1132.1,609 1133.1,609 1134.1,609 1135.1,609.1 1136.1,609.1 1137.1,609.1 1138.1,609.1 1139.1,609.2 1140.1,609.2 1141.1,609.2 1142.1,609.3 1143.1,609.3 1144.1,609.3 1145.1,609.4 1146.1,609.4 1147.1,609.4 1148.1,609.4 1149.1,609.4 1150.1,609.5 1151.1,609.5 1152.1,609.5 1153.1,609.5 1154.1,609.5 1155.1,609.5 1156.1,609.5 1157.1,609.5 1158.1,609.5 1159.1,609.5 1160.1,609.5 1161.1,609.5 1162.1,609.5 1163.1,609.5 1164.1,609.5 1165.1,609.5 1166.1,609.5 1167.1,609.5 1168.1,609.5 1169.1,609.5 1170.1,609.5 1171.1,609.5 1172.1,609.5 1173.1,609.5 1174.1,609.5 1175.1,609.5 1176.1,609.5 1177.1,609.5 1178.1,609.5 1179.1,609.5 1180.1,609.5 1181.1,609.5 1182.1,609.5 1183.1,609.5 1184.1,609.5 1185.1,609.5 1186.1,609.5 1187.1,609.5 1188.1,609.5 1189.1,609.5 1190.1,609.5 1191.2,609.5 1192.2,609.5 1193.2,609.4 1194.2,609.3 1195.2,609.2 1196.2,609 1197.2,608.8 1198.2,608.6 1199.2,608.4 1200.2,608.2 1201.2,607.9 1202.2,607.6 1203.2,607.2 1204.2,606.9 1205.2,606.5 1206.2,606.1 1207.2,605.8 1208.2,605.5 1209.2,605.1 1210.2,604.8 1211.2,604.5 1212.2,604.2 1213.2,603.9 1214.2,603.7 1215.2,603.4 1216.2,603.1 1217.2,602.8 1218.2,602.6 1219.2,602.3 1220.2,602.1 1221.2,601.8 1222.2,601.6 1223.2,601.4 1224.2,601.1 1225.2,600.9 1226.2,600.7 1227.2,600.5 1228.2,600.5 1229.2,600.7 1230.2,600.9 1231.2,601.2 1232.2,601.5 1233.2,601.8 1234.2,602.2 1235.2,602.5 1236.2,602.8 1237.2,603.2 1238.2,603.6 1239.2,604 1240.2,604.4 1241.2,604.9 1242.2,605.4 1243.2,606 1244.2,606.4 1245.2,606.9 1246.2,607.3 1247.2,607.6 1248.2,607.9 1249.2,608.2 1250.2,608.5 1251.2,608.8 1252.2,609 1253.2,609.2 1254.2,609.4 1255.2,609.5 1256.2,609.6 1257.2,609.6 1258.2,609.7 1259.2,609.7 1260.2,609.7 1261.2,609.7 1262.2,609.8 1263.2,609.8 1264.2,609.8 1265.2,609.8 1266.2,609.8 1267.2,609.8 1268.2,609.9 1269.2,609.9 1270.2,609.9 1271.2,609.9 1272.2,610 1273.2,610 1274.2,610 1275.2,610 1276.2,610.1 1277.2,610.1 1278.2,610.1 1279.2,610.1 1280.2,610.2 1281.2,610.2 1282.2,610.2 1283.2,610.3 1284.2,610.3 1285.2,610.3 1286.2,610.4 1287.2,610.4 1288.2,610.4 1289.2,610.4 1290.2,610.5 1291.2,610.5 1292.2,610.5 1293.2,610.5 1294.2,610.5 1295.2,610.6 1296.2,610.6 1297.2,610.6 1298.2,610.6 1299.2,610.6 1300.2,610.7 1301.2,610.7 1302.2,610.7 1303.2,610.7 1304.2,610.7 1305.2,610.7 1306.2,610.8 1307.2,610.8 1308.2,610.8 1309.2,610.8 1310.2,610.8 1311.2,610.8 1312.2,610.8 1313.2,610.9 1314.2,610.9 1315.2,610.9 1316.2,610.9 1317.2,610.9 1318.2,610.9 1319.2,610.9 1320.2,610.9 1321.2,611 1322.2,611 1323.2,611 1324.2,611 1325.2,611 1326.2,611 1327.2,611 1328.2,611 1329.2,611 1330.2,611 1331.2,611 1332.2,611 1333.2,611 1334.2,611 1335.2,611 1336.2,611 1337.2,610.9 1338.2,610.9 1339.2,610.9 1340.2,610.9 1341.2,610.9 1342.2,610.8 1343.2,610.8 1344.2,610.8 1345.2,610.8 1346.2,610.7 1347.2,610.7 1348.2,610.7 1349.2,610.6 1350.2,610.6 1351.2,610.6 1352.2,610.6 1353.2,610.5 1354.2,610.5 1355.2,610.5 1356.2,610.4 1357.2,610.4 1358.2,610.3 1359.2,610.3 1360.2,610.2 1361.2,610.2 1362.2,610.1 1363.2,610.1 1364.2,610.1 1365.2,610 1366.2,610 1367.2,610 1368.2,609.9 1369.2,609.9 1370.2,609.9 1371.2,609.9 1372.2,609.9 1373.2,609.9 1374.2,609.9 1375.2,609.9 1376.2,610 1377.2,610 1378.2,610 1379.2,610.1 1380.2,610.1 1381.2,610.1 1382.2,610.2 1383.2,610.2 1384.2,610.3 1385.2,610.3 1386.2,610.4 1387.2,610.4 1388.2,610.5 1389.2,610.5 1390.2,610.5 1391.2,610.6 1392.2,610.6 1393.2,610.7 1394.2,610.8 1395.2,610.8 1396.2,610.9 1397.2,611 1398.2,611 1399.2,611.1 1400.2,611.2 1401.2,611.2 1402.2,611.2 1403.2,611.3 1404.2,611.3 1405.2,611.3 1406.2,611.3 1407.2,611.3 1408.2,611.3 1409.2,611.3 1410.2,611.3 1411.2,611.3 1412.2,611.3 1413.2,611.3 1414.2,611.2 1415.2,611.2 1416.2,611.2 1417.2,611.2 1418.2,611.2 1419.2,611.2 1420.2,611.2 1421.2,611.2 1422.2,611.1 1423.2,611.1 1424.2,611.1 1425.2,611.1 1426.2,611.1 1427.2,611.1 1428.2,611.1 1429.2,611.1 1430.2,611 1431.2,611 1432.2,611 1433.2,611 1434.2,611 1435.2,611 1436.2,611 1437.2,611 1438.2,611 1439.2,611 1440.2,611 1441.2,611 1442.3,611.1 1443.3,611.1 1444.3,611.1 1445.3,611.2 1446.3,611.2 1447.3,611.2 1448.3,611.3 1449.3,611.3 1450.3,611.4 1451.3,611.4 1452.3,611.4 1453.3,611.5 1454.3,611.5 1455.3,611.5 1456.3,611.5 1457.3,611.5 1458.3,611.5 1459.3,611.5 1460.3,611.4 1461.3,611.4 1462.3,611.4 1463.3,611.3 1464.3,611.3 1465.3,611.2 1466.3,611.2 1467.3,611.1 1468.3,611.1 1469.3,611 1470.3,610.9 1471.3,610.9 1472.3,610.8 1473.3,610.7 1474.3,610.6 1475.3,610.5 1476.3,610.4 1477.3,610.2 1478.3,610 1479.3,609.9 1480.3,609.7 1481.3,609.5 1482.3,609.3 1483.3,609.2 1484.3,609 1485.3,608.8 1486.3,608.6 1487.3,608.3 1488.3,608.1 1489.3,607.9 1490.3,607.7 1491.3,607.4 1492.3,607.2 1493.3,607 1494.3,606.8 1495.3,606.7 1496.3,606.5 1497.3,606.3 1498.3,606.1 1499.3,606 1500.3,605.8 1501.3,605.7 1502.3,605.5 1503.3,605.4 1504.3,605.3 1505.3,605.1 1506.3,605 1507.3,604.8 1508.3,604.7 1509.3,604.6 1510.3,604.4 1511.3,604.3 1512.3,604.3 1513.3,604.2 1514.3,604.2 1515.3,604.2 1516.3,604.3 1517.3,604.5 1518.3,604.6 1519.3,604.8 1520.3,604.9 1521.3,605.1 1522.3,605.3 1523.3,605.6 1524.3,605.9 1525.3,606.2 1526.3,606.5 1527.3,606.9 1528.3,607.5 1529.3,608.1 1530.3,608.8 1531.3,609.4 1532.3,609.9 1533.3,610.3 1534.3,610.6 1535.3,611 1536.3,611.3 1537.3,611.5 1538.3,611.7 1539.3,611.9 1540.3,611.9 1541.3,612 1542.3,612 1543.3,612 1544.3,612.1 1545.3,612.1 1546.3,612.1 1547.3,612.1 1548.3,612.2 1549.3,612.2 1550.3,612.2 1551.3,612.2 1552.3,612.3 1553.3,612.3 1554.3,612.3 1555.3,612.4 1556.3,612.4 1557.3,612.4 1558.3,612.4 1559.3,612.5 1560.3,612.5 1561.3,612.5 1562.3,612.6 1563.3,612.6 1564.3,612.6 1565.3,612.7 1566.3,612.7 1567.3,612.7 1568.3,612.7 1569.3,612.8 1570.3,612.8 1571.3,612.8 1572.3,612.8 1573.3,612.9 1574.3,612.9 1575.3,612.9 1576.3,612.9 1577.3,613 1578.3,613 1579.3,613 1580.3,613 1581.3,613 1582.3,613 1583.3,613 1584.3,613 1585.3,613.1 1586.3,613.1 1587.3,613.1 1588.3,613.1 1589.3,613.1 1590.3,613.1 1591.3,613.1 1592.3,613.1 1593.3,613.1 1594.3,613.2 1595.3,613.2 1596.3,613.2 1597.3,613.2 1598.3,613.2 1599.3,613.2 1600.3,613.2 1601.3,613.2 1602.3,613.2 1603.3,613.2 1604.3,613.3 1605.3,613.3 1606.3,613.3 1607.3,613.3 1608.3,613.3 1609.3,613.3 1610.3,613.3 1611.3,613.3 1612.3,613.3 1613.3,613.3 1614.3,613.3 1615.3,613.3 1616.3,613.3 1617.3,613.4 1618.3,613.4 1619.3,613.4 1620.3,613.4 1621.3,613.4 1622.3,613.4 1623.3,613.4 1624.3,613.4 1625.3,613.4 1626.3,613.4 1627.3,613.4 1628.3,613.4 1629.3,613.4 1630.3,613.4 1631.3,613.4 1632.3,613.4 1633.3,613.4 1634.3,613.4 1635.3,613.4 1636.3,613.4 1637.3,613.4 1638.3,613.4 1639.3,613.4 1640.3,613.4 1641.3,613.4 1642.3,613.4 1643.3,613.4 1644.3,613.4 1645.3,613.4 1646.3,613.4 1647.3,613.3 1648.3,613.3 1649.3,613.3 1650.3,613.3 1651.3,613.3 1652.3,613.3 1653.3,613.3 1654.3,613.3 1655.3,613.3 1656.3,613.3 1657.3,613.2 1658.3,613.2 1659.3,613.2 1660.3,613.2 1661.3,613.2 1662.3,613.2 1663.3,613.2 1664.3,613.2 1665.3,613.1 1666.3,613.1 1667.3,613.1 1668.3,613.1 1669.3,613.1 1670.3,613.1 1671.3,613.1 1672.3,613 1673.3,613 1674.3,613 1675.3,613 1676.3,613 1677.3,612.9 1678.3,612.9 1679.3,612.9 1680.3,612.8 1681.3,612.8 1682.3,612.8 1683.3,612.7 1684.3,612.7 1685.3,612.6 1686.3,612.6 1687.3,612.4 1688.3,612.3 1689.3,612.1 1690.3,611.9 1691.3,611.6 1692.3,611.3 1693.4,611 1694.4,610.5 1695.4,609.9 1696.4,609.3 1697.4,608.6 1698.4,607.9 1699.4,607.1 1700.4,606.2 1701.4,605.3 1702.4,604.4 1703.4,603.7 1704.4,603 1705.4,602.4 1706.4,601.8 1707.4,601.3 1708.4,600.7 1709.4,600 1710.4,599.4 1711.4,598.8 1712.4,598 1713.4,597 1714.4,595.6 1715.4,594.2 1716.4,592.8 1717.4,591.7 1718.4,590.6 1719.4,589.6 1720.4,588.7 1721.4,588.1 1722.4,587.8 1723.4,587.5 1724.4,587.3 1725.4,587 1726.4,586.5 1727.4,585.5 1728.4,584.1 1729.4,582.9 1730.4,581.6 1731.4,580.9 1732.4,581.2 1733.4,582 1734.4,582.3 1735.4,582 1736.4,581.5 1737.4,581.1 1738.4,580.6 1739.4,580.6 1740.4,581.1 1741.4,582 1742.4,583.8 1743.4,585.8 1744.4,587.3 1745.4,588.7 1746.4,589.9 1747.4,590.7 1748.4,591 1749.4,591.2 1750.4,591.3 1751.4,591.4 1752.4,591.6 1753.4,591.8 1754.4,592.1 1755.4,592.4 1756.4,592.8 1757.4,593.2 1758.4,593.6 1759.4,594.1 1760.4,594.5 1761.4,595 1762.4,595.5 1763.4,596.1 1764.4,596.7 1765.4,597.6 1766.4,598.6 1767.4,599.7 1768.4,600.7 1769.4,601.6 1770.4,602.3 1771.4,602.9 1772.4,603.5 1773.4,604.1 1774.4,604.8 1775.4,605.4 1776.4,606.2 1777.4,607.2 1778.4,608.2 1779.4,609.3 1780.4,610.2 1781.4,611 1782.4,611.6 1783.4,612.1 1784.4,612.3 1785.4,612.4 1786.4,612.5 1787.4,612.6 1788.4,612.7 1789.4,612.7 1790.4,612.8 1791.4,612.8 1792.4,612.8 1793.4,612.9 1794.4,612.9 1795.4,613 1796.4,613 1797.4,613.1 1798.4,613.1 1799.4,613.2 1800.4,613.2 1801.4,613.3 1802.4,613.4 1803.4,613.4 1804.4,613.5 1805.4,613.6 1806.4,613.6 1807.4,613.7 1808.4,613.7 1809.4,613.8 1810.4,613.8 1811.4,613.9 1812.4,613.9 1813.4,614 1814.4,614 1815.4,614.1 1816.4,614.1 1817.4,614.2 1818.4,614.2 1819.4,614.3 1820.4,614.3 1821.4,614.3 1822.4,614.4 1823.4,614.4 1824.4,614.5 1825.4,614.5 1826.4,614.5 1827.4,614.6 1828.4,614.6 1829.4,614.6 1830.4,614.7 1831.4,614.7 1832.4,614.7 1833.4,614.8 1834.4,614.8 1835.4,614.8 1836.4,614.9 1837.4,614.9 1838.4,614.9 1839.4,615 1840.4,615 1841.4,615 1842.4,615.1 1843.4,615.1 1844.4,615.1 1845.4,615.2 1846.4,615.2 1847.4,615.2 1848.4,615.3 1849.4,615.3 1850.4,615.3 1851.4,615.3 1852.4,615.4 1853.4,615.4 1854.4,615.4 1855.4,615.5 1856.4,615.5 1857.4,615.5 1858.4,615.6 1859.4,615.6 1860.4,615.6 1861.4,615.7 1862.4,615.7 1863.4,615.7 1864.4,615.8 1865.4,615.8 1866.4,615.8 1867.4,615.9 1868.4,615.9 1869.4,615.9 1870.4,615.9 1871.4,616 1872.4,616 1873.4,616 1874.4,616 1875.4,616 1876.4,616 1877.4,616 1878.4,616 1879.4,616 1880.4,615.9 1881.4,615.9 1882.4,615.8 1883.4,615.8 1884.4,615.7 1885.4,615.7 1886.4,615.6 1887.4,615.5 1888.4,615.4 1889.4,615.3 1890.4,615.2 1891.4,615.1 1892.4,614.9 1893.4,614.7 1894.4,614.5 1895.4,614.3 1896.4,613.9 1897.4,613.6 1898.4,613.2 1899.4,612.8 1900.4,612.3 1901.4,611.9 1902.4,611.4 1903.4,610.9 1904.4,610.2 1905.4,609.6 1906.4,608.8 1907.4,608 1908.4,607.2 1909.4,606.4 1910.4,605.7 1911.4,604.9 1912.4,604.2 1913.4,603.5 1914.4,602.7 1915.4,602 1916.4,601.2 1917.4,600.5 1918.4,599.8 1919.4,599.1 1920.4,598.5 1921.4,597.9 1922.4,597.3 1923.4,596.8 1924.4,596.3 1925.4,595.8 1926.4,595.4 1927.4,594.9 1928.4,594.5 1929.4,594.2 1930.4,593.8 1931.4,593.5 1932.4,593.2 1933.4,592.9 1934.4,592.6 1935.4,592.5 1936.4,592.4 1937.4,592.6 1938.4,592.9 1939.4,593.3 1940.4,593.8 1941.4,594.5 1942.4,595.6 1943.4,596.7 1944.4,597.6 1945.5,598.2 1946.5,598.3 1947.5,598.3 1948.5,598.3 1949.5,598.5 1950.5,598.9 1951.5,599.6 1952.5,600.5 1953.5,601.5 1954.5,602.5 1955.5,603.4 1956.5,604.3 1957.5,605.3 1958.5,606.2 1959.5,607.2 1960.5,608.2 1961.5,609.1 1962.5,610 1963.5,610.7 1964.5,611.4 1965.5,612.1 1966.5,612.7 1967.5,613.3 1968.5,613.9 1969.5,614.4 1970.5,614.9 1971.5,615.4 1972.5,615.8 1973.5,616.2 1974.5,616.6 1975.5,617 1976.5,617.3 1977.5,617.6 1978.5,617.8 1979.5,618 1980.5,618.1 1981.5,618.2 1982.5,618.3 1983.5,618.4 1984.5,618.5 1985.5,618.6 1986.5,618.7 1987.5,618.7 1988.5,618.8 1989.5,618.8 1990.5,618.9 1991.5,618.9 1992.5,618.9 1993.5,618.9 1994.5,619 1995.5,619 1996.5,619 1997.5,619 1998.5,619 1999.5,619 2000.5,619.1 2001.5,619.1 2002.5,619.1 2003.5,619.1 2004.5,619.1 2005.5,619.1 2006.5,619.1 2007.5,619.1 2008.5,619.1 2009.5,619.2 2010.5,619.2 2011.5,619.2 2012.5,619.2 2013.5,619.2 2014.5,619.2 2015.5,619.2 2016.5,619.2 2017.5,619.2 2018.5,619.2 2019.5,619.2 2020.5,619.2 2021.5,619.3 2022.5,619.3 2023.5,619.3 2024.5,619.3 2025.5,619.3 2026.5,619.3 2027.5,619.3 2028.5,619.3 2029.5,619.4 2030.5,619.4 2031.5,619.4 2032.5,619.4 2033.5,619.4 2034.5,619.4 2035.5,619.4 2036.5,619.4 2037.5,619.5 2038.5,619.5 2039.5,619.5 2040.5,619.5 2041.5,619.5 2042.5,619.5 2043.5,619.5 2044.5,619.5 2045.5,619.6 2046.5,619.6 2047.5,619.6 2048.5,619.6 2049.5,619.6 2050.5,619.6 2051.5,619.6 2052.5,619.7 2053.5,619.7 2054.5,619.7 2055.5,619.7 2056.5,619.7 2057.5,619.7 2058.5,619.7 2059.5,619.7 2060.5,619.8 2061.5,619.8 2062.5,619.8 2063.5,619.8 2064.5,619.8 2065.5,619.8 2066.5,619.8 2067.5,619.9 2068.5,619.9 2069.5,619.9 2070.5,619.9" fill="none" stroke="#7088D8" stroke-width="1.8" stroke-linejoin="round" stroke-linecap="butt" />
<polyline points="813,622.7 814.2,622.7 815.4,622.7 816.6,622.7 817.8,622.6 819,622.6 820.2,622.6 821.4,622.5 822.6,622.5 823.8,622.4 825,622.4 826.2,622.3 827.4,622.2 828.6,622.1 829.8,622 831,621.8 832.2,621.5 833.4,621.1 834.6,620.6 835.8,619.9 837,618.8 838.2,617.2 839.4,615.1 840.6,611.5 841.8,606.8 843,600.6 844.2,594.9 845.4,589.2 846.6,579.4 847.8,567.6 849,553.8 850.2,539.1 851.4,523.9 852.6,508.5 853.8,485.3 855,460.9 856.2,451.9 857.4,444.4 858.6,439.2 859.8,436.2 861,435.2 862.2,437.9 863.4,443.5 864.6,451 865.8,460.9 867,475.3 868.2,499 869.4,514.6 870.7,530.2 871.9,545.1 873.1,557.4 874.3,568 875.5,576.9 876.7,586.5 877.9,595 879.1,601.6 880.3,606.7 881.5,610.8 882.7,613.5 883.9,615.6 885.1,617.2 886.3,618.3 887.5,619.2 888.7,619.9 889.9,620.4 891.1,620.7 892.3,620.9 893.5,621.1 894.7,621.2 895.9,621.4 897.1,621.5 898.3,621.5 899.5,621.5 900.7,621.5 901.9,621.5 903.1,621.5 904.3,621.5 905.5,621.5 906.7,621.5 907.9,621.5 909.1,621.5 910.3,621.4 911.5,621.4 912.7,621.4 913.9,621.4 915.1,621.4 916.3,621.4 917.5,621.4 918.7,621.4 919.9,621.4 921.1,621.3 922.3,621.3 923.5,621.3 924.7,621.3 925.9,621.3 927.1,621.3 928.3,621.3 929.5,621.3 930.7,621.3 931.9,621.3 933.1,621.3 934.3,621.3 935.5,621.3 936.7,621.3 937.9,621.3 939.1,621.3 940.3,621.3 941.5,621.3 942.7,621.3 943.9,621.3 945.1,621.3 946.3,621.3 947.5,621.3 948.7,621.3 949.9,621.3 951.1,621.3 952.3,621.3 953.5,621.3 954.7,621.3 955.9,621.3 957.1,621.3 958.3,621.3 959.5,621.3 960.7,621.3 961.9,621.3 963.1,621.3 964.3,621.3 965.5,621.3 966.7,621.3 967.9,621.3 969.1,621.3 970.3,621.3 971.5,621.3 972.7,621.3 973.9,621.3 975.1,621.3 976.3,621.3 977.5,621.3 978.7,621.3 979.9,621.3 981.1,621.4 982.3,621.4 983.5,621.4 984.8,621.4 986,621.4 987.2,621.4 988.4,621.4 989.6,621.4 990.8,621.4 992,621.4 993.2,621.4 994.4,621.4 995.6,621.4 996.8,621.4 998,621.4 999.2,621.4 1000.4,621.4 1001.6,621.4 1002.8,621.4 1004,621.4 1005.2,621.4 1006.4,621.5 1007.6,621.5 1008.8,621.5 1010,621.5 1011.2,621.5 1012.4,621.5 1013.6,621.6 1014.8,621.6 1016,621.6 1017.2,621.6 1018.4,621.7 1019.6,621.7 1020.8,621.7 1022,621.8 1023.2,621.8 1024.4,621.8 1025.6,621.9 1026.8,621.9 1028,621.9 1029.2,621.9 1030.4,622 1031.6,622 1032.8,622 1034,622.1 1035.2,622.1 1036.4,622.1 1037.6,622.1 1038.8,622.2 1040,622.2 1041.2,622.2 1042.4,622.2 1043.6,622.3 1044.8,622.3 1046,622.3 1047.2,622.3 1048.4,622.4 1049.6,622.4 1050.8,622.4 1052,622.4 1053.2,622.5 1054.4,622.5 1055.6,622.5 1056.8,622.5 1058,622.6 1059.2,622.6 1060.4,622.6 1061.6,622.6 1062.8,622.7 1064,622.7 1065.2,622.7 1066.4,622.7 1067.6,622.7 1068.8,622.8 1070,622.8 1071.2,622.8 1072.4,622.8 1073.6,622.8 1074.8,622.8 1076,622.9 1077.2,622.9 1078.4,622.9 1079.6,622.9 1080.8,622.9 1082,622.9 1083.2,622.9 1084.4,622.9 1085.6,622.9 1086.8,622.9 1088,622.9 1089.2,622.9 1090.4,623 1091.6,623 1092.8,623 1094,623 1095.2,623 1096.4,623 1097.6,623 1098.9,623 1100.1,623 1101.3,623 1102.5,623 1103.7,623 1104.9,623 1106.1,623 1107.3,623 1108.5,623 1109.7,623 1110.9,623 1112.1,623 1113.3,623 1114.5,623 1115.7,623 1116.9,623 1118.1,623 1119.3,623 1120.5,623 1121.7,623 1122.9,623.1 1124.1,623.1 1125.3,623.1 1126.5,623.1 1127.7,623.1 1128.9,623.1 1130.1,623.1 1131.3,623.1 1132.5,623.1 1133.7,623.1 1134.9,623.1 1136.1,623.1 1137.3,623.1 1138.5,623.1 1139.7,623.1 1140.9,623.1 1142.1,623.1 1143.3,623.2 1144.5,623.2 1145.7,623.2 1146.9,623.2 1148.1,623.2 1149.3,623.2 1150.5,623.2 1151.7,623.2 1152.9,623.3 1154.1,623.3 1155.3,623.3 1156.5,623.3 1157.7,623.3 1158.9,623.3 1160.1,623.3 1161.3,623.3 1162.5,623.3 1163.7,623.4 1164.9,623.4 1166.1,623.4 1167.3,623.4 1168.5,623.4 1169.7,623.4 1170.9,623.4 1172.1,623.4 1173.3,623.4 1174.5,623.4 1175.7,623.4 1176.9,623.4 1178.1,623.4 1179.3,623.4 1180.5,623.3 1181.7,623.3 1182.9,623.3 1184.1,623.3 1185.3,623.2 1186.5,623.2 1187.7,623.1 1188.9,623.1 1190.1,623 1191.3,622.9 1192.5,622.8 1193.7,622.7 1194.9,622.5 1196.1,622.4 1197.3,622.2 1198.5,622 1199.7,621.7 1200.9,621.3 1202.1,620.9 1203.3,620.4 1204.5,620 1205.7,619.5 1206.9,619.1 1208.1,618.7 1209.3,618.3 1210.5,617.9 1211.7,617.5 1212.9,617.1 1214.2,616.8 1215.4,616.5 1216.6,616.2 1217.8,615.9 1219,615.7 1220.2,615.4 1221.4,615.2 1222.6,615.1 1223.8,615 1225,615 1226.2,615.1 1227.4,615.1 1228.6,615.2 1229.8,615.3 1231,615.5 1232.2,615.8 1233.4,616.1 1234.6,616.4 1235.8,616.8 1237,617.2 1238.2,617.5 1239.4,618 1240.6,618.4 1241.8,618.9 1243,619.4 1244.2,619.9 1245.4,620.3 1246.6,620.6 1247.8,620.9 1249,621.3 1250.2,621.6 1251.4,621.8 1252.6,622.1 1253.8,622.3 1255,622.6 1256.2,622.8 1257.4,623 1258.6,623.2 1259.8,623.3 1261,623.5 1262.2,623.6 1263.4,623.7 1264.6,623.8 1265.8,623.9 1267,624 1268.2,624 1269.4,624.1 1270.6,624.1 1271.8,624.1 1273,624.2 1274.2,624.2 1275.4,624.2 1276.6,624.2 1277.8,624.2 1279,624.2 1280.2,624.3 1281.4,624.3 1282.6,624.3 1283.8,624.3 1285,624.3 1286.2,624.3 1287.4,624.3 1288.6,624.3 1289.8,624.4 1291,624.4 1292.2,624.4 1293.4,624.4 1294.6,624.4 1295.8,624.4 1297,624.4 1298.2,624.4 1299.4,624.4 1300.6,624.4 1301.8,624.4 1303,624.4 1304.2,624.5 1305.4,624.5 1306.6,624.5 1307.8,624.5 1309,624.5 1310.2,624.5 1311.4,624.5 1312.6,624.5 1313.8,624.5 1315,624.5 1316.2,624.5 1317.4,624.6 1318.6,624.6 1319.8,624.6 1321,624.6 1322.2,624.6 1323.4,624.6 1324.6,624.6 1325.8,624.6 1327,624.6 1328.3,624.6 1329.5,624.7 1330.7,624.7 1331.9,624.7 1333.1,624.7 1334.3,624.7 1335.5,624.7 1336.7,624.7 1337.9,624.7 1339.1,624.7 1340.3,624.7 1341.5,624.7 1342.7,624.7 1343.9,624.7 1345.1,624.6 1346.3,624.6 1347.5,624.5 1348.7,624.4 1349.9,624.3 1351.1,624.2 1352.3,624.2 1353.5,624.1 1354.7,624 1355.9,623.9 1357.1,623.8 1358.3,623.8 1359.5,623.7 1360.7,623.6 1361.9,623.6 1363.1,623.5 1364.3,623.4 1365.5,623.3 1366.7,623.3 1367.9,623.2 1369.1,623.2 1370.3,623.1 1371.5,623.1 1372.7,623 1373.9,623 1375.1,623 1376.3,623 1377.5,623 1378.7,623.1 1379.9,623.2 1381.1,623.2 1382.3,623.3 1383.5,623.4 1384.7,623.5 1385.9,623.6 1387.1,623.8 1388.3,623.9 1389.5,624 1390.7,624.1 1391.9,624.1 1393.1,624.2 1394.3,624.3 1395.5,624.4 1396.7,624.5 1397.9,624.6 1399.1,624.7 1400.3,624.8 1401.5,624.8 1402.7,624.9 1403.9,625 1405.1,625.1 1406.3,625.2 1407.5,625.2 1408.7,625.3 1409.9,625.3 1411.1,625.4 1412.3,625.4 1413.5,625.5 1414.7,625.5 1415.9,625.5 1417.1,625.6 1418.3,625.6 1419.5,625.6 1420.7,625.7 1421.9,625.7 1423.1,625.7 1424.3,625.7 1425.5,625.7 1426.7,625.8 1427.9,625.8 1429.1,625.8 1430.3,625.8 1431.5,625.8 1432.7,625.8 1433.9,625.8 1435.1,625.8 1436.3,625.8 1437.5,625.8 1438.7,625.8 1439.9,625.8 1441.1,625.8 1442.4,625.8 1443.6,625.8 1444.8,625.8 1446,625.8 1447.2,625.8 1448.4,625.8 1449.6,625.8 1450.8,625.7 1452,625.7 1453.2,625.7 1454.4,625.7 1455.6,625.7 1456.8,625.7 1458,625.6 1459.2,625.5 1460.4,625.4 1461.6,625.2 1462.8,625 1464,624.8 1465.2,624.6 1466.4,624.4 1467.6,624.1 1468.8,623.8 1470,623.5 1471.2,623.2 1472.4,622.9 1473.6,622.6 1474.8,622.2 1476,621.9 1477.2,621.6 1478.4,621.3 1479.6,620.9 1480.8,620.6 1482,620.3 1483.2,619.9 1484.4,619.6 1485.6,619.4 1486.8,619.2 1488,619 1489.2,618.8 1490.4,618.6 1491.6,618.5 1492.8,618.3 1494,618.2 1495.2,618.1 1496.4,618 1497.6,618 1498.8,618 1500,618.1 1501.2,618.2 1502.4,618.4 1503.6,618.6 1504.8,618.8 1506,619 1507.2,619.3 1508.4,619.5 1509.6,619.8 1510.8,620 1512,620.4 1513.2,620.7 1514.4,621 1515.6,621.3 1516.8,621.7 1518,622 1519.2,622.2 1520.4,622.5 1521.6,622.8 1522.8,623.1 1524,623.4 1525.2,623.7 1526.4,624 1527.6,624.2 1528.8,624.5 1530,624.7 1531.2,624.9 1532.4,625.1 1533.6,625.3 1534.8,625.5 1536,625.7 1537.2,625.8 1538.4,626 1539.6,626.1 1540.8,626.2 1542,626.3 1543.2,626.3 1544.4,626.4 1545.6,626.4 1546.8,626.5 1548,626.5 1549.2,626.6 1550.4,626.6 1551.6,626.6 1552.8,626.7 1554,626.7 1555.2,626.7 1556.5,626.7 1557.7,626.8 1558.9,626.8 1560.1,626.8 1561.3,626.8 1562.5,626.8 1563.7,626.9 1564.9,626.9 1566.1,626.9 1567.3,626.9 1568.5,626.9 1569.7,626.9 1570.9,627 1572.1,627 1573.3,627 1574.5,627 1575.7,627 1576.9,627 1578.1,627 1579.3,627 1580.5,627 1581.7,627 1582.9,627 1584.1,627 1585.3,627 1586.5,627 1587.7,627 1588.9,627 1590.1,626.9 1591.3,626.9 1592.5,626.9 1593.7,626.9 1594.9,626.9 1596.1,626.9 1597.3,626.9 1598.5,626.8 1599.7,626.8 1600.9,626.8 1602.1,626.8 1603.3,626.8 1604.5,626.7 1605.7,626.7 1606.9,626.7 1608.1,626.7 1609.3,626.7 1610.5,626.7 1611.7,626.7 1612.9,626.6 1614.1,626.6 1615.3,626.6 1616.5,626.6 1617.7,626.6 1618.9,626.6 1620.1,626.6 1621.3,626.6 1622.5,626.6 1623.7,626.6 1624.9,626.7 1626.1,626.7 1627.3,626.7 1628.5,626.8 1629.7,626.8 1630.9,626.9 1632.1,627 1633.3,627 1634.5,627.1 1635.7,627.1 1636.9,627.2 1638.1,627.3 1639.3,627.3 1640.5,627.4 1641.7,627.4 1642.9,627.5 1644.1,627.5 1645.3,627.6 1646.5,627.7 1647.7,627.7 1648.9,627.8 1650.1,627.8 1651.3,627.9 1652.5,628 1653.7,628 1654.9,628 1656.1,628.1 1657.3,628.1 1658.5,628.1 1659.7,628.1 1660.9,628.1 1662.1,628 1663.3,628 1664.5,627.9 1665.7,627.8 1666.9,627.7 1668.1,627.6 1669.3,627.5 1670.6,627.4 1671.8,627.3 1673,627.2 1674.2,627.1 1675.4,627 1676.6,626.8 1677.8,626.7 1679,626.5 1680.2,626.3 1681.4,626.1 1682.6,625.9 1683.8,625.7 1685,625.4 1686.2,625.2 1687.4,624.9 1688.6,624.7 1689.8,624.4 1691,624.1 1692.2,623.8 1693.4,623.4 1694.6,623.1 1695.8,622.7 1697,622.2 1698.2,621.8 1699.4,621.3 1700.6,620.8 1701.8,620.2 1703,619.6 1704.2,618.9 1705.4,618.1 1706.6,617.4 1707.8,616.6 1709,615.7 1710.2,614.8 1711.4,613.9 1712.6,612.9 1713.8,611.8 1715,610.8 1716.2,609.7 1717.4,608.6 1718.6,607.4 1719.8,606.1 1721,604.9 1722.2,603.6 1723.4,602.4 1724.6,601.3 1725.8,600.2 1727,599.2 1728.2,598.1 1729.4,597.2 1730.6,596.3 1731.8,595.5 1733,594.8 1734.2,594 1735.4,593.4 1736.6,593.1 1737.8,592.9 1739,592.7 1740.2,592.6 1741.4,592.6 1742.6,592.8 1743.8,593.2 1745,593.7 1746.2,594.3 1747.4,595.2 1748.6,596.2 1749.8,597.3 1751,598.4 1752.2,599.7 1753.4,601.1 1754.6,602.6 1755.8,604.2 1757,605.7 1758.2,607.2 1759.4,608.8 1760.6,610.4 1761.8,612 1763,613.6 1764.2,615 1765.4,616.3 1766.6,617.6 1767.8,618.9 1769,620 1770.2,621.1 1771.4,622.1 1772.6,623 1773.8,623.9 1775,624.8 1776.2,625.5 1777.4,626.1 1778.6,626.6 1779.8,627.1 1781,627.6 1782.2,628 1783.4,628.3 1784.6,628.6 1785.9,628.9 1787.1,629.1 1788.3,629.3 1789.5,629.5 1790.7,629.6 1791.9,629.8 1793.1,629.9 1794.3,630 1795.5,630.1 1796.7,630.1 1797.9,630.1 1799.1,630.2 1800.3,630.2 1801.5,630.2 1802.7,630.2 1803.9,630.2 1805.1,630.2 1806.3,630.3 1807.5,630.3 1808.7,630.3 1809.9,630.3 1811.1,630.3 1812.3,630.3 1813.5,630.4 1814.7,630.4 1815.9,630.4 1817.1,630.4 1818.3,630.4 1819.5,630.5 1820.7,630.5 1821.9,630.5 1823.1,630.5 1824.3,630.5 1825.5,630.5 1826.7,630.6 1827.9,630.6 1829.1,630.6 1830.3,630.6 1831.5,630.6 1832.7,630.6 1833.9,630.7 1835.1,630.7 1836.3,630.7 1837.5,630.7 1838.7,630.7 1839.9,630.7 1841.1,630.7 1842.3,630.8 1843.5,630.8 1844.7,630.8 1845.9,630.8 1847.1,630.8 1848.3,630.8 1849.5,630.8 1850.7,630.8 1851.9,630.8 1853.1,630.8 1854.3,630.7 1855.5,630.7 1856.7,630.7 1857.9,630.6 1859.1,630.6 1860.3,630.5 1861.5,630.5 1862.7,630.4 1863.9,630.4 1865.1,630.3 1866.3,630.2 1867.5,630.1 1868.7,630 1869.9,629.9 1871.1,629.8 1872.3,629.7 1873.5,629.5 1874.7,629.4 1875.9,629.2 1877.1,629.1 1878.3,628.9 1879.5,628.7 1880.7,628.4 1881.9,628.1 1883.1,627.8 1884.3,627.5 1885.5,627.2 1886.7,626.9 1887.9,626.5 1889.1,626.2 1890.3,625.8 1891.5,625.4 1892.7,625 1893.9,624.6 1895.1,624.2 1896.3,623.7 1897.5,623.2 1898.7,622.8 1900,622.3 1901.2,621.8 1902.4,621.3 1903.6,620.8 1904.8,620.4 1906,619.9 1907.2,619.4 1908.4,618.8 1909.6,618.3 1910.8,617.8 1912,617.3 1913.2,616.8 1914.4,616.3 1915.6,615.9 1916.8,615.5 1918,615.1 1919.2,614.8 1920.4,614.4 1921.6,614.1 1922.8,613.8 1924,613.6 1925.2,613.3 1926.4,613.2 1927.6,613 1928.8,612.8 1930,612.7 1931.2,612.6 1932.4,612.6 1933.6,612.7 1934.8,612.8 1936,613 1937.2,613.2 1938.4,613.4 1939.6,613.6 1940.8,613.9 1942,614.3 1943.2,614.6 1944.4,615.1 1945.6,615.5 1946.8,616 1948,616.4 1949.2,616.9 1950.4,617.4 1951.6,617.9 1952.8,618.4 1954,619 1955.2,619.5 1956.4,620.1 1957.6,620.6 1958.8,621.2 1960,621.7 1961.2,622.3 1962.4,622.8 1963.6,623.4 1964.8,624 1966,624.5 1967.2,625.1 1968.4,625.6 1969.6,626.1 1970.8,626.6 1972,627.1 1973.2,627.5 1974.4,627.9 1975.6,628.3 1976.8,628.7 1978,629.1 1979.2,629.4 1980.4,629.8 1981.6,630.1 1982.8,630.4 1984,630.6 1985.2,630.9 1986.4,631.1 1987.6,631.3 1988.8,631.6 1990,631.8 1991.2,632 1992.4,632.1 1993.6,632.3 1994.8,632.5 1996,632.6 1997.2,632.7 1998.4,632.8 1999.6,632.9 2000.8,633 2002,633.1 2003.2,633.1 2004.4,633.2 2005.6,633.3 2006.8,633.4 2008,633.4 2009.2,633.5 2010.4,633.5 2011.6,633.6 2012.8,633.6 2014.1,633.7 2015.3,633.7 2016.5,633.7 2017.7,633.8 2018.9,633.8 2020.1,633.8 2021.3,633.9 2022.5,633.9 2023.7,633.9 2024.9,633.9 2026.1,634 2027.3,634 2028.5,634 2029.7,634 2030.9,634.1 2032.1,634.1 2033.3,634.1 2034.5,634.1 2035.7,634.1 2036.9,634.1 2038.1,634.2 2039.3,634.2 2040.5,634.2 2041.7,634.2 2042.9,634.2 2044.1,634.2 2045.3,634.2 2046.5,634.2 2047.7,634.2 2048.9,634.2 2050.1,634.2 2051.3,634.2 2052.5,634.2 2053.7,634.2 2054.9,634.1 2056.1,634.1 2057.3,634.1 2058.5,634.1 2059.7,634.1 2060.9,634 2062.1,634 2063.3,634 2064.5,634 2065.7,633.9 2066.9,633.9 2068.1,633.9 2069.3,633.8 2070.5,633.8" fill="none" stroke="#E6C068" stroke-width="1.9" stroke-linejoin="round" stroke-linecap="butt" />
<polyline points="804.2,675.2 804.9,675.2 805.6,675.1 806.3,675.1 807,675 807.7,675 808.4,674.9 809.1,674.9 809.8,674.8 810.5,674.8 811.2,674.7 811.9,674.6 812.6,674.6 813.3,674.5 814,674.5 814.7,674.4 815.4,674.3 816.1,674.2 816.8,674.1 817.5,674 818.2,674 818.9,673.9 819.6,673.9 820.3,674 821,674.1 821.7,674.3 822.4,674.6 823.1,674.8 823.8,675.1 824.5,675.5 825.2,675.9 825.9,676.3 826.6,676.5 827.3,675.8 828,674.4 828.7,673.5 829.4,672.9 830.1,672.6 830.8,673.2 831.5,674.3 832.2,675.1 832.9,675.9 833.6,676.4 834.3,676.1 835,674.4 835.7,672.5 836.4,671.6 837.1,671.1 837.8,670.5 838.5,669.3 839.2,668.2 839.9,668.1 840.6,669.7 841.3,672.2 842,676.7 842.7,680.6 843.4,683.6 844.1,686.3 844.8,688.8 845.5,691.5 846.2,693.9 846.9,695.4 847.6,696.4 848.3,697.1 849,697.4 849.7,696.8 850.4,695.2 851.1,691.8 851.8,681.9 852.5,667.1 853.2,649 853.9,634.6 854.6,626.2 855.3,621.6 856,622.1 856.7,625.4 857.4,637.1 858.1,653.6 858.8,671.5 859.5,687.6 860.2,699.8 860.9,705.2 861.6,708 862.3,706.7 863,703.2 863.7,698.1 864.4,690.2 865.1,683.7 865.8,678.7 866.5,675.1 867.2,673.1 867.9,671.6 868.6,670.6 869.3,670.2 870,670.1 870.7,670 871.4,670.6 872.1,672.5 872.8,674.3 873.5,676.3 874.2,678.1 874.9,679.1 875.6,679 876.3,678.5 877,678 877.7,677.5 878.4,677.1 879.1,676.8 879.8,676.4 880.5,676 881.2,675.8 881.9,675.5 882.6,675.4 883.3,675.3 884,675.2 884.7,675.1 885.4,675 886.1,674.9 886.8,674.9 887.5,674.8 888.2,674.8 888.9,674.8 889.6,674.7 890.3,674.7 891,674.7 891.7,674.7 892.4,674.7 893.1,674.7 893.8,674.7 894.5,674.6 895.2,674.6 895.9,674.6 896.6,674.6 897.3,674.6 898,674.6 898.7,674.6 899.4,674.6 900.1,674.5 900.8,674.5 901.5,674.5 902.2,674.5 902.9,674.5 903.6,674.4 904.3,674.4 905,674.4 905.7,674.3 906.4,674.3 907.1,674.2 907.8,674.2 908.5,674.2 909.2,674.1 909.9,674.1 910.6,674 911.3,674 912,674 912.7,673.9 913.4,673.9 914.1,673.9 914.8,673.9 915.5,673.9 916.2,674 916.9,674.1 917.6,674.3 918.3,674.5 919,674.6 919.7,674.8 920.4,674.9 921.1,674.9 921.8,675 922.5,675.1 923.2,675.2 923.9,675.3 924.6,675.3 925.3,675.4 926,675.5 926.7,675.5 927.4,675.6 928.1,675.6 928.8,675.6 929.5,675.6 930.2,675.6 930.9,675.5 931.6,675.5 932.3,675.4 933,675.3 933.7,675.2 934.4,675.1 935.1,675 935.8,674.9 936.5,674.8 937.2,674.7 937.9,674.6 938.6,674.5 939.3,674.4 940,674.3 940.7,674.2 941.4,674.2 942.1,674.1 942.8,674.1 943.5,674 944.2,673.9 944.9,673.9 945.6,673.8 946.3,673.8 947,673.7 947.7,673.7 948.4,673.6 949.1,673.6 949.8,673.6 950.5,673.5 951.2,673.5 951.9,673.5 952.6,673.5 953.3,673.5 954,673.5 954.7,673.5 955.4,673.5 956.1,673.6 956.8,673.6 957.5,673.6 958.2,673.6 958.9,673.7 959.6,673.7 960.3,673.7 961,673.8 961.7,673.8 962.4,673.9 963.1,674 963.8,674.1 964.5,674.2 965.2,674.3 965.9,674.4 966.6,674.5 967.3,674.6 968,674.7 968.7,674.8 969.4,674.9 970.1,675 970.8,675 971.5,675.1 972.2,675.1 972.9,675.1 973.6,675.2 974.3,675.2 975,675.2 975.7,675.3 976.4,675.3 977.1,675.3 977.8,675.3 978.5,675.4 979.2,675.4 979.9,675.4 980.6,675.4 981.3,675.4 982,675.4 982.7,675.4 983.4,675.3 984.1,675.3 984.8,675.2 985.5,675.1 986.2,675.1 986.9,675 987.6,674.9 988.3,674.9 989,674.9 989.7,674.8 990.4,674.8 991.1,674.8 991.8,674.8 992.5,674.8 993.2,674.8 993.9,674.8 994.6,674.8 995.3,674.8 996,674.9 996.7,674.9 997.4,674.9 998.1,674.9 998.8,674.9 999.5,674.9 1000.2,674.9 1000.9,674.9 1001.6,674.9 1002.3,674.8 1003,674.8 1003.7,674.8 1004.4,674.7 1005.1,674.7 1005.8,674.7 1006.5,674.6 1007.2,674.6 1007.9,674.6 1008.6,674.6 1009.3,674.6 1010,674.6 1010.7,674.6 1011.4,674.6 1012.1,674.6 1012.8,674.7 1013.5,674.7 1014.2,674.7 1014.9,674.7 1015.6,674.7 1016.3,674.8 1017,674.8 1017.7,674.8 1018.4,674.8 1019.1,674.9 1019.8,674.9 1020.5,674.9 1021.2,674.9 1021.9,675 1022.6,675 1023.3,675 1024,675 1024.7,675 1025.4,675.1 1026.1,675.1 1026.8,675.1 1027.5,675.1 1028.2,675.1 1028.9,675.1 1029.6,675.2 1030.3,675.2 1031,675.2 1031.7,675.2 1032.4,675.2 1033.1,675.2 1033.8,675.3 1034.5,675.3 1035.2,675.3 1035.9,675.3 1036.6,675.3 1037.3,675.3 1038,675.4 1038.7,675.4 1039.4,675.4 1040.1,675.4 1040.8,675.4 1041.5,675.4 1042.2,675.5 1042.9,675.5 1043.6,675.5 1044.3,675.5 1045,675.5 1045.7,675.5 1046.4,675.5 1047.1,675.5 1047.8,675.6 1048.5,675.6 1049.2,675.6 1049.9,675.6 1050.6,675.6 1051.3,675.6 1052,675.6 1052.7,675.6 1053.4,675.6 1054.1,675.6 1054.8,675.6 1055.5,675.6 1056.2,675.6 1056.9,675.6 1057.6,675.6 1058.3,675.6 1059,675.6 1059.7,675.6 1060.4,675.6 1061.1,675.6 1061.8,675.6 1062.5,675.6 1063.2,675.6 1063.9,675.6 1064.6,675.6 1065.3,675.6 1066,675.6 1066.7,675.6 1067.4,675.6 1068.1,675.5 1068.8,675.5 1069.5,675.5 1070.2,675.5 1070.9,675.5 1071.6,675.5 1072.3,675.5 1073,675.5 1073.7,675.5 1074.4,675.5 1075.1,675.5 1075.8,675.5 1076.5,675.5 1077.2,675.4 1077.9,675.4 1078.6,675.4 1079.3,675.4 1080,675.3 1080.7,675.3 1081.4,675.3 1082.1,675.2 1082.8,675.2 1083.5,675.2 1084.2,675.1 1084.9,675.1 1085.6,675.1 1086.3,675 1087,675 1087.7,675 1088.4,674.9 1089.1,674.9 1089.8,674.9 1090.5,674.9 1091.2,674.8 1091.9,674.8 1092.6,674.8 1093.3,674.8 1094,674.8 1094.7,674.8 1095.4,674.8 1096.1,674.8 1096.8,674.8 1097.5,674.8 1098.2,674.8 1098.9,674.8 1099.6,674.8 1100.3,674.8 1101,674.8 1101.7,674.8 1102.4,674.8 1103.1,674.8 1103.8,674.8 1104.5,674.8 1105.2,674.8 1105.9,674.8 1106.6,674.8 1107.3,674.8 1108,674.8 1108.7,674.8 1109.4,674.8 1110.1,674.8 1110.8,674.8 1111.5,674.8 1112.2,674.8 1112.9,674.8 1113.6,674.9 1114.3,674.9 1115,674.9 1115.7,674.9 1116.4,675 1117.1,675 1117.8,675.1 1118.5,675.1 1119.2,675.1 1119.9,675.2 1120.6,675.2 1121.3,675.3 1122,675.3 1122.7,675.3 1123.4,675.4 1124.1,675.4 1124.8,675.4 1125.5,675.5 1126.2,675.5 1126.9,675.5 1127.6,675.5 1128.3,675.5 1129,675.5 1129.7,675.5 1130.4,675.5 1131.1,675.5 1131.8,675.5 1132.5,675.5 1133.2,675.5 1133.9,675.5 1134.6,675.5 1135.3,675.5 1136,675.5 1136.7,675.5 1137.4,675.5 1138.1,675.5 1138.8,675.5 1139.5,675.5 1140.2,675.5 1140.9,675.5 1141.6,675.5 1142.3,675.5 1143,675.5 1143.7,675.5 1144.4,675.5 1145.1,675.5 1145.8,675.5 1146.5,675.5 1147.2,675.5 1147.9,675.5 1148.6,675.5 1149.3,675.5 1150,675.5 1150.7,675.5 1151.4,675.5 1152.1,675.5 1152.8,675.5 1153.5,675.5 1154.2,675.5 1154.9,675.5 1155.6,675.5 1156.3,675.5 1157,675.5 1157.7,675.5 1158.4,675.5 1159.1,675.5 1159.8,675.5 1160.5,675.5 1161.2,675.5 1161.9,675.5 1162.6,675.5 1163.3,675.5 1164,675.5 1164.7,675.5 1165.4,675.5 1166.1,675.5 1166.8,675.5 1167.5,675.5 1168.2,675.5 1168.9,675.5 1169.6,675.5 1170.3,675.5 1171,675.5 1171.7,675.6 1172.4,675.6 1173.1,675.6 1173.8,675.7 1174.5,675.7 1175.2,675.8 1175.9,675.8 1176.6,675.9 1177.3,675.9 1178,675.9 1178.7,676 1179.4,676 1180.1,676 1180.8,676.1 1181.5,676.1 1182.2,676.1 1182.9,676.1 1183.6,676.2 1184.3,676.2 1185,676.2 1185.7,676.2 1186.4,676.3 1187.1,676.3 1187.8,676.3 1188.5,676.3 1189.2,676.3 1189.9,676.3 1190.6,676.2 1191.3,676.2 1192,676.1 1192.7,676 1193.4,676 1194.1,675.9 1194.8,675.8 1195.5,675.7 1196.2,675.6 1196.9,675.6 1197.6,675.5 1198.3,675.5 1199,675.5 1199.7,675.5 1200.4,675.5 1201.1,675.4 1201.8,675.4 1202.5,675.4 1203.2,675.4 1203.9,675.4 1204.6,675.4 1205.3,675.4 1206,675.4 1206.7,675.4 1207.4,675.4 1208.1,675.3 1208.8,675.3 1209.5,675.3 1210.2,675.2 1210.9,675.1 1211.6,675 1212.3,674.9 1213,674.7 1213.7,674.6 1214.4,674.4 1215.1,674.2 1215.8,674 1216.5,673.8 1217.2,673.7 1217.9,673.8 1218.6,674 1219.3,674.3 1220,674.6 1220.7,675 1221.4,675.5 1222.1,676 1222.8,676.2 1223.5,676.3 1224.2,676.2 1224.9,676.1 1225.6,675.9 1226.3,675.8 1227,675.6 1227.7,675.5 1228.4,675.4 1229.1,675.3 1229.8,675.3 1230.5,675.5 1231.2,675.8 1231.9,676.1 1232.6,676.4 1233.3,676.7 1234,677 1234.7,677.3 1235.4,677.5 1236.1,677.7 1236.8,677.8 1237.5,677.7 1238.2,677.5 1238.9,677.2 1239.6,676.9 1240.3,676.6 1241,676.4 1241.7,676.3 1242.4,676.2 1243.1,676.1 1243.8,676.1 1244.5,676 1245.2,676 1245.9,675.9 1246.6,675.9 1247.3,675.8 1248,675.8 1248.7,675.7 1249.4,675.7 1250.1,675.7 1250.8,675.6 1251.5,675.6 1252.2,675.5 1252.9,675.5 1253.6,675.4 1254.3,675.4 1255,675.3 1255.7,675.3 1256.4,675.2 1257.1,675.2 1257.8,675.2 1258.5,675.1 1259.2,675.1 1259.9,675.1 1260.6,675.1 1261.3,675.1 1262,675.1 1262.7,675.1 1263.4,675.1 1264.1,675.1 1264.8,675.1 1265.5,675.1 1266.2,675.1 1266.9,675.1 1267.6,675.1 1268.3,675.1 1269,675.1 1269.7,675.1 1270.4,675.1 1271.1,675.1 1271.8,675.1 1272.5,675.1 1273.2,675.1 1273.9,675.1 1274.6,675.1 1275.3,675.1 1276,675.1 1276.7,675.1 1277.4,675.1 1278.1,675.1 1278.8,675.1 1279.5,675.2 1280.2,675.2 1280.9,675.2 1281.6,675.2 1282.3,675.2 1283,675.2 1283.7,675.2 1284.4,675.2 1285.1,675.2 1285.8,675.2 1286.5,675.2 1287.2,675.3 1287.9,675.3 1288.6,675.3 1289.3,675.3 1290,675.3 1290.7,675.3 1291.4,675.3 1292.1,675.3 1292.8,675.3 1293.5,675.3 1294.2,675.4 1294.9,675.4 1295.6,675.4 1296.3,675.4 1297,675.4 1297.7,675.4 1298.4,675.4 1299.1,675.4 1299.8,675.4 1300.5,675.4 1301.2,675.4 1301.9,675.5 1302.6,675.5 1303.3,675.5 1304,675.5 1304.7,675.5 1305.4,675.5 1306.1,675.5 1306.8,675.5 1307.5,675.5 1308.2,675.5 1308.9,675.5 1309.6,675.5 1310.3,675.5 1311,675.5 1311.7,675.5 1312.4,675.5 1313.1,675.5 1313.8,675.5 1314.5,675.5 1315.2,675.5 1315.9,675.5 1316.6,675.5 1317.3,675.5 1318,675.5 1318.7,675.5 1319.4,675.5 1320.1,675.5 1320.8,675.5 1321.5,675.4 1322.2,675.4 1322.9,675.4 1323.6,675.4 1324.3,675.4 1325,675.4 1325.7,675.4 1326.4,675.4 1327.1,675.4 1327.8,675.4 1328.5,675.4 1329.2,675.4 1329.9,675.4 1330.6,675.4 1331.3,675.4 1332,675.4 1332.7,675.3 1333.4,675.3 1334.1,675.3 1334.8,675.3 1335.5,675.3 1336.2,675.3 1336.9,675.3 1337.6,675.3 1338.3,675.3 1339,675.3 1339.7,675.3 1340.4,675.3 1341.1,675.3 1341.8,675.3 1342.5,675.3 1343.2,675.3 1343.9,675.3 1344.6,675.3 1345.3,675.4 1346,675.4 1346.7,675.5 1347.4,675.5 1348.1,675.6 1348.8,675.7 1349.5,675.7 1350.2,675.8 1350.9,675.9 1351.6,676 1352.3,676 1353,676.1 1353.7,676.2 1354.4,676.3 1355.1,676.3 1355.8,676.4 1356.5,676.4 1357.2,676.5 1357.9,676.5 1358.6,676.6 1359.3,676.6 1360,676.7 1360.7,676.7 1361.4,676.7 1362.1,676.8 1362.8,676.8 1363.5,676.9 1364.2,676.9 1364.9,677 1365.6,677 1366.3,677 1367,677.1 1367.7,677.1 1368.4,677.1 1369.1,677.1 1369.8,677.1 1370.5,677.1 1371.2,677.1 1371.9,677.1 1372.6,677.1 1373.3,677 1374,677 1374.7,677 1375.4,676.9 1376.1,676.9 1376.8,676.9 1377.5,676.8 1378.2,676.8 1378.9,676.7 1379.6,676.7 1380.3,676.6 1381,676.6 1381.7,676.5 1382.4,676.5 1383.1,676.4 1383.8,676.4 1384.5,676.3 1385.2,676.3 1385.9,676.2 1386.6,676.1 1387.3,676.1 1388,676 1388.7,676 1389.4,675.9 1390.1,675.8 1390.8,675.8 1391.5,675.7 1392.2,675.6 1392.9,675.5 1393.6,675.5 1394.3,675.4 1395,675.3 1395.7,675.3 1396.4,675.2 1397.1,675.2 1397.8,675.1 1398.5,675.1 1399.2,675 1399.9,675 1400.6,674.9 1401.3,674.9 1402,674.9 1402.7,674.8 1403.4,674.8 1404.1,674.7 1404.8,674.7 1405.5,674.7 1406.2,674.6 1406.9,674.6 1407.6,674.6 1408.3,674.5 1409,674.5 1409.7,674.5 1410.4,674.4 1411.1,674.4 1411.8,674.4 1412.5,674.4 1413.2,674.3 1413.9,674.3 1414.6,674.3 1415.3,674.3 1416,674.2 1416.7,674.2 1417.4,674.2 1418.1,674.2 1418.8,674.1 1419.5,674.1 1420.2,674.1 1420.9,674.1 1421.6,674.1 1422.3,674.1 1423,674.1 1423.7,674.1 1424.4,674.1 1425.1,674.1 1425.8,674.1 1426.5,674.1 1427.2,674.1 1427.9,674.2 1428.6,674.2 1429.3,674.2 1430,674.2 1430.7,674.2 1431.4,674.2 1432.1,674.3 1432.8,674.3 1433.5,674.3 1434.2,674.3 1434.9,674.4 1435.6,674.4 1436.3,674.4 1437,674.5 1437.7,674.5 1438.4,674.6 1439.1,674.6 1439.8,674.7 1440.5,674.8 1441.2,674.8 1441.9,674.9 1442.6,675 1443.3,675.1 1444,675.2 1444.7,675.2 1445.4,675.3 1446.1,675.4 1446.8,675.4 1447.5,675.5 1448.2,675.6 1448.9,675.6 1449.6,675.7 1450.3,675.8 1451,675.8 1451.7,675.9 1452.4,676 1453.1,676.1 1453.8,676.2 1454.5,676.3 1455.2,676.4 1455.9,676.5 1456.6,676.7 1457.3,676.9 1458,677.1 1458.7,677.3 1459.4,677.5 1460.1,677.8 1460.8,678 1461.5,678.2 1462.2,678.5 1462.9,678.7 1463.6,678.9 1464.3,679.2 1465,679.4 1465.7,679.7 1466.4,680 1467.1,680.2 1467.8,680.5 1468.5,680.7 1469.2,680.9 1469.9,681.1 1470.6,681.3 1471.3,681.5 1472,681.6 1472.7,681.8 1473.4,681.9 1474.1,682 1474.8,682.2 1475.5,682.3 1476.2,682.4 1476.9,682.4 1477.6,682.5 1478.3,682.5 1479,682.5 1479.7,682.4 1480.4,682.3 1481.1,682.2 1481.8,682 1482.5,681.8 1483.2,681.6 1483.9,681.3 1484.6,681.1 1485.3,680.9 1486,680.6 1486.7,680.4 1487.4,680.1 1488.1,679.7 1488.8,679.4 1489.5,679 1490.2,678.6 1490.9,678.2 1491.6,677.8 1492.3,677.5 1493,677.1 1493.7,676.8 1494.4,676.5 1495.1,676.2 1495.8,675.8 1496.5,675.5 1497.2,675.2 1497.9,674.8 1498.6,674.4 1499.3,674 1500,673.5 1500.7,672.9 1501.4,672.2 1502.1,671.5 1502.8,670.9 1503.5,670.5 1504.2,670 1504.9,669.6 1505.6,669.2 1506.3,668.9 1507,668.7 1507.7,668.6 1508.4,668.4 1509.1,668.4 1509.8,668.3 1510.5,668.2 1511.2,668.2 1511.9,668.2 1512.6,668.2 1513.3,668.2 1514,668.2 1514.7,668.2 1515.4,668.3 1516.1,668.8 1516.8,669.4 1517.5,670.1 1518.2,670.6 1518.9,671.1 1519.6,671.5 1520.3,672 1521,672.4 1521.7,672.8 1522.4,673.2 1523.1,673.5 1523.8,673.8 1524.5,674.1 1525.2,674.3 1525.9,674.6 1526.6,674.9 1527.3,675.1 1528,675.3 1528.7,675.4 1529.4,675.5 1530.1,675.6 1530.8,675.6 1531.5,675.6 1532.2,675.6 1532.9,675.5 1533.6,675.5 1534.3,675.4 1535,675.4 1535.7,675.4 1536.4,675.3 1537.1,675.3 1537.8,675.3 1538.5,675.3 1539.2,675.3 1539.9,675.3 1540.6,675.3 1541.3,675.2 1542,675.2 1542.7,675.2 1543.4,675.2 1544.1,675.2 1544.8,675.2 1545.5,675.2 1546.2,675.2 1546.9,675.1 1547.6,675.1 1548.3,675.1 1549,675 1549.7,675 1550.4,675 1551.1,674.9 1551.8,674.9 1552.5,674.9 1553.2,674.9 1553.9,674.9 1554.6,674.9 1555.3,674.9 1556,674.9 1556.7,674.9 1557.4,674.9 1558.1,674.9 1558.8,674.9 1559.5,675 1560.2,675 1560.9,675 1561.6,675 1562.3,675 1563,675 1563.7,675 1564.4,675.1 1565.1,675.1 1565.8,675.1 1566.5,675.1 1567.2,675.1 1567.9,675.2 1568.6,675.2 1569.3,675.2 1570,675.2 1570.7,675.2 1571.4,675.3 1572.1,675.3 1572.8,675.3 1573.5,675.3 1574.2,675.4 1574.9,675.4 1575.6,675.4 1576.3,675.4 1577,675.5 1577.7,675.5 1578.4,675.5 1579.1,675.5 1579.8,675.5 1580.5,675.6 1581.2,675.6 1581.9,675.6 1582.6,675.6 1583.3,675.7 1584,675.7 1584.7,675.7 1585.4,675.7 1586.1,675.8 1586.8,675.8 1587.5,675.8 1588.2,675.8 1588.9,675.9 1589.6,675.9 1590.3,675.9 1591,676 1591.7,676 1592.4,676 1593.1,676.1 1593.8,676.1 1594.5,676.1 1595.2,676.2 1595.9,676.2 1596.6,676.2 1597.3,676.2 1598,676.3 1598.7,676.3 1599.4,676.3 1600.1,676.3 1600.8,676.3 1601.5,676.4 1602.2,676.4 1602.9,676.4 1603.6,676.4 1604.3,676.4 1605,676.4 1605.7,676.4 1606.4,676.4 1607.1,676.4 1607.8,676.4 1608.5,676.4 1609.2,676.4 1609.9,676.3 1610.6,676.3 1611.3,676.3 1612,676.3 1612.7,676.3 1613.4,676.3 1614.1,676.2 1614.8,676.2 1615.5,676.2 1616.2,676.2 1616.9,676.1 1617.6,676.1 1618.3,676.1 1619,676.1 1619.7,676 1620.4,676 1621.1,676 1621.8,676 1622.5,675.9 1623.2,675.9 1623.9,675.8 1624.6,675.8 1625.3,675.7 1626,675.6 1626.7,675.6 1627.4,675.5 1628.1,675.4 1628.8,675.3 1629.5,675.3 1630.2,675.2 1630.9,675.1 1631.6,675.1 1632.3,675 1633,675 1633.7,674.9 1634.4,674.9 1635.1,674.9 1635.8,674.8 1636.5,674.8 1637.2,674.8 1637.9,674.7 1638.6,674.7 1639.3,674.7 1640,674.7 1640.7,674.6 1641.4,674.6 1642.1,674.6 1642.8,674.5 1643.5,674.5 1644.2,674.5 1644.9,674.5 1645.6,674.5 1646.3,674.4 1647,674.4 1647.7,674.4 1648.4,674.4 1649.1,674.4 1649.8,674.4 1650.5,674.4 1651.2,674.4 1651.9,674.4 1652.6,674.4 1653.3,674.4 1654,674.5 1654.7,674.5 1655.4,674.5 1656.1,674.6 1656.8,674.6 1657.5,674.6 1658.2,674.7 1658.9,674.7 1659.6,674.8 1660.3,674.8 1661,674.9 1661.7,674.9 1662.4,675 1663.1,675.1 1663.8,675.2 1664.5,675.4 1665.2,675.5 1665.9,675.7 1666.6,675.8 1667.3,676 1668,676.2 1668.7,676.4 1669.4,676.5 1670.1,676.7 1670.8,676.8 1671.5,677 1672.2,677.1 1672.9,677.2 1673.6,677.3 1674.3,677.5 1675,677.6 1675.7,677.7 1676.4,677.8 1677.1,677.9 1677.8,678 1678.5,678 1679.2,678 1679.9,678 1680.6,677.9 1681.3,677.8 1682,677.7 1682.7,677.5 1683.4,677.3 1684.1,677.2 1684.8,676.9 1685.5,676.5 1686.2,676.1 1686.9,675.6 1687.6,675.1 1688.3,674.6 1689,674.3 1689.7,674 1690.4,673.6 1691.1,673.4 1691.8,673.1 1692.5,673 1693.2,672.9 1693.9,672.8 1694.6,672.7 1695.3,672.6 1696,672.6 1696.7,672.6 1697.4,672.8 1698.1,673.3 1698.8,673.8 1699.5,674.4 1700.2,674.8 1700.9,675.1 1701.6,675 1702.3,674.2 1703,673.2 1703.7,672.5 1704.4,672.2 1705.1,672 1705.8,671.9 1706.5,671.7 1707.2,671.7 1707.9,671.7 1708.6,671.7 1709.3,671.8 1710,671.9 1710.7,672 1711.4,672.6 1712.1,673.5 1712.8,674.6 1713.5,675.6 1714.2,676.8 1714.9,677.8 1715.6,677.9 1716.3,677.5 1717,676.7 1717.7,675.9 1718.4,675.4 1719.1,674.8 1719.8,674.4 1720.5,674.6 1721.2,675.6 1721.9,677 1722.6,678.3 1723.3,679.8 1724,680.7 1724.7,680.4 1725.4,679.8 1726.1,679 1726.8,678.7 1727.5,679 1728.2,679.8 1728.9,680.9 1729.6,682.5 1730.3,684.6 1731,686.8 1731.7,688.6 1732.4,690.3 1733.1,691.8 1733.8,693 1734.5,693.4 1735.2,693.7 1735.9,693.9 1736.6,693.8 1737.3,693.4 1738,692.6 1738.7,691.7 1739.4,690.9 1740.1,690 1740.8,689 1741.5,687.9 1742.2,686.9 1742.9,686 1743.6,685 1744.3,684.1 1745,683.2 1745.7,682.3 1746.4,681.4 1747.1,680.5 1747.8,679.6 1748.5,678.8 1749.2,677.9 1749.9,677.2 1750.6,676.5 1751.3,675.9 1752,675.3 1752.7,674.7 1753.4,674.3 1754.1,673.9 1754.8,673.6 1755.5,673.3 1756.2,673.1 1756.9,673 1757.6,673.2 1758.3,673.9 1759,673.8 1759.7,673.1 1760.4,672.3 1761.1,671.7 1761.8,671.6 1762.5,671.5 1763.2,671.4 1763.9,671.3 1764.6,671.3 1765.3,671.3 1766,671.6 1766.7,672.1 1767.4,672.6 1768.1,673.1 1768.8,673.7 1769.5,674.3 1770.2,674.8 1770.9,675.3 1771.6,675.6 1772.3,675.6 1773,675.5 1773.7,675.2 1774.4,674.9 1775.1,674.5 1775.8,674.1 1776.5,673.7 1777.2,673.4 1777.9,673.1 1778.6,672.8 1779.3,672.5 1780,672.2 1780.7,672 1781.4,671.7 1782.1,671.5 1782.8,671.3 1783.5,671.1 1784.2,671 1784.9,670.8 1785.6,670.7 1786.3,670.5 1787,670.4 1787.7,670.3 1788.4,670.2 1789.1,670.2 1789.8,670.2 1790.5,670.2 1791.2,670.2 1791.9,670.2 1792.6,670.2 1793.3,670.2 1794,670.3 1794.7,670.3 1795.4,670.3 1796.1,670.3 1796.8,670.3 1797.5,670.4 1798.2,670.4 1798.9,670.4 1799.6,670.5 1800.3,670.5 1801,670.6 1801.7,670.6 1802.4,670.7 1803.1,670.8 1803.8,670.8 1804.5,670.9 1805.2,671 1805.9,671 1806.6,671.1 1807.3,671.1 1808,671.2 1808.7,671.3 1809.4,671.3 1810.1,671.3 1810.8,671.4 1811.5,671.4 1812.2,671.4 1812.9,671.5 1813.6,671.5 1814.3,671.5 1815,671.6 1815.7,671.6 1816.4,671.6 1817.1,671.7 1817.8,671.7 1818.5,671.7 1819.2,671.7 1819.9,671.8 1820.6,671.8 1821.3,671.8 1822,671.8 1822.7,671.9 1823.4,671.9 1824.1,671.9 1824.8,672 1825.5,672 1826.2,672 1826.9,672 1827.6,672.1 1828.3,672.1 1829,672.1 1829.7,672.2 1830.4,672.2 1831.1,672.2 1831.8,672.3 1832.5,672.3 1833.2,672.4 1833.9,672.4 1834.6,672.5 1835.3,672.5 1836,672.5 1836.7,672.6 1837.4,672.6 1838.1,672.7 1838.8,672.8 1839.5,672.8 1840.2,672.9 1840.9,672.9 1841.6,673 1842.3,673.1 1843,673.1 1843.7,673.2 1844.4,673.3 1845.1,673.4 1845.8,673.4 1846.5,673.5 1847.2,673.6 1847.9,673.7 1848.6,673.8 1849.3,673.9 1850,674 1850.7,674.1 1851.4,674.2 1852.1,674.4 1852.8,674.5 1853.5,674.7 1854.2,674.9 1854.9,675 1855.6,675.2 1856.3,675.4 1857,675.6 1857.7,675.8 1858.4,676 1859.1,676.2 1859.8,676.4 1860.5,676.6 1861.2,676.8 1861.9,677.1 1862.6,677.3 1863.3,677.5 1864,677.7 1864.7,678 1865.4,678.2 1866.1,678.5 1866.8,678.7 1867.5,679 1868.2,679.2 1868.9,679.5 1869.6,679.7 1870.3,680 1871,680.2 1871.7,680.5 1872.4,680.7 1873.1,681 1873.8,681.3 1874.5,681.6 1875.2,682 1875.9,682.3 1876.6,682.6 1877.3,682.9 1878,683.2 1878.7,683.4 1879.4,683.6 1880.1,683.8 1880.8,684 1881.5,684.1 1882.2,684.1 1882.9,684.1 1883.6,683.9 1884.3,683.8 1885,683.6 1885.7,683.5 1886.4,683.4 1887.1,683.5 1887.8,683.8 1888.5,684.2 1889.2,684.5 1889.9,684.7 1890.6,684.8 1891.3,684.7 1892,684.5 1892.7,684.2 1893.4,683.9 1894.1,683.5 1894.8,683.1 1895.5,682.7 1896.2,682.3 1896.9,681.8 1897.6,681.3 1898.3,680.8 1899,680.2 1899.7,679.7 1900.4,679.2 1901.1,678.8 1901.8,678.4 1902.5,678.1 1903.2,677.8 1903.9,677.6 1904.6,677.3 1905.3,677 1906,676.6 1906.7,676.2 1907.4,675.7 1908.1,674.9 1908.8,674.1 1909.5,673.2 1910.2,672.4 1910.9,671.6 1911.6,670.9 1912.3,670.4 1913,670 1913.7,669.7 1914.4,669.3 1915.1,669.1 1915.8,668.7 1916.5,668.4 1917.2,668 1917.9,667.5 1918.6,666.9 1919.3,666.3 1920,665.6 1920.7,665 1921.4,664.5 1922.1,664 1922.8,663.6 1923.5,663.2 1924.2,662.8 1924.9,662.6 1925.6,662.5 1926.3,662.6 1927,662.9 1927.7,663.3 1928.4,663.8 1929.1,664.2 1929.8,664.7 1930.5,665.4 1931.2,666.1 1931.9,666.9 1932.6,667.7 1933.3,668.2 1934,668.6 1934.7,668.6 1935.4,668.4 1936.1,668.1 1936.8,667.8 1937.5,667.6 1938.2,667.5 1938.9,667.7 1939.6,668.2 1940.3,669 1941,669.9 1941.7,670.7 1942.4,671.4 1943.1,671.9 1943.8,672.3 1944.5,672.8 1945.2,673.2 1945.9,673.6 1946.6,674 1947.3,674.5 1948,675 1948.7,675.6 1949.4,676.4 1950.1,677.4 1950.8,678.4 1951.5,679.3 1952.2,679.9 1952.9,680.1 1953.6,680.3 1954.3,680.5 1955,680.6 1955.7,680.7 1956.4,680.8 1957.1,680.9 1957.8,681 1958.5,681.1 1959.2,681.1 1959.9,681.2 1960.6,681.2 1961.3,681.3 1962,681.3 1962.7,681.4 1963.4,681.4 1964.1,681.4 1964.8,681.4 1965.5,681.4 1966.2,681.3 1966.9,681.1 1967.6,681 1968.3,680.8 1969,680.6 1969.7,680.4 1970.4,680.2 1971.1,680 1971.8,679.9 1972.5,679.7 1973.2,679.5 1973.9,679.2 1974.6,679 1975.3,678.8 1976,678.6 1976.7,678.4 1977.4,678.2 1978.1,678 1978.8,677.8 1979.5,677.7 1980.2,677.5 1980.9,677.4 1981.6,677.2 1982.3,677 1983,676.9 1983.7,676.7 1984.4,676.6 1985.1,676.5 1985.8,676.4 1986.5,676.3 1987.2,676.2 1987.9,676.1 1988.6,676 1989.3,676 1990,675.9 1990.7,675.9 1991.4,675.8 1992.1,675.8 1992.8,675.7 1993.5,675.7 1994.2,675.7 1994.9,675.6 1995.6,675.6 1996.3,675.6 1997,675.5 1997.7,675.5 1998.4,675.5 1999.1,675.5 1999.8,675.4 2000.5,675.4 2001.2,675.4 2001.9,675.4 2002.6,675.4 2003.3,675.3 2004,675.3 2004.7,675.3 2005.4,675.3 2006.1,675.3 2006.8,675.3 2007.5,675.3 2008.2,675.3 2008.9,675.2 2009.6,675.2 2010.3,675.2 2011,675.2 2011.7,675.2 2012.4,675.2 2013.1,675.2 2013.8,675.2 2014.5,675.2 2015.2,675.2 2015.9,675.2 2016.6,675.1 2017.3,675.1 2018,675.1 2018.7,675.1 2019.4,675.1 2020.1,675.1 2020.8,675.1 2021.5,675.1 2022.2,675.1 2022.9,675.1 2023.6,675.1 2024.3,675.1 2025,675.1 2025.7,675.1 2026.4,675.1 2027.1,675.1 2027.8,675.1 2028.5,675.1 2029.2,675.1 2029.9,675.1 2030.6,675.1 2031.3,675.1 2032,675.1 2032.7,675.2 2033.4,675.2 2034.1,675.2 2034.8,675.2 2035.5,675.2 2036.2,675.2 2036.9,675.2 2037.6,675.2 2038.3,675.2 2039,675.3 2039.7,675.3 2040.4,675.3 2041.1,675.3 2041.8,675.3 2042.5,675.3 2043.2,675.3 2043.9,675.4 2044.6,675.4 2045.3,675.4 2046,675.4 2046.7,675.4 2047.4,675.4 2048.1,675.4 2048.8,675.4 2049.5,675.5 2050.2,675.5 2050.9,675.5 2051.6,675.5 2052.3,675.5 2053,675.5 2053.7,675.5 2054.4,675.5 2055.1,675.5 2055.8,675.5 2056.5,675.6 2057.2,675.6 2057.9,675.6 2058.6,675.6 2059.3,675.6 2060,675.6 2060.7,675.6 2061.4,675.6 2062.1,675.6 2062.8,675.6 2063.5,675.6 2064.2,675.6 2064.9,675.6 2065.6,675.7 2066.3,675.7 2067,675.7 2067.7,675.7 2068.4,675.7 2069.1,675.7 2069.8,675.7 2070.5,675.7" fill="none" stroke="#000" stroke-width="2.1" stroke-linejoin="round" stroke-linecap="butt" />
<line x1="845.2" y1="629.5" x2="845.2" y2="656.5" stroke="#9B2068" stroke-width="2"/>
<line x1="864" y1="629.5" x2="864" y2="656.5" stroke="#9B2068" stroke-width="2"/>
<line x1="1224.8" y1="634.9" x2="1224.8" y2="662.5" stroke="#9B2068" stroke-width="2"/>
<line x1="1232" y1="634.9" x2="1232" y2="662.5" stroke="#9B2068" stroke-width="2"/>
<line x1="1334.3" y1="634.9" x2="1334.3" y2="662.5" stroke="#9B2068" stroke-width="2"/>
<line x1="1498.9" y1="634.9" x2="1498.9" y2="662.5" stroke="#9B2068" stroke-width="2"/>
<line x1="1625.9" y1="634.9" x2="1625.9" y2="662.5" stroke="#9B2068" stroke-width="2"/>
<line x1="1705.1" y1="634.9" x2="1705.1" y2="662.5" stroke="#9B2068" stroke-width="2"/>
<line x1="1741.8" y1="634.9" x2="1741.8" y2="662.5" stroke="#9B2068" stroke-width="2"/>
<line x1="1924.5" y1="634.9" x2="1924.5" y2="662.5" stroke="#9B2068" stroke-width="2"/>
<line x1="1956.9" y1="634.9" x2="1956.9" y2="662.5" stroke="#9B2068" stroke-width="2"/>
<line x1="1963.7" y1="634.9" x2="1963.7" y2="662.5" stroke="#9B2068" stroke-width="2"/>
<polyline points="802.7,968.3 803.7,968.3 804.7,968.3 805.7,968.3 806.7,968.3 807.7,968.2 808.7,968.2 809.7,968.2 810.7,968.2 811.7,968.1 812.7,968.1 813.7,968.1 814.7,968 815.7,968 816.7,967.9 817.7,967.9 818.7,967.9 819.7,967.8 820.7,967.7 821.7,967.7 822.7,967.6 823.7,967.6 824.7,967.5 825.7,967.4 826.7,967.2 827.7,967.1 828.7,966.9 829.7,966.8 830.7,966.6 831.7,966.4 832.7,966.2 833.7,965.9 834.7,965.5 835.7,965 836.7,964.2 837.7,962.8 838.7,961.1 839.7,958.6 840.7,955.5 841.7,951.9 842.7,947.5 843.7,942.4 844.7,936.2 845.7,928.9 846.7,920.5 847.7,910.7 848.7,899.4 849.7,886.3 850.7,873.8 851.7,861.7 852.7,849.6 853.7,836.9 854.7,825.8 855.7,817.4 856.7,810.3 857.7,804.4 858.7,799.1 859.7,794.5 860.7,790.9 861.7,788.3 862.7,786.1 863.7,783.3 864.7,782.3 865.7,785.8 866.7,792.8 867.7,807.5 868.7,823.1 869.7,846.2 870.7,870.5 871.7,890.3 872.7,905 873.7,914.3 874.7,921.3 875.7,927.3 876.7,932.5 877.7,936.9 878.7,941 879.7,944.7 880.7,948.2 881.7,951.8 882.8,955.5 883.8,958.6 884.8,961.6 885.8,963.5 886.8,964.5 887.8,965.3 888.8,965.6 889.8,965.9 890.8,966.1 891.8,966.2 892.8,966.4 893.8,966.5 894.8,966.6 895.8,966.6 896.8,966.6 897.8,966.6 898.8,966.6 899.8,966.6 900.8,966.6 901.8,966.6 902.8,966.6 903.8,966.6 904.8,966.6 905.8,966.6 906.8,966.5 907.8,966.5 908.8,966.5 909.8,966.5 910.8,966.5 911.8,966.5 912.8,966.5 913.8,966.4 914.8,966.4 915.8,966.3 916.8,966.2 917.8,966.2 918.8,966.1 919.8,966 920.8,966 921.8,965.9 922.8,965.9 923.8,965.8 924.8,965.8 925.8,965.8 926.8,965.9 927.8,966 928.8,966.1 929.8,966.2 930.8,966.4 931.8,966.5 932.8,966.6 933.8,966.6 934.8,966.6 935.8,966.6 936.8,966.6 937.8,966.6 938.8,966.6 939.8,966.6 940.8,966.6 941.8,966.5 942.8,966.5 943.8,966.5 944.8,966.5 945.8,966.5 946.8,966.4 947.8,966.3 948.8,966.3 949.8,966.2 950.8,966 951.8,965.9 952.8,965.8 953.8,965.7 954.8,965.6 955.8,965.5 956.8,965.4 957.8,965.4 958.8,965.3 959.8,965.3 960.8,965.3 961.8,965.3 962.8,965.3 963.8,965.3 964.8,965.3 965.8,965.3 966.8,965.3 967.8,965.3 968.8,965.3 969.8,965.3 970.8,965.3 971.8,965.3 972.8,965.4 973.8,965.5 974.8,965.6 975.8,965.7 976.8,965.8 977.8,965.9 978.8,965.9 979.8,966 980.8,966.1 981.8,966.1 982.8,966.1 983.8,966.1 984.8,966.1 985.8,966.1 986.8,966.1 987.8,966.1 988.8,966.1 989.8,966.1 990.8,966.1 991.8,966.1 992.8,966.1 993.8,966.1 994.8,966.1 995.8,966.1 996.8,966.1 997.8,966.1 998.8,966.1 999.8,966.1 1000.8,966.1 1001.8,966.1 1002.8,966.1 1003.8,966.1 1004.8,966.1 1005.8,966.2 1006.8,966.2 1007.8,966.2 1008.8,966.2 1009.8,966.2 1010.8,966.3 1011.8,966.3 1012.8,966.3 1013.8,966.4 1014.8,966.4 1015.8,966.4 1016.8,966.5 1017.8,966.5 1018.8,966.6 1019.8,966.6 1020.8,966.7 1021.8,966.7 1022.8,966.7 1023.8,966.8 1024.8,966.8 1025.8,966.9 1026.8,966.9 1027.8,967 1028.8,967 1029.8,967 1030.8,967.1 1031.8,967.1 1032.8,967.2 1033.8,967.2 1034.8,967.2 1035.8,967.3 1036.8,967.3 1037.8,967.3 1038.8,967.4 1039.8,967.4 1040.9,967.4 1041.9,967.4 1042.9,967.5 1043.9,967.5 1044.9,967.5 1045.9,967.5 1046.9,967.6 1047.9,967.6 1048.9,967.6 1049.9,967.6 1050.9,967.7 1051.9,967.7 1052.9,967.7 1053.9,967.7 1054.9,967.8 1055.9,967.8 1056.9,967.8 1057.9,967.8 1058.9,967.8 1059.9,967.9 1060.9,967.9 1061.9,967.9 1062.9,967.9 1063.9,967.9 1064.9,968 1065.9,968 1066.9,968 1067.9,968 1068.9,968 1069.9,968.1 1070.9,968.1 1071.9,968.1 1072.9,968.1 1073.9,968.1 1074.9,968.1 1075.9,968.1 1076.9,968.2 1077.9,968.2 1078.9,968.2 1079.9,968.2 1080.9,968.2 1081.9,968.2 1082.9,968.2 1083.9,968.2 1084.9,968.2 1085.9,968.2 1086.9,968.2 1087.9,968.2 1088.9,968.3 1089.9,968.3 1090.9,968.3 1091.9,968.3 1092.9,968.3 1093.9,968.3 1094.9,968.3 1095.9,968.3 1096.9,968.3 1097.9,968.3 1098.9,968.3 1099.9,968.3 1100.9,968.3 1101.9,968.3 1102.9,968.3 1103.9,968.3 1104.9,968.3 1105.9,968.3 1106.9,968.3 1107.9,968.3 1108.9,968.3 1109.9,968.3 1110.9,968.3 1111.9,968.3 1112.9,968.3 1113.9,968.4 1114.9,968.4 1115.9,968.4 1116.9,968.4 1117.9,968.4 1118.9,968.4 1119.9,968.4 1120.9,968.4 1121.9,968.4 1122.9,968.4 1123.9,968.4 1124.9,968.4 1125.9,968.5 1126.9,968.5 1127.9,968.5 1128.9,968.5 1129.9,968.5 1130.9,968.6 1131.9,968.6 1132.9,968.6 1133.9,968.7 1134.9,968.7 1135.9,968.7 1136.9,968.7 1137.9,968.8 1138.9,968.8 1139.9,968.8 1140.9,968.9 1141.9,968.9 1142.9,968.9 1143.9,968.9 1144.9,969 1145.9,969 1146.9,969 1147.9,969 1148.9,969 1149.9,969.1 1150.9,969.1 1151.9,969.1 1152.9,969.1 1153.9,969.1 1154.9,969.1 1155.9,969.1 1156.9,969.1 1157.9,969.1 1158.9,969.1 1159.9,969.1 1160.9,969.1 1161.9,969.1 1162.9,969.1 1163.9,969.1 1164.9,969.1 1165.9,969.1 1166.9,969.1 1167.9,969.1 1168.9,969.1 1169.9,969.1 1170.9,969.1 1171.9,969.1 1172.9,969.1 1173.9,969.1 1174.9,969.1 1175.9,969.1 1176.9,969.1 1177.9,969.1 1178.9,969.1 1179.9,969.1 1180.9,969.1 1181.9,969.1 1182.9,969.1 1183.9,969.1 1184.9,969.1 1185.9,969.1 1186.9,969.1 1187.9,969.1 1188.9,969.1 1189.9,969.1 1190.9,969.1 1191.9,969.1 1192.9,969 1193.9,969 1194.9,968.8 1195.9,968.7 1196.9,968.5 1197.9,968.3 1199,968.1 1200,967.9 1201,967.7 1202,967.4 1203,967 1204,966.7 1205,966.3 1206,965.9 1207,965.5 1208,965.2 1209,964.9 1210,964.6 1211,964.3 1212,963.9 1213,963.6 1214,963.3 1215,963 1216,962.8 1217,962.5 1218,962.2 1219,961.9 1220,961.7 1221,961.4 1222,961.1 1223,960.9 1224,960.6 1225,960.4 1226,960.1 1227,960 1228,959.9 1229,960 1230,960.3 1231,960.7 1232,961 1233,961.3 1234,961.5 1235,961.8 1236,962.1 1237,962.4 1238,962.7 1239,963.1 1240,963.6 1241,964.1 1242,964.7 1243,965.3 1244,965.8 1245,966.4 1246,966.8 1247,967.2 1248,967.5 1249,967.7 1250,968 1251,968.3 1252,968.5 1253,968.7 1254,968.9 1255,969 1256,969.1 1257,969.1 1258,969.2 1259,969.2 1260,969.3 1261,969.3 1262,969.3 1263,969.3 1264,969.4 1265,969.4 1266,969.4 1267,969.4 1268,969.5 1269,969.5 1270,969.5 1271,969.5 1272,969.6 1273,969.6 1274,969.6 1275,969.6 1276,969.7 1277,969.7 1278,969.7 1279,969.7 1280,969.8 1281,969.8 1282,969.8 1283,969.8 1284,969.9 1285,969.9 1286,969.9 1287,969.9 1288,970 1289,970 1290,970 1291,970 1292,970 1293,970 1294,970.1 1295,970.1 1296,970.1 1297,970.1 1298,970.1 1299,970.1 1300,970.1 1301,970.1 1302,970.1 1303,970.2 1304,970.2 1305,970.2 1306,970.2 1307,970.2 1308,970.2 1309,970.2 1310,970.2 1311,970.2 1312,970.2 1313,970.2 1314,970.2 1315,970.2 1316,970.3 1317,970.3 1318,970.3 1319,970.3 1320,970.3 1321,970.3 1322,970.3 1323,970.3 1324,970.3 1325,970.3 1326,970.3 1327,970.3 1328,970.3 1329,970.3 1330,970.3 1331,970.3 1332,970.3 1333,970.3 1334,970.3 1335,970.3 1336,970.3 1337,970.2 1338,970.2 1339,970.2 1340,970.2 1341,970.2 1342,970.1 1343,970.1 1344,970.1 1345,970.1 1346,970 1347,970 1348,970 1349,969.9 1350,969.9 1351,969.9 1352,969.9 1353,969.8 1354,969.8 1355,969.8 1356,969.7 1357,969.7 1358.1,969.6 1359.1,969.6 1360.1,969.5 1361.1,969.5 1362.1,969.4 1363.1,969.4 1364.1,969.4 1365.1,969.3 1366.1,969.3 1367.1,969.3 1368.1,969.2 1369.1,969.2 1370.1,969.2 1371.1,969.2 1372.1,969.2 1373.1,969.2 1374.1,969.2 1375.1,969.3 1376.1,969.3 1377.1,969.3 1378.1,969.4 1379.1,969.4 1380.1,969.5 1381.1,969.5 1382.1,969.6 1383.1,969.6 1384.1,969.7 1385.1,969.8 1386.1,969.8 1387.1,969.9 1388.1,969.9 1389.1,970 1390.1,970 1391.1,970.1 1392.1,970.1 1393.1,970.2 1394.1,970.2 1395.1,970.3 1396.1,970.4 1397.1,970.4 1398.1,970.5 1399.1,970.5 1400.1,970.6 1401.1,970.6 1402.1,970.7 1403.1,970.7 1404.1,970.7 1405.1,970.7 1406.1,970.7 1407.1,970.7 1408.1,970.7 1409.1,970.6 1410.1,970.6 1411.1,970.6 1412.1,970.6 1413.1,970.5 1414.1,970.5 1415.1,970.4 1416.1,970.4 1417.1,970.4 1418.1,970.3 1419.1,970.3 1420.1,970.3 1421.1,970.3 1422.1,970.2 1423.1,970.2 1424.1,970.2 1425.1,970.2 1426.1,970.2 1427.1,970.2 1428.1,970.2 1429.1,970.3 1430.1,970.3 1431.1,970.3 1432.1,970.3 1433.1,970.4 1434.1,970.4 1435.1,970.4 1436.1,970.5 1437.1,970.5 1438.1,970.6 1439.1,970.6 1440.1,970.6 1441.1,970.6 1442.1,970.7 1443.1,970.7 1444.1,970.7 1445.1,970.7 1446.1,970.7 1447.1,970.7 1448.1,970.7 1449.1,970.7 1450.1,970.7 1451.1,970.7 1452.1,970.7 1453.1,970.7 1454.1,970.7 1455.1,970.7 1456.1,970.7 1457.1,970.7 1458.1,970.7 1459.1,970.7 1460.1,970.7 1461.1,970.7 1462.1,970.7 1463.1,970.7 1464.1,970.7 1465.1,970.7 1466.1,970.7 1467.1,970.6 1468.1,970.6 1469.1,970.5 1470.1,970.5 1471.1,970.4 1472.1,970.4 1473.1,970.3 1474.1,970.3 1475.1,970.2 1476.1,970.1 1477.1,970 1478.1,969.9 1479.1,969.8 1480.1,969.7 1481.1,969.5 1482.1,969.4 1483.1,969.2 1484.1,969 1485.1,968.8 1486.1,968.6 1487.1,968.5 1488.1,968.2 1489.1,968 1490.1,967.8 1491.1,967.6 1492.1,967.4 1493.1,967.1 1494.1,966.9 1495.1,966.7 1496.1,966.5 1497.1,966.3 1498.1,966.1 1499.1,965.9 1500.1,965.7 1501.1,965.6 1502.1,965.4 1503.1,965.2 1504.1,965.1 1505.1,964.9 1506.1,964.8 1507.1,964.7 1508.1,964.5 1509.1,964.4 1510.1,964.3 1511.1,964.2 1512.1,964.1 1513.1,964 1514.1,964 1515.1,964 1516.2,964.1 1517.2,964.3 1518.2,964.5 1519.2,964.6 1520.2,964.8 1521.2,965.1 1522.2,965.4 1523.2,965.7 1524.2,966 1525.2,966.4 1526.2,966.7 1527.2,967.1 1528.2,967.6 1529.2,968.1 1530.2,968.6 1531.2,969.1 1532.2,969.5 1533.2,969.9 1534.2,970.2 1535.2,970.5 1536.2,970.8 1537.2,971 1538.2,971.3 1539.2,971.4 1540.2,971.5 1541.2,971.6 1542.2,971.7 1543.2,971.8 1544.2,971.8 1545.2,971.9 1546.2,971.9 1547.2,972 1548.2,972 1549.2,972.1 1550.2,972.1 1551.2,972.1 1552.2,972.2 1553.2,972.2 1554.2,972.3 1555.2,972.3 1556.2,972.3 1557.2,972.4 1558.2,972.4 1559.2,972.4 1560.2,972.5 1561.2,972.5 1562.2,972.5 1563.2,972.6 1564.2,972.6 1565.2,972.6 1566.2,972.6 1567.2,972.7 1568.2,972.7 1569.2,972.7 1570.2,972.7 1571.2,972.8 1572.2,972.8 1573.2,972.8 1574.2,972.8 1575.2,972.8 1576.2,972.8 1577.2,972.9 1578.2,972.9 1579.2,972.9 1580.2,972.9 1581.2,972.9 1582.2,972.9 1583.2,972.9 1584.2,972.9 1585.2,972.9 1586.2,973 1587.2,973 1588.2,973 1589.2,973 1590.2,973 1591.2,973 1592.2,973 1593.2,973 1594.2,973 1595.2,973 1596.2,973 1597.2,973 1598.2,973.1 1599.2,973.1 1600.2,973.1 1601.2,973.1 1602.2,973.1 1603.2,973.1 1604.2,973.1 1605.2,973.1 1606.2,973.1 1607.2,973.1 1608.2,973.1 1609.2,973.1 1610.2,973.1 1611.2,973.1 1612.2,973.1 1613.2,973.1 1614.2,973.2 1615.2,973.2 1616.2,973.2 1617.2,973.2 1618.2,973.2 1619.2,973.2 1620.2,973.2 1621.2,973.2 1622.2,973.2 1623.2,973.2 1624.2,973.2 1625.2,973.2 1626.2,973.2 1627.2,973.2 1628.2,973.2 1629.2,973.2 1630.2,973.2 1631.2,973.2 1632.2,973.2 1633.2,973.2 1634.2,973.2 1635.2,973.2 1636.2,973.2 1637.2,973.2 1638.2,973.2 1639.2,973.2 1640.2,973.2 1641.2,973.2 1642.2,973.2 1643.2,973.2 1644.2,973.2 1645.2,973.2 1646.2,973.2 1647.2,973.2 1648.2,973.2 1649.2,973.2 1650.2,973.2 1651.2,973.2 1652.2,973.2 1653.2,973.2 1654.2,973.2 1655.2,973.2 1656.2,973.2 1657.2,973.2 1658.2,973.2 1659.2,973.2 1660.2,973.2 1661.2,973.2 1662.2,973.2 1663.2,973.2 1664.2,973.2 1665.2,973.2 1666.2,973.2 1667.2,973.2 1668.2,973.2 1669.2,973.2 1670.2,973.2 1671.2,973.2 1672.2,973.2 1673.2,973.1 1674.2,973.1 1675.3,973.1 1676.3,973 1677.3,973 1678.3,973 1679.3,972.9 1680.3,972.9 1681.3,972.8 1682.3,972.7 1683.3,972.7 1684.3,972.6 1685.3,972.5 1686.3,972.4 1687.3,972.3 1688.3,972.1 1689.3,971.8 1690.3,971.5 1691.3,971.1 1692.3,970.8 1693.3,970.4 1694.3,969.9 1695.3,969.3 1696.3,968.8 1697.3,968.1 1698.3,967.5 1699.3,966.7 1700.3,965.9 1701.3,965.1 1702.3,964.2 1703.3,963.5 1704.3,962.7 1705.3,962.1 1706.3,961.4 1707.3,960.8 1708.3,960.1 1709.3,959.5 1710.3,958.9 1711.3,958.4 1712.3,957.7 1713.3,956.7 1714.3,955.4 1715.3,953.9 1716.3,952.5 1717.3,951.3 1718.3,950.2 1719.3,949.1 1720.3,948.2 1721.3,947.6 1722.3,947.2 1723.3,947 1724.3,946.8 1725.3,946.5 1726.3,946.1 1727.3,945.1 1728.3,943.7 1729.3,942.5 1730.3,941.2 1731.3,940.4 1732.3,940.7 1733.3,941.5 1734.3,941.9 1735.3,941.6 1736.3,941.1 1737.3,940.6 1738.3,940 1739.3,939.9 1740.3,940.5 1741.3,941.5 1742.3,943.3 1743.3,945.3 1744.3,946.7 1745.3,948.1 1746.3,949.2 1747.3,950 1748.3,950.4 1749.3,950.6 1750.3,950.7 1751.3,950.9 1752.3,951 1753.3,951.2 1754.3,951.5 1755.3,951.8 1756.3,952.1 1757.3,952.4 1758.3,952.8 1759.3,953.3 1760.3,953.7 1761.3,954.3 1762.3,954.9 1763.3,955.6 1764.3,956.3 1765.3,957.2 1766.3,958.2 1767.3,959.2 1768.3,960.2 1769.3,961 1770.3,961.7 1771.3,962.4 1772.3,962.9 1773.3,963.5 1774.3,964.1 1775.3,964.8 1776.3,965.6 1777.3,966.5 1778.3,967.6 1779.3,968.7 1780.3,969.7 1781.3,970.4 1782.3,971.1 1783.3,971.6 1784.3,971.8 1785.3,972 1786.3,972.1 1787.3,972.2 1788.3,972.3 1789.3,972.4 1790.3,972.5 1791.3,972.5 1792.3,972.6 1793.3,972.6 1794.3,972.7 1795.3,972.7 1796.3,972.8 1797.3,972.9 1798.3,972.9 1799.3,973 1800.3,973 1801.3,973.1 1802.3,973.1 1803.3,973.2 1804.3,973.2 1805.3,973.3 1806.3,973.3 1807.3,973.4 1808.3,973.4 1809.3,973.5 1810.3,973.5 1811.3,973.6 1812.3,973.6 1813.3,973.6 1814.3,973.7 1815.3,973.7 1816.3,973.8 1817.3,973.8 1818.3,973.8 1819.3,973.9 1820.3,973.9 1821.3,973.9 1822.3,974 1823.3,974 1824.3,974 1825.3,974.1 1826.3,974.1 1827.3,974.2 1828.3,974.2 1829.3,974.2 1830.3,974.3 1831.3,974.3 1832.3,974.3 1833.4,974.4 1834.4,974.4 1835.4,974.4 1836.4,974.5 1837.4,974.5 1838.4,974.5 1839.4,974.6 1840.4,974.6 1841.4,974.6 1842.4,974.7 1843.4,974.7 1844.4,974.7 1845.4,974.8 1846.4,974.8 1847.4,974.8 1848.4,974.9 1849.4,974.9 1850.4,974.9 1851.4,974.9 1852.4,975 1853.4,975 1854.4,975 1855.4,975.1 1856.4,975.1 1857.4,975.1 1858.4,975.2 1859.4,975.2 1860.4,975.2 1861.4,975.3 1862.4,975.3 1863.4,975.3 1864.4,975.4 1865.4,975.4 1866.4,975.4 1867.4,975.5 1868.4,975.5 1869.4,975.5 1870.4,975.5 1871.4,975.5 1872.4,975.6 1873.4,975.6 1874.4,975.6 1875.4,975.6 1876.4,975.6 1877.4,975.6 1878.4,975.6 1879.4,975.6 1880.4,975.5 1881.4,975.5 1882.4,975.4 1883.4,975.4 1884.4,975.3 1885.4,975.3 1886.4,975.2 1887.4,975.1 1888.4,975 1889.4,974.8 1890.4,974.7 1891.4,974.5 1892.4,974.3 1893.4,974.1 1894.4,973.9 1895.4,973.7 1896.4,973.4 1897.4,973.1 1898.4,972.8 1899.4,972.4 1900.4,972 1901.4,971.6 1902.4,971.2 1903.4,970.7 1904.4,970.1 1905.4,969.4 1906.4,968.7 1907.4,967.9 1908.4,967.1 1909.4,966.3 1910.4,965.5 1911.4,964.8 1912.4,964.1 1913.4,963.5 1914.4,962.8 1915.4,962.1 1916.4,961.5 1917.4,960.9 1918.4,960.2 1919.4,959.6 1920.4,959 1921.4,958.5 1922.4,957.9 1923.4,957.4 1924.4,956.9 1925.4,956.4 1926.4,956 1927.4,955.5 1928.4,955.1 1929.4,954.6 1930.4,954.2 1931.4,953.8 1932.4,953.2 1933.4,952.7 1934.4,952.2 1935.4,952 1936.4,952.1 1937.4,952.3 1938.4,952.7 1939.4,953.2 1940.4,953.7 1941.4,954.4 1942.4,955.4 1943.4,956.4 1944.4,957.3 1945.4,957.8 1946.4,958 1947.4,958 1948.4,958 1949.4,958.2 1950.4,958.6 1951.4,959.3 1952.4,960.2 1953.4,961.3 1954.4,962.3 1955.4,963.2 1956.4,964.1 1957.4,965.1 1958.4,966.1 1959.4,967.1 1960.4,968.1 1961.4,969 1962.4,969.9 1963.4,970.6 1964.4,971.2 1965.4,971.9 1966.4,972.4 1967.4,973 1968.4,973.5 1969.4,974 1970.4,974.4 1971.4,974.9 1972.4,975.3 1973.4,975.7 1974.4,976.1 1975.4,976.5 1976.4,976.8 1977.4,977.1 1978.4,977.4 1979.4,977.5 1980.4,977.6 1981.4,977.7 1982.4,977.8 1983.4,977.9 1984.4,978 1985.4,978 1986.4,978.1 1987.4,978.1 1988.4,978.2 1989.4,978.2 1990.4,978.3 1991.5,978.3 1992.5,978.3 1993.5,978.4 1994.5,978.4 1995.5,978.4 1996.5,978.5 1997.5,978.5 1998.5,978.5 1999.5,978.6 2000.5,978.6 2001.5,978.6 2002.5,978.6 2003.5,978.7 2004.5,978.7 2005.5,978.7 2006.5,978.7 2007.5,978.8 2008.5,978.8 2009.5,978.8 2010.5,978.8 2011.5,978.8 2012.5,978.9 2013.5,978.9 2014.5,978.9 2015.5,978.9 2016.5,978.9 2017.5,979 2018.5,979 2019.5,979 2020.5,979 2021.5,979 2022.5,979 2023.5,979.1 2024.5,979.1 2025.5,979.1 2026.5,979.1 2027.5,979.1 2028.5,979.2 2029.5,979.2 2030.5,979.2 2031.5,979.2 2032.5,979.2 2033.5,979.3 2034.5,979.3 2035.5,979.3 2036.5,979.3 2037.5,979.3 2038.5,979.4 2039.5,979.4 2040.5,979.4 2041.5,979.4 2042.5,979.4 2043.5,979.4 2044.5,979.5 2045.5,979.5 2046.5,979.5 2047.5,979.5 2048.5,979.5 2049.5,979.5 2050.5,979.5 2051.5,979.6 2052.5,979.6 2053.5,979.6 2054.5,979.6 2055.5,979.6 2056.5,979.6 2057.5,979.6 2058.5,979.6 2059.5,979.6 2060.5,979.6 2061.5,979.6 2062.5,979.6 2063.5,979.6 2064.5,979.6 2065.5,979.6 2066.5,979.6 2067.5,979.5 2068.5,979.5 2069.5,979.5 2070.5,979.5" fill="none" stroke="#7088D8" stroke-width="1.8" stroke-linejoin="round" stroke-linecap="butt" />
<polyline points="802.7,976.9 803.9,976.9 805.1,976.9 806.3,976.9 807.5,976.9 808.7,976.9 809.9,976.9 811.1,976.8 812.3,976.8 813.5,976.8 814.7,976.8 815.9,976.8 817.1,976.7 818.3,976.7 819.5,976.7 820.7,976.6 821.9,976.6 823.1,976.5 824.3,976.4 825.5,976.3 826.7,976.1 827.9,975.9 829.1,975.6 830.3,975.3 831.5,974.9 832.7,974.3 833.9,973.4 835.1,972.4 836.3,971.3 837.5,969.7 838.7,967.8 839.9,965.7 841.1,963.2 842.3,960 843.5,956 844.7,950.7 845.9,944.2 847.1,935.2 848.3,924.8 849.5,913 850.7,899.5 851.9,884.1 853.1,866.8 854.3,848 855.5,828.3 856.7,815.8 857.9,805.4 859.1,796.5 860.3,792.5 861.5,790.8 862.7,792.4 863.9,796.8 865.1,804.6 866.3,815.4 867.5,826.4 868.7,850.6 869.9,872.9 871.1,890.5 872.3,904.9 873.5,917.2 874.7,927.8 875.9,937 877.1,945.5 878.3,953.6 879.5,959.7 880.7,964.6 881.9,968.2 883.1,970.5 884.3,972.2 885.5,973.4 886.7,974.1 887.9,974.6 889.1,975.1 890.3,975.4 891.5,975.6 892.7,975.7 893.9,975.7 895.1,975.8 896.3,975.8 897.5,975.8 898.7,975.8 899.9,975.8 901.1,975.9 902.3,975.9 903.5,975.9 904.7,975.9 905.9,975.9 907.1,975.9 908.4,975.9 909.6,975.9 910.8,975.9 912,975.9 913.2,975.9 914.4,975.9 915.6,975.9 916.8,975.9 918,975.8 919.2,975.8 920.4,975.8 921.6,975.8 922.8,975.7 924,975.7 925.2,975.7 926.4,975.7 927.6,975.6 928.8,975.6 930,975.6 931.2,975.5 932.4,975.5 933.6,975.5 934.8,975.4 936,975.4 937.2,975.3 938.4,975.3 939.6,975.2 940.8,975.2 942,975.1 943.2,975 944.4,975 945.6,974.9 946.8,974.8 948,974.7 949.2,974.6 950.4,974.4 951.6,974.3 952.8,974.1 954,973.8 955.2,973.7 956.4,973.5 957.6,973.3 958.8,973.2 960,973 961.2,972.9 962.4,972.8 963.6,972.8 964.8,972.9 966,973 967.2,973.2 968.4,973.4 969.6,973.6 970.8,973.8 972,973.9 973.2,974.1 974.4,974.3 975.6,974.4 976.8,974.6 978,974.7 979.2,974.9 980.4,974.9 981.6,975 982.8,975 984,975 985.2,975 986.4,975 987.6,975 988.8,974.9 990,974.9 991.2,974.9 992.4,974.9 993.6,974.9 994.8,974.8 996,974.8 997.2,974.8 998.4,974.8 999.6,974.8 1000.8,974.8 1002,974.8 1003.2,974.8 1004.4,974.8 1005.6,974.9 1006.8,974.9 1008,974.9 1009.2,974.9 1010.4,975 1011.6,975 1012.8,975 1014,975.1 1015.2,975.1 1016.4,975.2 1017.6,975.2 1018.8,975.3 1020,975.3 1021.2,975.4 1022.4,975.4 1023.6,975.5 1024.8,975.5 1026,975.6 1027.2,975.6 1028.4,975.7 1029.6,975.7 1030.8,975.8 1032,975.8 1033.2,975.9 1034.4,975.9 1035.6,976 1036.8,976 1038,976 1039.2,976.1 1040.4,976.1 1041.6,976.1 1042.8,976.2 1044,976.2 1045.2,976.2 1046.4,976.2 1047.6,976.3 1048.8,976.3 1050,976.3 1051.2,976.4 1052.4,976.4 1053.6,976.4 1054.8,976.4 1056,976.5 1057.2,976.5 1058.4,976.5 1059.6,976.5 1060.8,976.6 1062,976.6 1063.2,976.6 1064.4,976.6 1065.6,976.7 1066.8,976.7 1068,976.7 1069.2,976.7 1070.4,976.8 1071.6,976.8 1072.8,976.8 1074,976.8 1075.2,976.8 1076.4,976.8 1077.6,976.9 1078.8,976.9 1080,976.9 1081.2,976.9 1082.4,976.9 1083.6,976.9 1084.8,976.9 1086,977 1087.2,977 1088.4,977 1089.6,977 1090.8,977 1092,977 1093.2,977 1094.4,977 1095.6,977 1096.8,977 1098,977 1099.2,977 1100.4,977.1 1101.6,977.1 1102.8,977.1 1104,977.1 1105.2,977.1 1106.4,977.1 1107.6,977.1 1108.8,977.1 1110,977.1 1111.2,977.1 1112.4,977.1 1113.6,977.1 1114.8,977.1 1116,977.2 1117.2,977.2 1118.4,977.2 1119.7,977.2 1120.9,977.2 1122.1,977.2 1123.3,977.2 1124.5,977.2 1125.7,977.2 1126.9,977.3 1128.1,977.3 1129.3,977.3 1130.5,977.3 1131.7,977.3 1132.9,977.3 1134.1,977.4 1135.3,977.4 1136.5,977.4 1137.7,977.4 1138.9,977.4 1140.1,977.4 1141.3,977.5 1142.5,977.5 1143.7,977.5 1144.9,977.5 1146.1,977.5 1147.3,977.5 1148.5,977.5 1149.7,977.6 1150.9,977.6 1152.1,977.6 1153.3,977.6 1154.5,977.6 1155.7,977.6 1156.9,977.6 1158.1,977.6 1159.3,977.6 1160.5,977.6 1161.7,977.6 1162.9,977.7 1164.1,977.7 1165.3,977.7 1166.5,977.7 1167.7,977.7 1168.9,977.7 1170.1,977.7 1171.3,977.7 1172.5,977.7 1173.7,977.7 1174.9,977.7 1176.1,977.7 1177.3,977.7 1178.5,977.6 1179.7,977.6 1180.9,977.5 1182.1,977.5 1183.3,977.4 1184.5,977.3 1185.7,977.2 1186.9,977.1 1188.1,977 1189.3,976.8 1190.5,976.7 1191.7,976.4 1192.9,976.2 1194.1,975.9 1195.3,975.6 1196.5,975.3 1197.7,975 1198.9,974.7 1200.1,974.4 1201.3,974.1 1202.5,973.8 1203.7,973.5 1204.9,973.2 1206.1,973 1207.3,972.7 1208.5,972.5 1209.7,972.3 1210.9,972.2 1212.1,972.1 1213.3,972 1214.5,972 1215.7,971.9 1216.9,971.9 1218.1,971.9 1219.3,971.9 1220.5,972 1221.7,972.1 1222.9,972.2 1224.1,972.3 1225.3,972.5 1226.5,972.6 1227.7,972.7 1228.9,972.8 1230.1,972.9 1231.3,973 1232.5,973 1233.7,973.1 1234.9,973.2 1236.1,973.3 1237.3,973.3 1238.5,973.4 1239.7,973.5 1240.9,973.6 1242.1,973.7 1243.3,973.9 1244.5,974.1 1245.7,974.3 1246.9,974.6 1248.1,974.9 1249.3,975.2 1250.5,975.4 1251.7,975.7 1252.9,976 1254.1,976.3 1255.3,976.6 1256.5,976.9 1257.7,977.1 1258.9,977.2 1260.1,977.3 1261.3,977.3 1262.5,977.3 1263.7,977.4 1264.9,977.4 1266.1,977.4 1267.3,977.4 1268.5,977.5 1269.7,977.5 1270.9,977.5 1272.1,977.6 1273.3,977.6 1274.5,977.6 1275.7,977.7 1276.9,977.7 1278.1,977.8 1279.3,977.8 1280.5,977.8 1281.7,977.9 1282.9,977.9 1284.1,978 1285.3,978 1286.5,978 1287.7,978.1 1288.9,978.1 1290.1,978.1 1291.3,978.1 1292.5,978.2 1293.7,978.2 1294.9,978.2 1296.1,978.2 1297.3,978.2 1298.5,978.2 1299.7,978.2 1300.9,978.2 1302.1,978.2 1303.3,978.2 1304.5,978.1 1305.7,978.1 1306.9,978.1 1308.1,978.1 1309.3,978.1 1310.5,978 1311.7,978 1312.9,978 1314.1,978 1315.3,978 1316.5,978 1317.7,977.9 1318.9,977.9 1320.1,977.9 1321.3,977.9 1322.5,977.9 1323.7,977.9 1324.9,977.9 1326.1,977.9 1327.3,978 1328.5,978.1 1329.7,978.2 1331,978.3 1332.2,978.4 1333.4,978.4 1334.6,978.5 1335.8,978.6 1337,978.6 1338.2,978.6 1339.4,978.6 1340.6,978.6 1341.8,978.5 1343,978.5 1344.2,978.5 1345.4,978.4 1346.6,978.4 1347.8,978.3 1349,978.3 1350.2,978.2 1351.4,978.1 1352.6,978.1 1353.8,978 1355,978 1356.2,977.9 1357.4,977.9 1358.6,977.9 1359.8,977.8 1361,977.8 1362.2,977.8 1363.4,977.7 1364.6,977.7 1365.8,977.7 1367,977.6 1368.2,977.6 1369.4,977.6 1370.6,977.5 1371.8,977.5 1373,977.5 1374.2,977.5 1375.4,977.5 1376.6,977.5 1377.8,977.6 1379,977.6 1380.2,977.7 1381.4,977.8 1382.6,977.9 1383.8,978 1385,978.1 1386.2,978.2 1387.4,978.3 1388.6,978.4 1389.8,978.5 1391,978.6 1392.2,978.6 1393.4,978.7 1394.6,978.7 1395.8,978.8 1397,978.8 1398.2,978.9 1399.4,978.9 1400.6,978.9 1401.8,979 1403,979 1404.2,979 1405.4,979 1406.6,979 1407.8,979 1409,979 1410.2,979 1411.4,979 1412.6,979 1413.8,979 1415,979 1416.2,979 1417.4,979 1418.6,979 1419.8,979 1421,979 1422.2,979 1423.4,979 1424.6,979 1425.8,979 1427,979 1428.2,979 1429.4,979 1430.6,979 1431.8,979 1433,979 1434.2,979 1435.4,979 1436.6,979 1437.8,979.1 1439,979.1 1440.2,979.1 1441.4,979.2 1442.6,979.2 1443.8,979.2 1445,979.3 1446.2,979.3 1447.4,979.4 1448.6,979.4 1449.8,979.4 1451,979.5 1452.2,979.5 1453.4,979.5 1454.6,979.6 1455.8,979.6 1457,979.7 1458.2,979.7 1459.4,979.7 1460.6,979.8 1461.8,979.8 1463,979.8 1464.2,979.8 1465.4,979.8 1466.6,979.7 1467.8,979.6 1469,979.5 1470.2,979.4 1471.4,979.3 1472.6,979.2 1473.8,979.1 1475,979 1476.2,978.8 1477.4,978.7 1478.6,978.5 1479.8,978.3 1481,978 1482.2,977.7 1483.4,977.4 1484.6,977.2 1485.8,976.9 1487,976.6 1488.2,976.3 1489.4,976 1490.6,975.7 1491.8,975.3 1493,975 1494.2,974.7 1495.4,974.4 1496.6,974.2 1497.8,974 1499,973.7 1500.2,973.5 1501.4,973.3 1502.6,973.1 1503.8,973 1505,972.9 1506.2,972.8 1507.4,972.7 1508.6,972.7 1509.8,972.6 1511,972.6 1512.2,972.6 1513.4,972.7 1514.6,972.8 1515.8,973 1517,973.2 1518.2,973.4 1519.4,973.7 1520.6,974 1521.8,974.4 1523,974.8 1524.2,975.2 1525.4,975.6 1526.6,976 1527.8,976.4 1529,976.8 1530.2,977.2 1531.4,977.5 1532.6,977.9 1533.8,978.2 1535,978.4 1536.2,978.7 1537.4,978.9 1538.6,979.1 1539.8,979.3 1541,979.4 1542.2,979.6 1543.5,979.7 1544.7,979.8 1545.9,979.9 1547.1,980 1548.3,980.1 1549.5,980.2 1550.7,980.3 1551.9,980.4 1553.1,980.4 1554.3,980.5 1555.5,980.6 1556.7,980.6 1557.9,980.7 1559.1,980.8 1560.3,980.8 1561.5,980.8 1562.7,980.9 1563.9,980.9 1565.1,981 1566.3,981 1567.5,981.1 1568.7,981.1 1569.9,981.2 1571.1,981.2 1572.3,981.2 1573.5,981.3 1574.7,981.3 1575.9,981.3 1577.1,981.4 1578.3,981.4 1579.5,981.4 1580.7,981.4 1581.9,981.5 1583.1,981.5 1584.3,981.5 1585.5,981.5 1586.7,981.5 1587.9,981.5 1589.1,981.5 1590.3,981.5 1591.5,981.5 1592.7,981.5 1593.9,981.4 1595.1,981.4 1596.3,981.4 1597.5,981.4 1598.7,981.4 1599.9,981.3 1601.1,981.3 1602.3,981.3 1603.5,981.3 1604.7,981.2 1605.9,981.2 1607.1,981.2 1608.3,981.2 1609.5,981.1 1610.7,981.1 1611.9,981.1 1613.1,981.1 1614.3,981.1 1615.5,981 1616.7,981 1617.9,981 1619.1,981 1620.3,981 1621.5,981 1622.7,981 1623.9,981 1625.1,981 1626.3,981.1 1627.5,981.1 1628.7,981.1 1629.9,981.1 1631.1,981.2 1632.3,981.2 1633.5,981.2 1634.7,981.3 1635.9,981.3 1637.1,981.4 1638.3,981.4 1639.5,981.4 1640.7,981.5 1641.9,981.5 1643.1,981.6 1644.3,981.6 1645.5,981.7 1646.7,981.7 1647.9,981.8 1649.1,981.8 1650.3,981.9 1651.5,982 1652.7,982 1653.9,982.1 1655.1,982.2 1656.3,982.2 1657.5,982.3 1658.7,982.4 1659.9,982.4 1661.1,982.5 1662.3,982.5 1663.5,982.5 1664.7,982.6 1665.9,982.6 1667.1,982.6 1668.3,982.6 1669.5,982.6 1670.7,982.6 1671.9,982.5 1673.1,982.4 1674.3,982.4 1675.5,982.3 1676.7,982.2 1677.9,982.1 1679.1,982 1680.3,981.8 1681.5,981.7 1682.7,981.6 1683.9,981.4 1685.1,981.1 1686.3,980.9 1687.5,980.6 1688.7,980.3 1689.9,979.9 1691.1,979.6 1692.3,979.2 1693.5,978.8 1694.7,978.4 1695.9,978 1697.1,977.5 1698.3,977 1699.5,976.4 1700.7,975.8 1701.9,975.2 1703.1,974.5 1704.3,973.7 1705.5,972.8 1706.7,971.8 1707.9,970.8 1709.1,969.8 1710.3,968.7 1711.5,967.6 1712.7,966.4 1713.9,965.2 1715.1,963.9 1716.3,962.7 1717.5,961.5 1718.7,960.3 1719.9,959 1721.1,957.7 1722.3,956.5 1723.5,955.4 1724.7,954.3 1725.9,953.4 1727.1,952.5 1728.3,951.7 1729.5,950.9 1730.7,950.3 1731.9,949.8 1733.1,949.4 1734.3,949 1735.5,948.7 1736.7,948.6 1737.9,948.7 1739.1,948.8 1740.3,949.1 1741.5,949.4 1742.7,949.7 1743.9,950.2 1745.1,950.9 1746.3,951.6 1747.5,952.5 1748.7,953.3 1749.9,954.3 1751.1,955.4 1752.3,956.6 1753.5,957.9 1754.8,959.2 1756,960.5 1757.2,961.8 1758.4,963.1 1759.6,964.5 1760.8,965.9 1762,967.1 1763.2,968.4 1764.4,969.5 1765.6,970.7 1766.8,971.8 1768,972.8 1769.2,973.7 1770.4,974.5 1771.6,975.2 1772.8,975.9 1774,976.4 1775.2,976.9 1776.4,977.3 1777.6,977.6 1778.8,977.9 1780,978.2 1781.2,978.4 1782.4,978.6 1783.6,978.7 1784.8,978.8 1786,978.9 1787.2,978.9 1788.4,979 1789.6,979.1 1790.8,979.1 1792,979.2 1793.2,979.3 1794.4,979.3 1795.6,979.4 1796.8,979.5 1798,979.7 1799.2,979.8 1800.4,980 1801.6,980.1 1802.8,980.3 1804,980.5 1805.2,980.7 1806.4,980.8 1807.6,981 1808.8,981.2 1810,981.4 1811.2,981.5 1812.4,981.7 1813.6,981.9 1814.8,982.1 1816,982.3 1817.2,982.5 1818.4,982.7 1819.6,982.8 1820.8,983 1822,983.2 1823.2,983.3 1824.4,983.5 1825.6,983.6 1826.8,983.8 1828,983.9 1829.2,984 1830.4,984.2 1831.6,984.3 1832.8,984.4 1834,984.5 1835.2,984.6 1836.4,984.6 1837.6,984.6 1838.8,984.7 1840,984.7 1841.2,984.7 1842.4,984.7 1843.6,984.7 1844.8,984.8 1846,984.8 1847.2,984.8 1848.4,984.8 1849.6,984.8 1850.8,984.8 1852,984.8 1853.2,984.7 1854.4,984.7 1855.6,984.6 1856.8,984.5 1858,984.4 1859.2,984.3 1860.4,984.2 1861.6,984.1 1862.8,984 1864,984 1865.2,983.9 1866.4,983.8 1867.6,983.7 1868.8,983.6 1870,983.5 1871.2,983.4 1872.4,983.3 1873.6,983.2 1874.8,983.1 1876,983 1877.2,982.9 1878.4,982.8 1879.6,982.7 1880.8,982.5 1882,982.4 1883.2,982.3 1884.4,982.2 1885.6,982.1 1886.8,982 1888,981.8 1889.2,981.7 1890.4,981.5 1891.6,981.3 1892.8,981.1 1894,980.9 1895.2,980.7 1896.4,980.4 1897.6,980.1 1898.8,979.8 1900,979.5 1901.2,979.2 1902.4,978.8 1903.6,978.4 1904.8,977.9 1906,977.4 1907.2,976.9 1908.4,976.3 1909.6,975.7 1910.8,975.1 1912,974.4 1913.2,973.7 1914.4,973 1915.6,972.2 1916.8,971.4 1918,970.6 1919.2,969.9 1920.4,969.2 1921.6,968.5 1922.8,967.8 1924,967.1 1925.2,966.4 1926.4,965.8 1927.6,965.3 1928.8,964.9 1930,964.5 1931.2,964.1 1932.4,963.7 1933.6,963.5 1934.8,963.3 1936,963.3 1937.2,963.4 1938.4,963.6 1939.6,963.9 1940.8,964.2 1942,964.5 1943.2,964.9 1944.4,965.3 1945.6,965.9 1946.8,966.6 1948,967.4 1949.2,968.2 1950.4,969 1951.6,969.8 1952.8,970.6 1954,971.5 1955.2,972.4 1956.4,973.4 1957.6,974.3 1958.8,975.2 1960,976.1 1961.2,976.9 1962.4,977.8 1963.6,978.6 1964.8,979.4 1966.1,980.2 1967.3,980.9 1968.5,981.6 1969.7,982.2 1970.9,982.6 1972.1,983.1 1973.3,983.5 1974.5,983.8 1975.7,984.2 1976.9,984.5 1978.1,984.7 1979.3,985 1980.5,985.2 1981.7,985.4 1982.9,985.6 1984.1,985.8 1985.3,986 1986.5,986.1 1987.7,986.3 1988.9,986.4 1990.1,986.5 1991.3,986.6 1992.5,986.6 1993.7,986.7 1994.9,986.8 1996.1,986.8 1997.3,986.9 1998.5,986.9 1999.7,987 2000.9,987 2002.1,987 2003.3,987.1 2004.5,987.1 2005.7,987.1 2006.9,987.2 2008.1,987.2 2009.3,987.2 2010.5,987.3 2011.7,987.3 2012.9,987.3 2014.1,987.4 2015.3,987.4 2016.5,987.4 2017.7,987.5 2018.9,987.5 2020.1,987.6 2021.3,987.6 2022.5,987.6 2023.7,987.7 2024.9,987.7 2026.1,987.7 2027.3,987.8 2028.5,987.8 2029.7,987.8 2030.9,987.8 2032.1,987.9 2033.3,987.9 2034.5,987.9 2035.7,987.9 2036.9,988 2038.1,988 2039.3,988 2040.5,988 2041.7,988 2042.9,988.1 2044.1,988.1 2045.3,988.1 2046.5,988.1 2047.7,988.1 2048.9,988.1 2050.1,988.2 2051.3,988.2 2052.5,988.2 2053.7,988.2 2054.9,988.2 2056.1,988.2 2057.3,988.2 2058.5,988.2 2059.7,988.3 2060.9,988.3 2062.1,988.3 2063.3,988.3 2064.5,988.3 2065.7,988.3 2066.9,988.3 2068.1,988.3 2069.3,988.3 2070.5,988.3" fill="none" stroke="#E4605F" stroke-width="1.9" stroke-linejoin="round" stroke-linecap="butt" />
<polyline points="803.7,1042.1 804.4,1042 805.1,1042 805.8,1041.9 806.5,1041.8 807.2,1041.8 807.9,1041.7 808.6,1041.7 809.3,1041.6 810,1041.6 810.7,1041.5 811.4,1041.5 812.1,1041.4 812.8,1041.4 813.5,1041.4 814.2,1041.3 814.9,1041.3 815.6,1041.3 816.3,1041.3 817,1041.2 817.7,1041.2 818.4,1041.2 819.1,1041.2 819.8,1041.2 820.5,1041.1 821.2,1041.1 821.9,1041.1 822.6,1041.1 823.3,1041.1 824,1041.1 824.7,1041.2 825.4,1041.4 826.1,1041.8 826.8,1042.2 827.5,1042.7 828.2,1043.1 828.9,1043.7 829.6,1044.3 830.3,1045 831,1045.5 831.7,1045.9 832.4,1046.1 833.1,1045.6 833.8,1044.5 834.5,1043.6 835.2,1043.4 835.9,1043.6 836.6,1043.8 837.3,1043.9 838,1043.8 838.7,1043.5 839.4,1042.8 840.1,1039.1 840.8,1033.5 841.5,1029.3 842.2,1025.7 842.9,1022.7 843.6,1020.5 844.3,1018.5 845,1017 845.7,1016.4 846.4,1016.9 847.1,1018.2 847.8,1019.8 848.5,1021.7 849.2,1024.5 849.9,1028 850.6,1031.8 851.3,1035.9 852,1040.6 852.7,1045.3 853.4,1049.3 854.1,1053.5 854.8,1057 855.5,1058.1 856.2,1055.1 856.9,1049.4 857.6,1039 858.3,1025.6 859,1013.6 859.7,1006.2 860.4,1002.6 861.1,1001.2 861.8,1003.2 862.5,1008.3 863.2,1027.3 863.9,1047.4 864.6,1065.7 865.3,1075 866,1080.6 866.7,1081.1 867.4,1077.6 868.1,1072.6 868.8,1064.3 869.5,1055.5 870.2,1048.4 870.9,1041.8 871.6,1037.2 872.3,1034.4 873,1032.4 873.7,1031.3 874.4,1030.5 875.1,1029.9 875.8,1029.7 876.5,1030.5 877.2,1032.3 877.9,1034.2 878.6,1036.5 879.3,1039 880,1039.9 880.7,1040.3 881.4,1040.6 882.1,1040.7 882.8,1040.7 883.5,1040.6 884.2,1040.5 884.9,1040.5 885.6,1040.4 886.3,1040.4 887,1040.4 887.7,1040.5 888.4,1040.5 889.1,1040.6 889.8,1040.6 890.5,1040.7 891.2,1040.8 891.9,1040.9 892.6,1040.9 893.3,1041 894,1041.1 894.7,1041.2 895.4,1041.2 896.1,1041.3 896.8,1041.3 897.5,1041.3 898.2,1041.3 898.9,1041.3 899.6,1041.3 900.3,1041.3 901,1041.3 901.7,1041.3 902.4,1041.3 903.1,1041.3 903.8,1041.2 904.5,1041.2 905.2,1041.2 905.9,1041.2 906.6,1041.2 907.3,1041.2 908,1041.2 908.7,1041.1 909.4,1041.1 910.1,1041.1 910.8,1041.1 911.5,1041.1 912.2,1041 912.9,1041 913.6,1040.9 914.3,1040.9 915,1040.8 915.7,1040.8 916.4,1040.7 917.1,1040.7 917.8,1040.7 918.5,1040.6 919.2,1040.6 919.9,1040.6 920.6,1040.6 921.3,1040.6 922,1040.7 922.7,1040.7 923.4,1040.8 924.1,1040.8 924.8,1040.9 925.5,1041 926.2,1041 926.9,1041.1 927.6,1041.2 928.3,1041.2 929,1041.3 929.7,1041.3 930.5,1041.4 931.2,1041.4 931.9,1041.5 932.6,1041.5 933.3,1041.5 934,1041.6 934.7,1041.6 935.4,1041.6 936.1,1041.7 936.8,1041.7 937.5,1041.7 938.2,1041.8 938.9,1041.8 939.6,1041.8 940.3,1041.9 941,1041.9 941.7,1042 942.4,1042 943.1,1042.1 943.8,1042.2 944.5,1042.3 945.2,1042.4 945.9,1042.5 946.6,1042.6 947.3,1042.8 948,1042.9 948.7,1043 949.4,1043.1 950.1,1043.2 950.8,1043.3 951.5,1043.4 952.2,1043.5 952.9,1043.5 953.6,1043.6 954.3,1043.6 955,1043.6 955.7,1043.6 956.4,1043.6 957.1,1043.6 957.8,1043.5 958.5,1043.5 959.2,1043.5 959.9,1043.4 960.6,1043.4 961.3,1043.4 962,1043.3 962.7,1043.2 963.4,1043 964.1,1042.9 964.8,1042.7 965.5,1042.5 966.2,1042.3 966.9,1042.2 967.6,1042 968.3,1041.9 969,1041.8 969.7,1041.7 970.4,1041.6 971.1,1041.6 971.8,1041.5 972.5,1041.4 973.2,1041.4 973.9,1041.3 974.6,1041.3 975.3,1041.2 976,1041.2 976.7,1041.2 977.4,1041.1 978.1,1041.1 978.8,1041.1 979.5,1041.1 980.2,1041.1 980.9,1041.1 981.6,1041.1 982.3,1041.1 983,1041.1 983.7,1041.1 984.4,1041.1 985.1,1041.1 985.8,1041.1 986.5,1041.1 987.2,1041.1 987.9,1041.1 988.6,1041.1 989.3,1041.1 990,1041.1 990.7,1041.1 991.4,1041.1 992.1,1041.1 992.8,1041.1 993.5,1041.1 994.2,1041.1 994.9,1041.1 995.6,1041.1 996.3,1041 997,1041 997.7,1041 998.4,1041 999.1,1041 999.8,1041 1000.5,1041 1001.2,1041 1001.9,1041 1002.6,1041 1003.3,1041 1004,1041 1004.7,1041 1005.4,1041 1006.1,1041 1006.8,1041 1007.5,1041 1008.2,1041 1008.9,1041 1009.6,1041 1010.3,1041 1011,1041 1011.7,1041 1012.4,1041 1013.1,1041 1013.8,1041 1014.5,1041 1015.2,1041 1015.9,1041 1016.6,1041 1017.3,1041 1018,1041 1018.7,1041 1019.4,1041 1020.1,1041 1020.8,1041 1021.5,1041 1022.2,1041 1022.9,1041 1023.6,1041 1024.3,1041 1025,1041 1025.7,1041 1026.4,1041 1027.1,1041 1027.8,1041 1028.5,1041 1029.2,1041.1 1029.9,1041.2 1030.6,1041.2 1031.3,1041.3 1032,1041.4 1032.7,1041.5 1033.4,1041.5 1034.1,1041.6 1034.8,1041.6 1035.5,1041.7 1036.2,1041.7 1036.9,1041.7 1037.6,1041.7 1038.3,1041.7 1039,1041.7 1039.7,1041.7 1040.4,1041.7 1041.1,1041.7 1041.8,1041.7 1042.5,1041.7 1043.2,1041.7 1043.9,1041.7 1044.6,1041.7 1045.3,1041.7 1046,1041.7 1046.7,1041.7 1047.4,1041.7 1048.1,1041.7 1048.8,1041.7 1049.5,1041.7 1050.2,1041.7 1050.9,1041.7 1051.6,1041.7 1052.3,1041.7 1053,1041.7 1053.7,1041.7 1054.4,1041.7 1055.1,1041.7 1055.8,1041.8 1056.5,1041.8 1057.2,1041.8 1057.9,1041.9 1058.6,1041.9 1059.3,1042 1060,1042 1060.7,1042 1061.4,1042 1062.1,1042 1062.8,1042 1063.5,1042 1064.2,1042 1064.9,1042 1065.6,1042 1066.3,1042 1067,1042 1067.7,1042 1068.4,1042 1069.1,1042 1069.8,1042 1070.5,1042 1071.2,1041.9 1071.9,1041.9 1072.6,1041.9 1073.3,1041.9 1074,1041.9 1074.7,1041.9 1075.4,1041.9 1076.1,1041.9 1076.8,1041.9 1077.5,1041.9 1078.2,1041.8 1078.9,1041.8 1079.6,1041.8 1080.3,1041.8 1081,1041.8 1081.7,1041.8 1082.4,1041.7 1083.1,1041.7 1083.8,1041.6 1084.5,1041.6 1085.2,1041.5 1085.9,1041.5 1086.6,1041.4 1087.3,1041.4 1088,1041.4 1088.7,1041.4 1089.4,1041.4 1090.1,1041.4 1090.8,1041.4 1091.5,1041.4 1092.2,1041.4 1092.9,1041.4 1093.6,1041.4 1094.3,1041.4 1095,1041.4 1095.7,1041.4 1096.4,1041.4 1097.1,1041.4 1097.8,1041.4 1098.5,1041.4 1099.2,1041.4 1099.9,1041.4 1100.6,1041.4 1101.3,1041.4 1102,1041.4 1102.7,1041.4 1103.4,1041.4 1104.1,1041.4 1104.8,1041.4 1105.5,1041.4 1106.2,1041.4 1106.9,1041.4 1107.6,1041.4 1108.3,1041.4 1109,1041.4 1109.7,1041.4 1110.4,1041.4 1111.1,1041.4 1111.8,1041.4 1112.5,1041.4 1113.2,1041.4 1113.9,1041.4 1114.6,1041.4 1115.3,1041.4 1116,1041.4 1116.7,1041.4 1117.4,1041.4 1118.1,1041.4 1118.8,1041.4 1119.5,1041.4 1120.2,1041.4 1120.9,1041.4 1121.6,1041.4 1122.3,1041.4 1123,1041.4 1123.7,1041.4 1124.4,1041.4 1125.1,1041.4 1125.8,1041.4 1126.5,1041.4 1127.2,1041.4 1127.9,1041.4 1128.6,1041.4 1129.3,1041.4 1130,1041.5 1130.7,1041.5 1131.4,1041.6 1132.1,1041.6 1132.8,1041.7 1133.5,1041.7 1134.2,1041.8 1134.9,1041.8 1135.6,1041.8 1136.3,1041.8 1137,1041.8 1137.7,1041.9 1138.4,1041.9 1139.1,1041.9 1139.8,1041.9 1140.5,1041.9 1141.2,1041.9 1141.9,1041.9 1142.6,1041.9 1143.3,1041.9 1144,1041.9 1144.7,1041.9 1145.4,1042 1146.1,1042 1146.8,1042 1147.5,1042 1148.2,1042 1148.9,1042 1149.6,1042 1150.3,1042 1151,1042 1151.7,1042 1152.4,1042 1153.1,1042 1153.8,1042 1154.5,1042 1155.2,1042 1155.9,1042 1156.6,1042 1157.3,1041.9 1158,1041.9 1158.7,1041.8 1159.4,1041.8 1160.1,1041.7 1160.8,1041.7 1161.5,1041.7 1162.2,1041.7 1162.9,1041.7 1163.6,1041.7 1164.3,1041.7 1165,1041.7 1165.7,1041.7 1166.4,1041.7 1167.1,1041.8 1167.8,1041.8 1168.5,1041.8 1169.2,1041.8 1169.9,1041.8 1170.6,1041.8 1171.3,1041.9 1172,1041.9 1172.7,1041.9 1173.4,1041.9 1174.1,1042 1174.8,1042 1175.5,1042 1176.2,1042.1 1176.9,1042.1 1177.6,1042.2 1178.3,1042.3 1179,1042.3 1179.7,1042.4 1180.4,1042.5 1181.1,1042.6 1181.8,1042.8 1182.5,1042.9 1183.2,1043 1184,1043.1 1184.7,1043.2 1185.4,1043.4 1186.1,1043.5 1186.8,1043.7 1187.5,1043.9 1188.2,1044 1188.9,1044.2 1189.6,1044.3 1190.3,1044.4 1191,1044.5 1191.7,1044.6 1192.4,1044.7 1193.1,1044.8 1193.8,1044.8 1194.5,1044.9 1195.2,1044.9 1195.9,1044.9 1196.6,1044.9 1197.3,1044.9 1198,1044.8 1198.7,1044.8 1199.4,1044.7 1200.1,1044.7 1200.8,1044.6 1201.5,1044.5 1202.2,1044.4 1202.9,1044.2 1203.6,1043.9 1204.3,1043.6 1205,1043.3 1205.7,1043 1206.4,1042.6 1207.1,1042.3 1207.8,1041.8 1208.5,1041.4 1209.2,1040.9 1209.9,1040.4 1210.6,1039.9 1211.3,1039.4 1212,1038.9 1212.7,1038.4 1213.4,1037.9 1214.1,1037.4 1214.8,1036.9 1215.5,1036.4 1216.2,1036 1216.9,1035.6 1217.6,1035.4 1218.3,1035.1 1219,1034.9 1219.7,1034.6 1220.4,1034.4 1221.1,1034.3 1221.8,1034.1 1222.5,1034.1 1223.2,1034.2 1223.9,1034.6 1224.6,1035 1225.3,1035.5 1226,1036.1 1226.7,1036.9 1227.4,1037.6 1228.1,1038.4 1228.8,1039 1229.5,1039.4 1230.2,1039.6 1230.9,1039.9 1231.6,1040 1232.3,1040.2 1233,1040.5 1233.7,1040.8 1234.4,1041.2 1235.1,1041.7 1235.8,1042.2 1236.5,1042.7 1237.2,1043.2 1237.9,1043.6 1238.6,1044.2 1239.3,1044.7 1240,1045.2 1240.7,1045.6 1241.4,1045.7 1242.1,1045.7 1242.8,1045.7 1243.5,1045.6 1244.2,1045.6 1244.9,1045.5 1245.6,1045.4 1246.3,1045.4 1247,1045.3 1247.7,1045.2 1248.4,1045 1249.1,1044.9 1249.8,1044.7 1250.5,1044.5 1251.2,1044.3 1251.9,1044.1 1252.6,1043.9 1253.3,1043.8 1254,1043.6 1254.7,1043.5 1255.4,1043.3 1256.1,1043.1 1256.8,1043 1257.5,1042.8 1258.2,1042.6 1258.9,1042.5 1259.6,1042.3 1260.3,1042.2 1261,1042.1 1261.7,1042 1262.4,1041.9 1263.1,1041.8 1263.8,1041.7 1264.5,1041.7 1265.2,1041.6 1265.9,1041.5 1266.6,1041.5 1267.3,1041.4 1268,1041.4 1268.7,1041.3 1269.4,1041.3 1270.1,1041.3 1270.8,1041.3 1271.5,1041.3 1272.2,1041.3 1272.9,1041.3 1273.6,1041.3 1274.3,1041.4 1275,1041.4 1275.7,1041.4 1276.4,1041.4 1277.1,1041.5 1277.8,1041.5 1278.5,1041.5 1279.2,1041.5 1279.9,1041.6 1280.6,1041.6 1281.3,1041.6 1282,1041.6 1282.7,1041.7 1283.4,1041.7 1284.1,1041.7 1284.8,1041.7 1285.5,1041.8 1286.2,1041.8 1286.9,1041.8 1287.6,1041.9 1288.3,1041.9 1289,1041.9 1289.7,1042 1290.4,1042 1291.1,1042 1291.8,1042.1 1292.5,1042.1 1293.2,1042.1 1293.9,1042.2 1294.6,1042.2 1295.3,1042.2 1296,1042.2 1296.7,1042.2 1297.4,1042.2 1298.1,1042.2 1298.8,1042.2 1299.5,1042.2 1300.2,1042.2 1300.9,1042.2 1301.6,1042.2 1302.3,1042.2 1303,1042.2 1303.7,1042.2 1304.4,1042.2 1305.1,1042.2 1305.8,1042.2 1306.5,1042.2 1307.2,1042.2 1307.9,1042.2 1308.6,1042.2 1309.3,1042.2 1310,1042.2 1310.7,1042.2 1311.4,1042.2 1312.1,1042.2 1312.8,1042.2 1313.5,1042.2 1314.2,1042.2 1314.9,1042.2 1315.6,1042.2 1316.3,1042.2 1317,1042.2 1317.7,1042.2 1318.4,1042.2 1319.1,1042.2 1319.8,1042.1 1320.5,1042.1 1321.2,1042 1321.9,1042 1322.6,1042 1323.3,1041.9 1324,1041.9 1324.7,1041.8 1325.4,1041.8 1326.1,1041.8 1326.8,1041.8 1327.5,1041.8 1328.2,1041.8 1328.9,1041.8 1329.6,1041.8 1330.3,1041.8 1331,1041.8 1331.7,1041.8 1332.4,1041.8 1333.1,1041.8 1333.8,1041.8 1334.5,1041.8 1335.2,1041.8 1335.9,1041.8 1336.6,1041.8 1337.3,1041.8 1338,1041.8 1338.7,1041.8 1339.4,1041.8 1340.1,1041.8 1340.8,1041.8 1341.5,1041.8 1342.2,1041.8 1342.9,1041.8 1343.6,1041.8 1344.3,1041.8 1345,1041.8 1345.7,1041.8 1346.4,1041.8 1347.1,1041.8 1347.8,1041.8 1348.5,1041.8 1349.2,1041.8 1349.9,1041.8 1350.6,1041.8 1351.3,1041.8 1352,1041.8 1352.7,1041.8 1353.4,1041.8 1354.1,1041.8 1354.8,1041.8 1355.5,1041.8 1356.2,1041.8 1356.9,1041.8 1357.6,1041.8 1358.3,1041.8 1359,1041.8 1359.7,1041.8 1360.4,1041.8 1361.1,1041.8 1361.8,1041.8 1362.5,1041.8 1363.2,1041.8 1363.9,1041.8 1364.6,1041.8 1365.3,1041.8 1366,1041.8 1366.7,1041.8 1367.4,1041.8 1368.1,1041.8 1368.8,1041.8 1369.5,1041.8 1370.2,1041.8 1370.9,1041.8 1371.6,1041.8 1372.3,1041.8 1373,1041.8 1373.7,1041.8 1374.4,1041.8 1375.1,1041.8 1375.8,1041.8 1376.5,1041.8 1377.2,1041.8 1377.9,1041.8 1378.6,1041.8 1379.3,1041.8 1380,1041.8 1380.7,1041.8 1381.4,1041.8 1382.1,1041.8 1382.8,1041.8 1383.5,1041.8 1384.2,1041.8 1384.9,1041.8 1385.6,1041.8 1386.3,1041.8 1387,1041.8 1387.7,1041.8 1388.4,1041.8 1389.1,1041.8 1389.8,1041.8 1390.5,1041.8 1391.2,1041.8 1391.9,1041.8 1392.6,1041.8 1393.3,1041.8 1394,1041.8 1394.7,1041.8 1395.4,1041.8 1396.1,1041.8 1396.8,1041.8 1397.5,1041.8 1398.2,1041.8 1398.9,1041.8 1399.6,1041.8 1400.3,1041.8 1401,1041.8 1401.7,1041.8 1402.4,1041.8 1403.1,1041.8 1403.8,1041.8 1404.5,1041.8 1405.2,1041.8 1405.9,1041.8 1406.6,1041.8 1407.3,1041.8 1408,1041.8 1408.7,1041.8 1409.4,1041.8 1410.1,1041.8 1410.8,1041.8 1411.5,1041.8 1412.2,1041.8 1412.9,1041.8 1413.6,1041.8 1414.3,1041.8 1415,1041.8 1415.7,1041.8 1416.4,1041.8 1417.1,1041.8 1417.8,1041.8 1418.5,1041.8 1419.2,1041.8 1419.9,1041.9 1420.6,1042 1421.3,1042.1 1422,1042.2 1422.7,1042.2 1423.4,1042.2 1424.1,1042.2 1424.8,1042.1 1425.5,1042.1 1426.2,1042 1426.9,1042 1427.6,1041.9 1428.3,1041.9 1429,1041.8 1429.7,1041.8 1430.4,1041.7 1431.1,1041.7 1431.8,1041.7 1432.5,1041.7 1433.2,1041.7 1433.9,1041.7 1434.6,1041.8 1435.3,1041.8 1436,1041.8 1436.7,1041.9 1437.5,1041.9 1438.2,1042 1438.9,1042 1439.6,1042 1440.3,1042.1 1441,1042.1 1441.7,1042.2 1442.4,1042.2 1443.1,1042.2 1443.8,1042.2 1444.5,1042.2 1445.2,1042.2 1445.9,1042.2 1446.6,1042.2 1447.3,1042.1 1448,1042.1 1448.7,1042.1 1449.4,1042 1450.1,1042 1450.8,1042 1451.5,1041.9 1452.2,1041.9 1452.9,1041.8 1453.6,1041.8 1454.3,1041.7 1455,1041.7 1455.7,1041.6 1456.4,1041.5 1457.1,1041.4 1457.8,1041.4 1458.5,1041.3 1459.2,1041.2 1459.9,1041.1 1460.6,1041 1461.3,1041 1462,1041 1462.7,1041 1463.4,1041.1 1464.1,1041.2 1464.8,1041.2 1465.5,1041.3 1466.2,1041.4 1466.9,1041.4 1467.6,1041.5 1468.3,1041.5 1469,1041.5 1469.7,1041.5 1470.4,1041.5 1471.1,1041.5 1471.8,1041.5 1472.5,1041.4 1473.2,1041.4 1473.9,1041.4 1474.6,1041.4 1475.3,1041.4 1476,1041.3 1476.7,1041.3 1477.4,1041.3 1478.1,1041.3 1478.8,1041.3 1479.5,1041.3 1480.2,1041.3 1480.9,1041.4 1481.6,1041.5 1482.3,1041.6 1483,1041.7 1483.7,1041.8 1484.4,1041.8 1485.1,1041.9 1485.8,1041.9 1486.5,1041.8 1487.2,1041.7 1487.9,1041.5 1488.6,1041.4 1489.3,1041.3 1490,1041.4 1490.7,1041.6 1491.4,1041.9 1492.1,1042.2 1492.8,1042.4 1493.5,1042.6 1494.2,1042.6 1494.9,1042.5 1495.6,1042.4 1496.3,1042.3 1497,1042.3 1497.7,1042.2 1498.4,1042.2 1499.1,1042.3 1499.8,1042.4 1500.5,1042.5 1501.2,1042.7 1501.9,1042.8 1502.6,1042.9 1503.3,1042.9 1504,1042.8 1504.7,1042.6 1505.4,1042.3 1506.1,1042 1506.8,1041.7 1507.5,1041.5 1508.2,1041.3 1508.9,1041.2 1509.6,1041.1 1510.3,1040.9 1511,1040.8 1511.7,1040.7 1512.4,1040.6 1513.1,1040.6 1513.8,1040.5 1514.5,1040.5 1515.2,1040.4 1515.9,1040.4 1516.6,1040.3 1517.3,1040.2 1518,1040.1 1518.7,1040 1519.4,1039.9 1520.1,1039.9 1520.8,1040 1521.5,1040.2 1522.2,1040.6 1522.9,1040.9 1523.6,1041.3 1524.3,1041.6 1525,1042 1525.7,1042.4 1526.4,1042.6 1527.1,1042.8 1527.8,1043 1528.5,1043.2 1529.2,1043.3 1529.9,1043.5 1530.6,1043.5 1531.3,1043.6 1532,1043.6 1532.7,1043.6 1533.4,1043.6 1534.1,1043.5 1534.8,1043.5 1535.5,1043.4 1536.2,1043.4 1536.9,1043.3 1537.6,1043.3 1538.3,1043.2 1539,1043.1 1539.7,1043 1540.4,1043 1541.1,1042.9 1541.8,1042.8 1542.5,1042.7 1543.2,1042.7 1543.9,1042.6 1544.6,1042.5 1545.3,1042.5 1546,1042.4 1546.7,1042.4 1547.4,1042.3 1548.1,1042.3 1548.8,1042.2 1549.5,1042.2 1550.2,1042.1 1550.9,1042.1 1551.6,1042.1 1552.3,1042 1553,1042 1553.7,1042 1554.4,1042 1555.1,1042 1555.8,1041.9 1556.5,1041.9 1557.2,1041.9 1557.9,1041.9 1558.6,1041.9 1559.3,1041.9 1560,1041.8 1560.7,1041.8 1561.4,1041.8 1562.1,1041.8 1562.8,1041.8 1563.5,1041.8 1564.2,1041.8 1564.9,1041.8 1565.6,1041.7 1566.3,1041.7 1567,1041.7 1567.7,1041.7 1568.4,1041.7 1569.1,1041.7 1569.8,1041.7 1570.5,1041.7 1571.2,1041.6 1571.9,1041.6 1572.6,1041.6 1573.3,1041.6 1574,1041.6 1574.7,1041.6 1575.4,1041.6 1576.1,1041.6 1576.8,1041.6 1577.5,1041.6 1578.2,1041.6 1578.9,1041.6 1579.6,1041.6 1580.3,1041.5 1581,1041.5 1581.7,1041.5 1582.4,1041.5 1583.1,1041.5 1583.8,1041.5 1584.5,1041.5 1585.2,1041.5 1585.9,1041.5 1586.6,1041.5 1587.3,1041.5 1588,1041.5 1588.7,1041.5 1589.4,1041.5 1590.1,1041.5 1590.8,1041.5 1591.5,1041.5 1592.2,1041.5 1592.9,1041.5 1593.6,1041.5 1594.3,1041.6 1595,1041.6 1595.7,1041.6 1596.4,1041.7 1597.1,1041.7 1597.8,1041.7 1598.5,1041.8 1599.2,1041.8 1599.9,1041.9 1600.6,1041.9 1601.3,1042 1602,1042 1602.7,1042.1 1603.4,1042.1 1604.1,1042.2 1604.8,1042.2 1605.5,1042.3 1606.2,1042.3 1606.9,1042.4 1607.6,1042.4 1608.3,1042.5 1609,1042.5 1609.7,1042.5 1610.4,1042.6 1611.1,1042.6 1611.8,1042.7 1612.5,1042.7 1613.2,1042.8 1613.9,1042.8 1614.6,1042.9 1615.3,1043 1616,1043 1616.7,1043 1617.4,1043.1 1618.1,1043.1 1618.8,1043.2 1619.5,1043.2 1620.2,1043.2 1620.9,1043.3 1621.6,1043.3 1622.3,1043.3 1623,1043.3 1623.7,1043.3 1624.4,1043.3 1625.1,1043.3 1625.8,1043.3 1626.5,1043.2 1627.2,1043.2 1627.9,1043.1 1628.6,1043.1 1629.3,1043 1630,1043 1630.7,1042.9 1631.4,1042.8 1632.1,1042.7 1632.8,1042.7 1633.5,1042.6 1634.2,1042.5 1634.9,1042.4 1635.6,1042.3 1636.3,1042.2 1637,1042.2 1637.7,1042.1 1638.4,1042 1639.1,1041.9 1639.8,1041.8 1640.5,1041.8 1641.2,1041.7 1641.9,1041.6 1642.6,1041.6 1643.3,1041.5 1644,1041.4 1644.7,1041.3 1645.4,1041.2 1646.1,1041.1 1646.8,1041 1647.5,1041 1648.2,1040.9 1648.9,1040.8 1649.6,1040.7 1650.3,1040.6 1651,1040.6 1651.7,1040.5 1652.4,1040.4 1653.1,1040.4 1653.8,1040.3 1654.5,1040.3 1655.2,1040.3 1655.9,1040.2 1656.6,1040.2 1657.3,1040.2 1658,1040.1 1658.7,1040.1 1659.4,1040.1 1660.1,1040.1 1660.8,1040 1661.5,1040 1662.2,1040 1662.9,1040 1663.6,1040 1664.3,1039.9 1665,1039.9 1665.7,1039.9 1666.4,1039.9 1667.1,1039.9 1667.8,1039.9 1668.5,1039.9 1669.2,1039.9 1669.9,1040 1670.6,1040 1671.3,1040.1 1672,1040.1 1672.7,1040.2 1673.4,1040.3 1674.1,1040.4 1674.8,1040.5 1675.5,1040.6 1676.2,1040.7 1676.9,1040.8 1677.6,1040.9 1678.3,1041 1679,1041.2 1679.7,1041.4 1680.4,1041.6 1681.1,1041.8 1681.8,1041.9 1682.5,1042.1 1683.2,1042.3 1683.9,1042.4 1684.6,1042.5 1685.3,1042.6 1686,1042.6 1686.7,1042.6 1687.4,1042.6 1688.1,1042.5 1688.8,1042.5 1689.5,1042.4 1690.2,1042.3 1691,1041.9 1691.7,1041.4 1692.4,1041 1693.1,1040.5 1693.8,1040.3 1694.5,1040.2 1695.2,1040.1 1695.9,1040.1 1696.6,1040 1697.3,1040 1698,1039.9 1698.7,1039.9 1699.4,1039.9 1700.1,1040 1700.8,1040.2 1701.5,1040.5 1702.2,1040.8 1702.9,1041.1 1703.6,1041.5 1704.3,1042 1705,1042.6 1705.7,1043.2 1706.4,1043.7 1707.1,1044 1707.8,1043.8 1708.5,1042.9 1709.2,1041.9 1709.9,1041.3 1710.6,1041.2 1711.3,1041.1 1712,1041 1712.7,1041 1713.4,1040.9 1714.1,1040.9 1714.8,1040.9 1715.5,1040.9 1716.2,1041.2 1716.9,1041.7 1717.6,1042.2 1718.3,1042.8 1719,1043.7 1719.7,1044.6 1720.4,1045.2 1721.1,1045.2 1721.8,1044.4 1722.5,1043.3 1723.2,1042.3 1723.9,1041.5 1724.6,1040.8 1725.3,1040.2 1726,1039.9 1726.7,1040.3 1727.4,1041.5 1728.1,1043 1728.8,1044.3 1729.5,1044.9 1730.2,1044.6 1730.9,1043.8 1731.6,1042.8 1732.3,1042 1733,1041.7 1733.7,1042.3 1734.4,1043.4 1735.1,1044.9 1735.8,1046.3 1736.5,1048 1737.2,1049.8 1737.9,1051.4 1738.6,1052.4 1739.3,1053.3 1740,1054 1740.7,1054.4 1741.4,1054.4 1742.1,1054 1742.8,1053.2 1743.5,1052.4 1744.2,1051.5 1744.9,1050.6 1745.6,1049.5 1746.3,1048.3 1747,1047.1 1747.7,1046 1748.4,1045 1749.1,1043.9 1749.8,1042.8 1750.5,1041.8 1751.2,1040.8 1751.9,1039.8 1752.6,1038.9 1753.3,1037.9 1754,1037 1754.7,1036.2 1755.4,1035.5 1756.1,1035 1756.8,1034.6 1757.5,1034.3 1758.2,1034 1758.9,1033.8 1759.6,1033.6 1760.3,1033.4 1761,1033.3 1761.7,1033.2 1762.4,1033.4 1763.1,1034.3 1763.8,1034.9 1764.5,1034.9 1765.2,1034.8 1765.9,1034.6 1766.6,1034.5 1767.3,1034.3 1768,1034.3 1768.7,1034.4 1769.4,1034.7 1770.1,1035.1 1770.8,1035.6 1771.5,1036.2 1772.2,1036.8 1772.9,1037.7 1773.6,1038.8 1774.3,1040 1775,1041 1775.7,1042.2 1776.4,1043.4 1777.1,1044.2 1777.8,1044.5 1778.5,1044.7 1779.2,1044.9 1779.9,1045 1780.6,1045.1 1781.3,1045.2 1782,1045.3 1782.7,1045.3 1783.4,1045.3 1784.1,1045.3 1784.8,1045.3 1785.5,1045.2 1786.2,1045.2 1786.9,1045.2 1787.6,1045.1 1788.3,1045.1 1789,1045.1 1789.7,1045.1 1790.4,1045.1 1791.1,1045.1 1791.8,1045.2 1792.5,1045.2 1793.2,1045.2 1793.9,1045.3 1794.6,1045.3 1795.3,1045.3 1796,1045.3 1796.7,1045.3 1797.4,1045.2 1798.1,1045.1 1798.8,1045 1799.5,1044.8 1800.2,1044.6 1800.9,1044.4 1801.6,1044.2 1802.3,1044 1803,1043.7 1803.7,1043.5 1804.4,1043.3 1805.1,1043.1 1805.8,1042.9 1806.5,1042.7 1807.2,1042.5 1807.9,1042.3 1808.6,1042.2 1809.3,1042 1810,1041.8 1810.7,1041.6 1811.4,1041.4 1812.1,1041.3 1812.8,1041.1 1813.5,1040.9 1814.2,1040.8 1814.9,1040.6 1815.6,1040.4 1816.3,1040.3 1817,1040.2 1817.7,1040.1 1818.4,1040 1819.1,1039.9 1819.8,1039.8 1820.5,1039.7 1821.2,1039.6 1821.9,1039.5 1822.6,1039.5 1823.3,1039.4 1824,1039.3 1824.7,1039.3 1825.4,1039.2 1826.1,1039.1 1826.8,1039.1 1827.5,1039.1 1828.2,1039 1828.9,1039 1829.6,1039 1830.3,1039 1831,1039 1831.7,1039 1832.4,1039 1833.1,1039.1 1833.8,1039.1 1834.5,1039.1 1835.2,1039.2 1835.9,1039.2 1836.6,1039.2 1837.3,1039.3 1838,1039.3 1838.7,1039.4 1839.4,1039.4 1840.1,1039.5 1840.8,1039.5 1841.5,1039.6 1842.2,1039.7 1842.9,1039.7 1843.6,1039.8 1844.3,1039.9 1845,1040 1845.7,1040.1 1846.4,1040.3 1847.1,1040.4 1847.8,1040.5 1848.5,1040.6 1849.2,1040.7 1849.9,1040.9 1850.6,1041 1851.3,1041.1 1852,1041.2 1852.7,1041.3 1853.4,1041.4 1854.1,1041.5 1854.8,1041.6 1855.5,1041.7 1856.2,1041.9 1856.9,1042 1857.6,1042.1 1858.3,1042.2 1859,1042.3 1859.7,1042.4 1860.4,1042.5 1861.1,1042.6 1861.8,1042.7 1862.5,1042.8 1863.2,1042.9 1863.9,1043 1864.6,1043.1 1865.3,1043.2 1866,1043.3 1866.7,1043.4 1867.4,1043.5 1868.1,1043.6 1868.8,1043.7 1869.5,1043.8 1870.2,1043.9 1870.9,1044 1871.6,1044.1 1872.3,1044.2 1873,1044.2 1873.7,1044.3 1874.4,1044.4 1875.1,1044.5 1875.8,1044.5 1876.5,1044.6 1877.2,1044.6 1877.9,1044.6 1878.6,1044.6 1879.3,1044.5 1880,1044.5 1880.7,1044.3 1881.4,1044.2 1882.1,1044.1 1882.8,1044 1883.5,1044 1884.2,1044 1884.9,1044.1 1885.6,1044.3 1886.3,1044.4 1887,1044.6 1887.7,1044.6 1888.4,1044.5 1889.1,1044.2 1889.8,1043.9 1890.5,1043.6 1891.2,1043.4 1891.9,1043.3 1892.6,1043.3 1893.3,1043.3 1894,1043.3 1894.7,1043.3 1895.4,1043.3 1896.1,1043.3 1896.8,1043.3 1897.5,1043.3 1898.2,1043.1 1898.9,1042.8 1899.6,1042.4 1900.3,1042 1901,1041.5 1901.7,1041 1902.4,1040.7 1903.1,1040.4 1903.8,1040 1904.5,1039.7 1905.2,1039.3 1905.9,1039 1906.6,1038.8 1907.3,1038.6 1908,1038.6 1908.7,1038.7 1909.4,1039 1910.1,1039.3 1910.8,1039.6 1911.5,1039.9 1912.2,1039.9 1912.9,1039.7 1913.6,1039.5 1914.3,1039.1 1915,1038.7 1915.7,1038.4 1916.4,1038.1 1917.1,1037.9 1917.8,1037.9 1918.5,1038.1 1919.2,1038.3 1919.9,1038.5 1920.6,1038.8 1921.3,1039 1922,1039.2 1922.7,1039.3 1923.4,1039.2 1924.1,1038.9 1924.8,1038.5 1925.5,1038.1 1926.2,1037.6 1926.9,1037.1 1927.6,1036.8 1928.3,1036.6 1929,1036.4 1929.7,1036.3 1930.4,1036.2 1931.1,1036.2 1931.8,1036.4 1932.5,1036.7 1933.2,1037 1933.9,1037.4 1934.6,1037.8 1935.3,1038.3 1936,1038.8 1936.7,1039.4 1937.4,1040 1938.1,1040.8 1938.8,1041.6 1939.5,1041.9 1940.2,1041.6 1940.9,1040.8 1941.6,1039.8 1942.3,1038.7 1943,1037.9 1943.7,1037.6 1944.5,1037.7 1945.2,1038 1945.9,1038.3 1946.6,1038.7 1947.3,1039.3 1948,1040.2 1948.7,1040.8 1949.4,1040.9 1950.1,1040.8 1950.8,1040.7 1951.5,1040.6 1952.2,1040.6 1952.9,1040.8 1953.6,1041 1954.3,1041.4 1955,1041.8 1955.7,1042.5 1956.4,1043.3 1957.1,1044.1 1957.8,1044.7 1958.5,1045.3 1959.2,1045.6 1959.9,1045.5 1960.6,1045.2 1961.3,1044.9 1962,1044.7 1962.7,1044.6 1963.4,1044.6 1964.1,1044.8 1964.8,1044.9 1965.5,1045.1 1966.2,1045.2 1966.9,1045.3 1967.6,1045.3 1968.3,1045.3 1969,1045.3 1969.7,1045.2 1970.4,1045.2 1971.1,1045.1 1971.8,1045.1 1972.5,1045 1973.2,1045 1973.9,1044.9 1974.6,1044.8 1975.3,1044.7 1976,1044.6 1976.7,1044.5 1977.4,1044.3 1978.1,1044.2 1978.8,1044 1979.5,1043.8 1980.2,1043.7 1980.9,1043.5 1981.6,1043.4 1982.3,1043.3 1983,1043.2 1983.7,1043.1 1984.4,1043 1985.1,1042.9 1985.8,1042.8 1986.5,1042.7 1987.2,1042.6 1987.9,1042.5 1988.6,1042.4 1989.3,1042.4 1990,1042.3 1990.7,1042.3 1991.4,1042.2 1992.1,1042.2 1992.8,1042.1 1993.5,1042.1 1994.2,1042.1 1994.9,1042 1995.6,1042 1996.3,1041.9 1997,1041.9 1997.7,1041.9 1998.4,1041.9 1999.1,1041.8 1999.8,1041.8 2000.5,1041.8 2001.2,1041.8 2001.9,1041.7 2002.6,1041.7 2003.3,1041.7 2004,1041.7 2004.7,1041.7 2005.4,1041.7 2006.1,1041.7 2006.8,1041.7 2007.5,1041.7 2008.2,1041.7 2008.9,1041.7 2009.6,1041.7 2010.3,1041.7 2011,1041.7 2011.7,1041.7 2012.4,1041.8 2013.1,1041.8 2013.8,1041.8 2014.5,1041.8 2015.2,1041.8 2015.9,1041.8 2016.6,1041.8 2017.3,1041.8 2018,1041.8 2018.7,1041.9 2019.4,1041.9 2020.1,1041.9 2020.8,1041.9 2021.5,1041.9 2022.2,1041.9 2022.9,1041.9 2023.6,1041.9 2024.3,1041.9 2025,1041.9 2025.7,1042 2026.4,1042 2027.1,1042 2027.8,1042 2028.5,1042 2029.2,1042 2029.9,1042 2030.6,1042 2031.3,1042 2032,1042 2032.7,1042 2033.4,1042 2034.1,1042 2034.8,1042 2035.5,1042 2036.2,1042 2036.9,1041.9 2037.6,1041.9 2038.3,1041.9 2039,1041.9 2039.7,1041.9 2040.4,1041.8 2041.1,1041.8 2041.8,1041.8 2042.5,1041.8 2043.2,1041.7 2043.9,1041.7 2044.6,1041.7 2045.3,1041.7 2046,1041.6 2046.7,1041.6 2047.4,1041.6 2048.1,1041.6 2048.8,1041.5 2049.5,1041.5 2050.2,1041.5 2050.9,1041.5 2051.6,1041.4 2052.3,1041.4 2053,1041.4 2053.7,1041.4 2054.4,1041.4 2055.1,1041.3 2055.8,1041.3 2056.5,1041.3 2057.2,1041.3 2057.9,1041.3 2058.6,1041.3 2059.3,1041.3 2060,1041.3 2060.7,1041.3 2061.4,1041.3 2062.1,1041.3 2062.8,1041.3 2063.5,1041.3 2064.2,1041.3 2064.9,1041.3 2065.6,1041.3 2066.3,1041.3 2067,1041.3 2067.7,1041.3 2068.4,1041.3 2069.1,1041.3 2069.8,1041.3 2070.5,1041.3" fill="none" stroke="#000" stroke-width="2.1" stroke-linejoin="round" stroke-linecap="butt" />
<line x1="982.3" y1="1000.8" x2="982.3" y2="1027.8" stroke="#9B2068" stroke-width="2"/>
<line x1="1230.9" y1="1000.8" x2="1230.9" y2="1027.8" stroke="#9B2068" stroke-width="2"/>
<line x1="1237.7" y1="1000.8" x2="1237.7" y2="1027.8" stroke="#9B2068" stroke-width="2"/>
<line x1="1267.7" y1="1000.8" x2="1267.7" y2="1027.8" stroke="#9B2068" stroke-width="2"/>
<line x1="1331.4" y1="1000.8" x2="1331.4" y2="1027.8" stroke="#9B2068" stroke-width="2"/>
<line x1="1389.4" y1="1000.8" x2="1389.4" y2="1027.8" stroke="#9B2068" stroke-width="2"/>
<line x1="1403.8" y1="1000.8" x2="1403.8" y2="1027.8" stroke="#9B2068" stroke-width="2"/>
<line x1="1440" y1="1000.8" x2="1440" y2="1027.8" stroke="#9B2068" stroke-width="2"/>
<line x1="1447" y1="1000.8" x2="1447" y2="1027.8" stroke="#9B2068" stroke-width="2"/>
<line x1="1480.1" y1="1000.8" x2="1480.1" y2="1027.8" stroke="#9B2068" stroke-width="2"/>
<line x1="1507.4" y1="1000.8" x2="1507.4" y2="1027.8" stroke="#9B2068" stroke-width="2"/>
<line x1="1529" y1="1000.8" x2="1529" y2="1027.8" stroke="#9B2068" stroke-width="2"/>
<line x1="1561.6" y1="1000.8" x2="1561.6" y2="1027.8" stroke="#9B2068" stroke-width="2"/>
<line x1="1646.1" y1="1000.8" x2="1646.1" y2="1027.8" stroke="#9B2068" stroke-width="2"/>
<line x1="1666.4" y1="1000.8" x2="1666.4" y2="1027.8" stroke="#9B2068" stroke-width="2"/>
<line x1="1741.2" y1="1000.8" x2="1741.2" y2="1027.8" stroke="#9B2068" stroke-width="2"/>
<line x1="1771" y1="1000.8" x2="1771" y2="1027.8" stroke="#9B2068" stroke-width="2"/>
<line x1="1808.8" y1="1000.8" x2="1808.8" y2="1027.8" stroke="#9B2068" stroke-width="2"/>
<line x1="1911.7" y1="1000.8" x2="1911.7" y2="1027.8" stroke="#9B2068" stroke-width="2"/>
<line x1="1915.6" y1="1000.8" x2="1915.6" y2="1027.8" stroke="#9B2068" stroke-width="2"/>
<line x1="1931.1" y1="1000.8" x2="1931.1" y2="1027.8" stroke="#9B2068" stroke-width="2"/>
<line x1="1958.3" y1="1000.8" x2="1958.3" y2="1027.8" stroke="#9B2068" stroke-width="2"/>
<line x1="1973" y1="1000.8" x2="1973" y2="1027.8" stroke="#9B2068" stroke-width="2"/>
<line x1="1995.6" y1="1000.8" x2="1995.6" y2="1027.8" stroke="#9B2068" stroke-width="2"/>
<line x1="2009.4" y1="1000.8" x2="2009.4" y2="1027.8" stroke="#9B2068" stroke-width="2"/>
<line x1="2044.2" y1="1000.8" x2="2044.2" y2="1027.8" stroke="#9B2068" stroke-width="2"/>
<line x1="872.2" y1="986.9" x2="872.2" y2="1013.6" stroke="#9B2068" stroke-width="2"/>
<line x1="879.2" y1="986.9" x2="879.2" y2="1013.6" stroke="#9B2068" stroke-width="2"/>
<rect x="803.5" y="15.5" width="1267.9" height="1071.5" fill="none" stroke="#000" stroke-width="2"/>
<line x1="806.2" y1="374.0" x2="2068" y2="374.0" stroke="#000" stroke-width="2" stroke-linecap="round"/>
<line x1="806.2" y1="719.7" x2="2068" y2="719.7" stroke="#000" stroke-width="2" stroke-linecap="round"/>
<line x1="891.7" y1="1087" x2="891.7" y2="1097" stroke="#000" stroke-width="2"/>
<line x1="1067.8" y1="1087" x2="1067.8" y2="1097" stroke="#000" stroke-width="2"/>
<line x1="1243.8" y1="1087" x2="1243.8" y2="1097" stroke="#000" stroke-width="2"/>
<line x1="1419.9" y1="1087" x2="1419.9" y2="1097" stroke="#000" stroke-width="2"/>
<line x1="1596" y1="1087" x2="1596" y2="1097" stroke="#000" stroke-width="2"/>
<line x1="1772" y1="1087" x2="1772" y2="1097" stroke="#000" stroke-width="2"/>
<line x1="1948.1" y1="1087" x2="1948.1" y2="1097" stroke="#000" stroke-width="2"/>
<line x1="803.7" y1="1087" x2="803.7" y2="1092.5" stroke="#000" stroke-width="2"/>
<line x1="979.8" y1="1087" x2="979.8" y2="1092.5" stroke="#000" stroke-width="2"/>
<line x1="1155.8" y1="1087" x2="1155.8" y2="1092.5" stroke="#000" stroke-width="2"/>
<line x1="1331.9" y1="1087" x2="1331.9" y2="1092.5" stroke="#000" stroke-width="2"/>
<line x1="1507.9" y1="1087" x2="1507.9" y2="1092.5" stroke="#000" stroke-width="2"/>
<line x1="1684" y1="1087" x2="1684" y2="1092.5" stroke="#000" stroke-width="2"/>
<line x1="1860.1" y1="1087" x2="1860.1" y2="1092.5" stroke="#000" stroke-width="2"/>
<line x1="2036.1" y1="1087" x2="2036.1" y2="1092.5" stroke="#000" stroke-width="2"/>
<line x1="1644.6" y1="50" x2="1709.6" y2="50" stroke="#7088D8" stroke-width="2"/>
<line x1="1644.6" y1="106.2" x2="1709.6" y2="106.2" stroke="#F283EE" stroke-width="2"/>
<line x1="1644.6" y1="426.1" x2="1709.6" y2="426.1" stroke="#E6C068" stroke-width="2"/>
<line x1="1644.6" y1="787" x2="1709.6" y2="787" stroke="#E4605F" stroke-width="2"/>
</g>
<g id="labels" font-size="30" stroke-linejoin="round">
<text transform="translate(80.5,67.6) scale(0.9166,1)" fill="#000" stroke="#000" stroke-width="0.4">FAPbI<tspan font-size="15" dx="0.5">3</tspan></text>
<text transform="translate(519.9,66) scale(0.8815,1)" fill="#000" stroke="#000" stroke-width="0.4">(002)</text>
<text transform="translate(590.6,66) scale(0.89,1)" fill="#000" stroke="#000" stroke-width="0.4">&amp;</text>
<text transform="translate(618.6,66) scale(0.9962,1)" fill="#000" stroke="#000" stroke-width="0.4">(110)</text>
<text transform="translate(598,187.7) scale(0.8864,1)" fill="#000" stroke="#000" stroke-width="0.4">150 <tspan font-family="'DejaVu Serif','Liberation Serif',serif" font-size="16.5" dy="-10.9" dx="-0.6" font-weight="bold" stroke-width="0">o</tspan><tspan dy="10.9">C</tspan></text>
<text transform="translate(598,255) scale(0.8864,1)" fill="#000" stroke="#000" stroke-width="0.4">125 <tspan font-family="'DejaVu Serif','Liberation Serif',serif" font-size="16.5" dy="-10.9" dx="-0.6" font-weight="bold" stroke-width="0">o</tspan><tspan dy="10.9">C</tspan></text>
<text transform="translate(598,307.5) scale(0.8864,1)" fill="#000" stroke="#000" stroke-width="0.4">100 <tspan font-family="'DejaVu Serif','Liberation Serif',serif" font-size="16.5" dy="-10.9" dx="-0.6" font-weight="bold" stroke-width="0">o</tspan><tspan dy="10.9">C</tspan></text>
<text transform="translate(601.6,366.3) scale(0.8858,1)" fill="#000" stroke="#000" stroke-width="0.4">75 <tspan font-family="'DejaVu Serif','Liberation Serif',serif" font-size="16.5" dy="-10.9" dx="-0.6" font-weight="bold" stroke-width="0">o</tspan><tspan dy="10.9">C</tspan></text>
<text transform="translate(601.8,427.1) scale(0.8828,1)" fill="#000" stroke="#000" stroke-width="0.4">50 <tspan font-family="'DejaVu Serif','Liberation Serif',serif" font-size="16.5" dy="-10.9" dx="-0.6" font-weight="bold" stroke-width="0">o</tspan><tspan dy="10.9">C</tspan></text>
<text transform="translate(601.8,462.5) scale(0.8828,1)" fill="#000" stroke="#000" stroke-width="0.4">25 <tspan font-family="'DejaVu Serif','Liberation Serif',serif" font-size="16.5" dy="-10.9" dx="-0.6" font-weight="bold" stroke-width="0">o</tspan><tspan dy="10.9">C</tspan></text>
<text transform="translate(180.2,534.6) scale(0.8897,1)" fill="#000" stroke="#000" stroke-width="0.4">13.6</text>
<text transform="translate(376.7,537.2) scale(0.8911,1)" fill="#000" stroke="#000" stroke-width="0.4">13.8</text>
<text transform="translate(573.9,534.6) scale(0.8901,1)" fill="#000" stroke="#000" stroke-width="0.4">14.0</text>
<text transform="translate(291.9,570.5) scale(0.9733,1)" fill="#000" stroke="#000" stroke-width="0.4">2<tspan font-family="'Liberation Serif','DejaVu Serif',serif" font-style="italic" font-weight="normal" stroke-width="0" font-size="30" dx="1.5">θ</tspan> (degree)</text>
<text transform="translate(23.7,368.2) rotate(-90) scale(0.8894,1)" fill="#000" stroke="#000" stroke-width="0.4">Intensity (a.u.)</text>
<text transform="translate(79.8,661.5) scale(0.9166,1)" fill="#000" stroke="#000" stroke-width="0.4">FAPbI<tspan font-size="15" dx="0.5">3</tspan></text>
<text transform="translate(515.3,669.2) scale(0.8815,1)" fill="#000" stroke="#000" stroke-width="0.4">(004)</text>
<text transform="translate(586,669.2) scale(0.87,1)" fill="#000" stroke="#000" stroke-width="0.4">&amp;</text>
<text transform="translate(614.1,669.2) scale(0.9615,1)" fill="#000" stroke="#000" stroke-width="0.4">(220)</text>
<text transform="translate(598,791.4) scale(0.8864,1)" fill="#000" stroke="#000" stroke-width="0.4">150 <tspan font-family="'DejaVu Serif','Liberation Serif',serif" font-size="16.5" dy="-10.9" dx="-0.6" font-weight="bold" stroke-width="0">o</tspan><tspan dy="10.9">C</tspan></text>
<text transform="translate(598,827.2) scale(0.8864,1)" fill="#000" stroke="#000" stroke-width="0.4">125 <tspan font-family="'DejaVu Serif','Liberation Serif',serif" font-size="16.5" dy="-10.9" dx="-0.6" font-weight="bold" stroke-width="0">o</tspan><tspan dy="10.9">C</tspan></text>
<text transform="translate(598,861.7) scale(0.8864,1)" fill="#000" stroke="#000" stroke-width="0.4">100 <tspan font-family="'DejaVu Serif','Liberation Serif',serif" font-size="16.5" dy="-10.9" dx="-0.6" font-weight="bold" stroke-width="0">o</tspan><tspan dy="10.9">C</tspan></text>
<text transform="translate(601.6,917.2) scale(0.8858,1)" fill="#000" stroke="#000" stroke-width="0.4">75 <tspan font-family="'DejaVu Serif','Liberation Serif',serif" font-size="16.5" dy="-10.9" dx="-0.6" font-weight="bold" stroke-width="0">o</tspan><tspan dy="10.9">C</tspan></text>
<text transform="translate(601.8,985.7) scale(0.8828,1)" fill="#000" stroke="#000" stroke-width="0.4">50 <tspan font-family="'DejaVu Serif','Liberation Serif',serif" font-size="16.5" dy="-10.9" dx="-0.6" font-weight="bold" stroke-width="0">o</tspan><tspan dy="10.9">C</tspan></text>
<text transform="translate(601.8,1055) scale(0.8828,1)" fill="#000" stroke="#000" stroke-width="0.4">25 <tspan font-family="'DejaVu Serif','Liberation Serif',serif" font-size="16.5" dy="-10.9" dx="-0.6" font-weight="bold" stroke-width="0">o</tspan><tspan dy="10.9">C</tspan></text>
<text transform="translate(32.3,1129.2) scale(0.904,1)" fill="#000" stroke="#000" stroke-width="0.4">27.6</text>
<text transform="translate(192.5,1129.2) scale(0.8877,1)" fill="#000" stroke="#000" stroke-width="0.4">27.8</text>
<text transform="translate(352.4,1129.2) scale(0.9027,1)" fill="#000" stroke="#000" stroke-width="0.4">28.0</text>
<text transform="translate(512.7,1129.2) scale(0.8846,1)" fill="#000" stroke="#000" stroke-width="0.4">28.2</text>
<text transform="translate(672.2,1129.2) scale(0.8848,1)" fill="#000" stroke="#000" stroke-width="0.4">28.4</text>
<text transform="translate(291.7,1173.3) scale(0.9778,1)" fill="#000" stroke="#000" stroke-width="0.4">2<tspan font-family="'Liberation Serif','DejaVu Serif',serif" font-style="italic" font-weight="normal" stroke-width="0" font-size="30" dx="1.5">θ</tspan> (degree)</text>
<text transform="translate(27.8,961.8) rotate(-90) scale(0.8844,1)" fill="#000" stroke="#000" stroke-width="0.4">Intensity (a.u.)</text>
<text transform="translate(872,1133.9) scale(0.9769,1)" fill="#000" stroke="#000" stroke-width="0.4">1.0</text>
<text transform="translate(1048.2,1133.9) scale(0.9769,1)" fill="#000" stroke="#000" stroke-width="0.4">1.2</text>
<text transform="translate(1224,1133.9) scale(0.9575,1)" fill="#000" stroke="#000" stroke-width="0.4">1.4</text>
<text transform="translate(1400.3,1133.9) scale(0.9615,1)" fill="#000" stroke="#000" stroke-width="0.4">1.6</text>
<text transform="translate(1575.8,1133.9) scale(0.9707,1)" fill="#000" stroke="#000" stroke-width="0.4">1.8</text>
<text transform="translate(1752.6,1133.9) scale(0.96,1)" fill="#000" stroke="#000" stroke-width="0.4">2.0</text>
<text transform="translate(1928.4,1133.9) scale(0.9775,1)" fill="#000" stroke="#000" stroke-width="0.4">2.2</text>
<text transform="translate(1391.5,1176.8) scale(0.9567,1)" fill="#000" stroke="#000" stroke-width="0.4"><tspan font-style="italic">q</tspan> (<tspan font-family="'Liberation Serif','DejaVu Serif',serif" font-weight="normal" stroke-width="0.8" font-size="30">Å</tspan><tspan font-size="15" dy="-10">-1</tspan><tspan dy="10">)</tspan></text>
<text transform="translate(773.8,695.2) rotate(-90) scale(0.9858,1)" fill="#000" stroke="#000" stroke-width="0.4">Intensity (a.u.)</text>
<text transform="translate(823.7,58.5) scale(0.9659,1)" fill="#F582EE" stroke="#F582EE" stroke-width="0.4">(100)</text>
<text transform="translate(1697.4,207.3) scale(0.9763,1)" fill="#F582EE" stroke="#F582EE" stroke-width="0.4">(200)</text>
<text transform="translate(817.6,410.5) scale(0.952,1)" fill="#DEAA3C" stroke="#DEAA3C" stroke-width="0.4" word-spacing="2.69">(002) &amp; (110)</text>
<text transform="translate(1649.1,567.4) scale(0.952,1)" fill="#DEAA3C" stroke="#DEAA3C" stroke-width="0.4" word-spacing="2.18">(004) &amp; (220)</text>
<text transform="translate(821.7,770.1) scale(0.952,1)" fill="#E8646E" stroke="#E8646E" stroke-width="0.4" word-spacing="2.63">(002) &amp; (110)</text>
<text transform="translate(1189,946.5) scale(0.9689,1)" fill="#E8646E" stroke="#E8646E" stroke-width="0.4">(020)</text>
<text transform="translate(1478.2,953.4) scale(0.96,1)" fill="#E8646E" stroke="#E8646E" stroke-width="0.4">(022)</text>
<text transform="translate(1651.7,930.4) scale(0.952,1)" fill="#E8646E" stroke="#E8646E" stroke-width="0.4" word-spacing="2.02">(004) &amp; (220)</text>
<text transform="translate(1863,933.7) scale(0.952,1)" fill="#E8646E" stroke="#E8646E" stroke-width="0.4" word-spacing="2.63">(130) &amp; (311)</text>
<text transform="translate(1716.8,59.5)" fill="#000" stroke="#000" stroke-width="0.4" letter-spacing="0.15">FAPbI<tspan font-size="15" dx="0.5">3</tspan></text>
<text transform="translate(1717.8,116.1)" fill="#000" stroke="#000" stroke-width="0.4" letter-spacing="0.10"><tspan font-family="'Liberation Serif','DejaVu Serif',serif" font-size="33">α</tspan>-phase (<tspan font-family="'Liberation Serif','DejaVu Serif',serif" font-weight="normal" stroke-width="0.3" font-size="24.5" dy="-4.2">χ</tspan><tspan font-size="12" dy="-9.4" dx="0.3" stroke-width="0.5">2</tspan><tspan dy="13.6" dx="2.5">= 0.0187)</tspan></text>
<text transform="translate(1717.3,435.6)" fill="#000" stroke="#000" stroke-width="0.4" letter-spacing="0.16"><tspan font-family="'Liberation Serif','DejaVu Serif',serif" font-size="32">β</tspan>-phase (<tspan font-family="'Liberation Serif','DejaVu Serif',serif" font-weight="normal" stroke-width="0.3" font-size="24.5" dy="-4.2">χ</tspan><tspan font-size="12" dy="-9.4" dx="0.3" stroke-width="0.5">2</tspan><tspan dy="13.6" dx="2.5">= 0.0134)</tspan></text>
<text transform="translate(1718.2,796)" fill="#000" stroke="#000" stroke-width="0.4" letter-spacing="0.16"><tspan font-family="'Liberation Serif','DejaVu Serif',serif" font-size="31" font-weight="normal" stroke-width="0.8">γ</tspan>-phase (<tspan font-family="'Liberation Serif','DejaVu Serif',serif" font-weight="normal" stroke-width="0.3" font-size="24.5" dy="-4.2">χ</tspan><tspan font-size="12" dy="-9.4" dx="0.3" stroke-width="0.5">2</tspan><tspan dy="13.6" dx="2.5">= 0.0066)</tspan></text>
<text transform="translate(1293.2,753.6) scale(0.976,1)" fill="#000" stroke="#000" stroke-width="0.4"><tspan font-style="italic">Pbnm</tspan><tspan dx="4"> space group</tspan></text>
<text transform="translate(1292.7,793.2) scale(0.9493,1)" fill="#000" stroke="#000" stroke-width="0.4">a = 9.0332 <tspan font-family="'Liberation Serif','DejaVu Serif',serif" font-weight="normal" stroke-width="0.8" font-size="31">Å</tspan></text>
<text transform="translate(1291.7,832.7) scale(0.9516,1)" fill="#000" stroke="#000" stroke-width="0.4">b = 9.2379 <tspan font-family="'Liberation Serif','DejaVu Serif',serif" font-weight="normal" stroke-width="0.8" font-size="31">Å</tspan></text>
<text transform="translate(1292.4,871.6) scale(0.9538,1)" fill="#000" stroke="#000" stroke-width="0.4">c = 13.0879 <tspan font-family="'Liberation Serif','DejaVu Serif',serif" font-weight="normal" stroke-width="0.8" font-size="31">Å</tspan></text>
<text transform="translate(1293.4,915.7) scale(0.9819,1)" fill="#000" stroke="#000" stroke-width="0.4">Vol. = 1092.17 <tspan font-family="'Liberation Serif','DejaVu Serif',serif" font-weight="normal" stroke-width="0.8" font-size="31">Å</tspan><tspan font-size="17" dy="-9">3</tspan></text>
<text transform="translate(8.6,21.15)" font-size="33">a</text>
<text transform="translate(9.6,618.55)" font-size="33">b</text>
<text transform="translate(757.8,21.15)" font-size="33">c</text>
</g>
</svg>
</body>
</html>
